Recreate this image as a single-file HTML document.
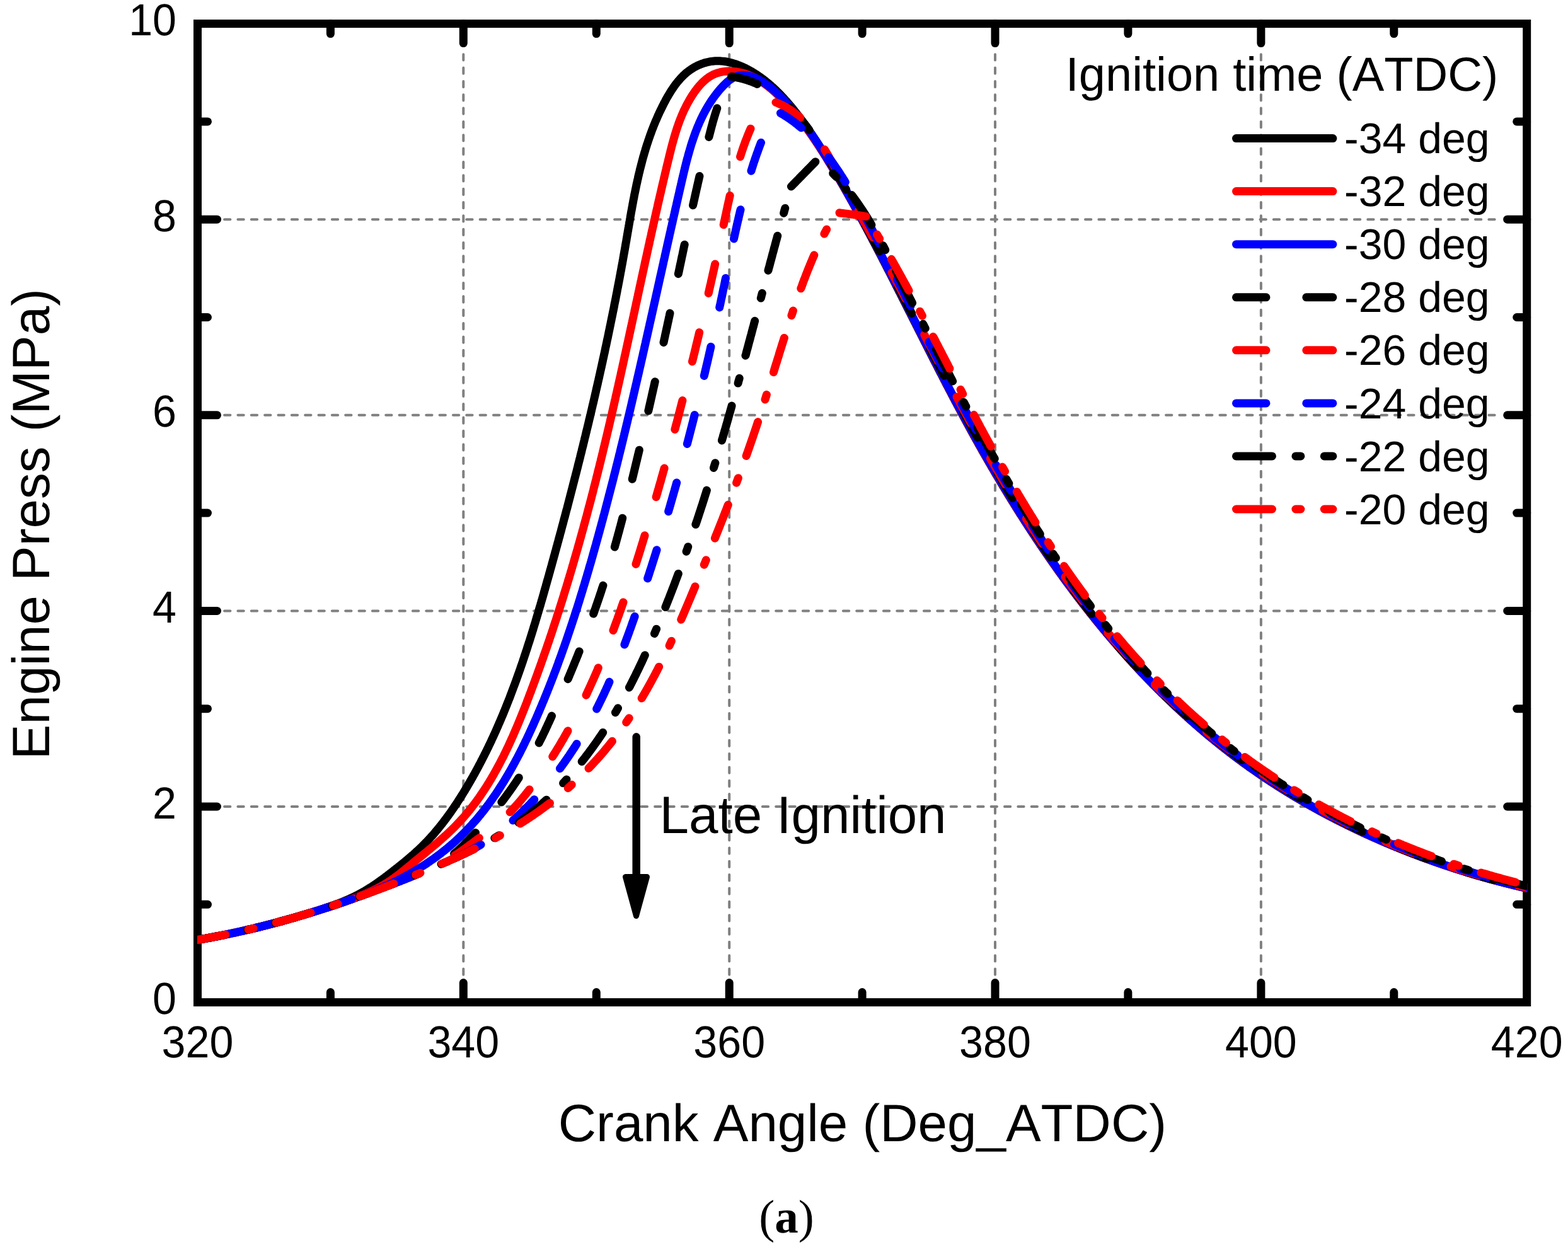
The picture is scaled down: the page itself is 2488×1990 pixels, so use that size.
<!DOCTYPE html>
<html lang="en"><head><meta charset="utf-8"><title>Engine pressure vs crank angle</title>
<style>html,body{margin:0;padding:0;background:#fff}svg{display:block}text{font-family:"Liberation Sans",sans-serif;fill:#000;font-kerning:none;text-rendering:geometricPrecision}.tk{font-size:68.2px}.lg{font-size:68px}.ti{font-size:83.5px}.lt{font-size:75.8px}.cap{font-family:"Liberation Serif",serif;font-size:75px}</style></head><body>
<svg width="2488" height="1990" viewBox="0 0 2488 1990">
<rect x="0" y="0" width="2488" height="1990" fill="#fff"/>
<defs><clipPath id="pc"><rect x="313" y="37.6" width="2110.3" height="1553.0"/></clipPath></defs>
<g id="grid">
<line x1="735.3" y1="86.2" x2="735.3" y2="1552.6" stroke="#808080" stroke-width="4" stroke-linecap="round" stroke-dasharray="9.3 12.043" fill="none"/>
<line x1="1157.2" y1="86.2" x2="1157.2" y2="1552.6" stroke="#808080" stroke-width="4" stroke-linecap="round" stroke-dasharray="9.3 12.043" fill="none"/>
<line x1="1579.0" y1="86.2" x2="1579.0" y2="1552.6" stroke="#808080" stroke-width="4" stroke-linecap="round" stroke-dasharray="9.3 12.043" fill="none"/>
<line x1="2000.9" y1="86.2" x2="2000.9" y2="1552.6" stroke="#808080" stroke-width="4" stroke-linecap="round" stroke-dasharray="9.3 12.043" fill="none"/>
<line x1="356.1" y1="1280.0" x2="2382.7" y2="1280.0" stroke="#808080" stroke-width="4" stroke-linecap="round" stroke-dasharray="9.3 12.043" fill="none"/>
<line x1="356.1" y1="969.4" x2="2382.7" y2="969.4" stroke="#808080" stroke-width="4" stroke-linecap="round" stroke-dasharray="9.3 12.043" fill="none"/>
<line x1="356.1" y1="658.8" x2="2382.7" y2="658.8" stroke="#808080" stroke-width="4" stroke-linecap="round" stroke-dasharray="9.3 12.043" fill="none"/>
<line x1="356.1" y1="348.2" x2="2382.7" y2="348.2" stroke="#808080" stroke-width="4" stroke-linecap="round" stroke-dasharray="9.3 12.043" fill="none"/>
</g>
<g id="axes" stroke="#000" stroke-width="13" stroke-linecap="round" stroke-linejoin="round" fill="none">
<rect x="313.5" y="37.6" width="2109.2" height="1553.0" stroke-linejoin="miter"/>
<line x1="524.4" y1="1590.6" x2="524.4" y2="1574.6"/>
<line x1="524.4" y1="37.6" x2="524.4" y2="53.6"/>
<line x1="735.3" y1="1590.6" x2="735.3" y2="1559.6"/>
<line x1="735.3" y1="37.6" x2="735.3" y2="68.6"/>
<line x1="946.3" y1="1590.6" x2="946.3" y2="1574.6"/>
<line x1="946.3" y1="37.6" x2="946.3" y2="53.6"/>
<line x1="1157.2" y1="1590.6" x2="1157.2" y2="1559.6"/>
<line x1="1157.2" y1="37.6" x2="1157.2" y2="68.6"/>
<line x1="1368.1" y1="1590.6" x2="1368.1" y2="1574.6"/>
<line x1="1368.1" y1="37.6" x2="1368.1" y2="53.6"/>
<line x1="1579.0" y1="1590.6" x2="1579.0" y2="1559.6"/>
<line x1="1579.0" y1="37.6" x2="1579.0" y2="68.6"/>
<line x1="1789.9" y1="1590.6" x2="1789.9" y2="1574.6"/>
<line x1="1789.9" y1="37.6" x2="1789.9" y2="53.6"/>
<line x1="2000.9" y1="1590.6" x2="2000.9" y2="1559.6"/>
<line x1="2000.9" y1="37.6" x2="2000.9" y2="68.6"/>
<line x1="2211.8" y1="1590.6" x2="2211.8" y2="1574.6"/>
<line x1="2211.8" y1="37.6" x2="2211.8" y2="53.6"/>
<line x1="313.5" y1="1435.3" x2="329.5" y2="1435.3"/>
<line x1="2422.7" y1="1435.3" x2="2406.7" y2="1435.3"/>
<line x1="313.5" y1="1280.0" x2="344.5" y2="1280.0"/>
<line x1="2422.7" y1="1280.0" x2="2391.7" y2="1280.0"/>
<line x1="313.5" y1="1124.7" x2="329.5" y2="1124.7"/>
<line x1="2422.7" y1="1124.7" x2="2406.7" y2="1124.7"/>
<line x1="313.5" y1="969.4" x2="344.5" y2="969.4"/>
<line x1="2422.7" y1="969.4" x2="2391.7" y2="969.4"/>
<line x1="313.5" y1="814.1" x2="329.5" y2="814.1"/>
<line x1="2422.7" y1="814.1" x2="2406.7" y2="814.1"/>
<line x1="313.5" y1="658.8" x2="344.5" y2="658.8"/>
<line x1="2422.7" y1="658.8" x2="2391.7" y2="658.8"/>
<line x1="313.5" y1="503.5" x2="329.5" y2="503.5"/>
<line x1="2422.7" y1="503.5" x2="2406.7" y2="503.5"/>
<line x1="313.5" y1="348.2" x2="344.5" y2="348.2"/>
<line x1="2422.7" y1="348.2" x2="2391.7" y2="348.2"/>
<line x1="313.5" y1="192.9" x2="329.5" y2="192.9"/>
<line x1="2422.7" y1="192.9" x2="2406.7" y2="192.9"/>
</g>
<g id="ticklabels" class="tk">
<text transform="translate(313.5,1677.6) scale(1,1.045)" text-anchor="middle">320</text>
<text transform="translate(735.3,1677.6) scale(1,1.045)" text-anchor="middle">340</text>
<text transform="translate(1157.2,1677.6) scale(1,1.045)" text-anchor="middle">360</text>
<text transform="translate(1579.0,1677.6) scale(1,1.045)" text-anchor="middle">380</text>
<text transform="translate(2000.9,1677.6) scale(1,1.045)" text-anchor="middle">400</text>
<text transform="translate(2422.7,1677.6) scale(1,1.045)" text-anchor="middle">420</text>
<text transform="translate(280,1609.1) scale(1,1.045)" text-anchor="end">0</text>
<text transform="translate(280,1298.5) scale(1,1.045)" text-anchor="end">2</text>
<text transform="translate(280,987.9) scale(1,1.045)" text-anchor="end">4</text>
<text transform="translate(280,677.3) scale(1,1.045)" text-anchor="end">6</text>
<text transform="translate(280,366.7) scale(1,1.045)" text-anchor="end">8</text>
<text transform="translate(280,56.1) scale(1,1.045)" text-anchor="end">10</text>
</g>
<g id="curves" clip-path="url(#pc)" fill="none" stroke-width="13" stroke-linejoin="round" stroke-linecap="round">
<polyline points="313.0,1491.5 315.0,1491.2 316.9,1490.8 318.9,1490.5 320.9,1490.2 322.9,1489.8 324.8,1489.5 326.8,1489.1 328.8,1488.8 330.7,1488.4 332.7,1488.0 334.7,1487.7 336.6,1487.3 338.6,1486.9 340.6,1486.6 342.5,1486.2 344.5,1485.8 346.5,1485.4 348.4,1485.0 350.4,1484.6 352.3,1484.3 354.3,1483.9 356.3,1483.5 358.2,1483.1 360.2,1482.7 362.1,1482.3 364.1,1481.8 366.0,1481.4 368.0,1481.0 370.0,1480.6 371.9,1480.2 373.9,1479.8 375.8,1479.3 377.8,1478.9 379.7,1478.5 381.7,1478.0 383.6,1477.6 385.6,1477.2 387.5,1476.7 389.5,1476.3 391.4,1475.8 393.4,1475.4 395.3,1474.9 397.3,1474.5 399.2,1474.0 401.2,1473.5 403.1,1473.1 405.1,1472.6 407.0,1472.1 408.9,1471.6 410.9,1471.2 412.8,1470.7 414.8,1470.2 416.7,1469.7 418.7,1469.2 420.6,1468.7 422.5,1468.2 424.5,1467.8 426.4,1467.3 428.3,1466.7 430.3,1466.2 432.2,1465.7 434.1,1465.2 436.1,1464.7 438.0,1464.2 439.9,1463.7 441.9,1463.2 443.8,1462.6 445.7,1462.1 447.7,1461.6 449.6,1461.0 451.5,1460.5 453.4,1460.0 455.4,1459.4 457.3,1458.9 459.2,1458.4 461.1,1457.8 463.1,1457.3 465.0,1456.7 466.9,1456.2 468.8,1455.6 470.7,1455.0 472.7,1454.5 474.6,1453.9 476.5,1453.3 478.4,1452.8 480.3,1452.2 482.3,1451.6 484.2,1451.1 486.1,1450.5 488.0,1449.9 489.9,1449.3 491.8,1448.8 493.7,1448.2 495.7,1447.6 497.6,1447.0 499.5,1446.4 501.4,1445.8 503.3,1445.2 505.2,1444.6 507.1,1444.0 509.0,1443.4 510.9,1442.8 512.8,1442.2 514.7,1441.5 516.6,1440.9 518.5,1440.3 520.4,1439.6 522.3,1439.0 524.2,1438.3 526.1,1437.6 527.9,1437.0 529.8,1436.3 531.7,1435.6 533.5,1434.9 535.4,1434.2 537.3,1433.5 539.1,1432.8 541.0,1432.0 542.8,1431.3 544.7,1430.6 546.5,1429.8 548.4,1429.0 550.2,1428.2 552.0,1427.4 553.8,1426.6 555.6,1425.8 557.5,1425.0 559.3,1424.1 561.1,1423.3 562.8,1422.4 564.6,1421.5 566.4,1420.6 568.2,1419.7 569.9,1418.8 571.7,1417.8 573.5,1416.9 575.2,1415.9 576.9,1414.9 578.7,1413.9 580.4,1412.9 582.1,1411.9 583.8,1410.8 585.5,1409.7 587.2,1408.7 588.9,1407.6 590.6,1406.5 592.3,1405.4 594.0,1404.3 595.6,1403.1 597.3,1402.0 599.0,1400.8 600.6,1399.7 602.3,1398.5 603.9,1397.3 605.6,1396.1 607.2,1394.9 608.8,1393.7 610.5,1392.5 612.1,1391.3 613.7,1390.1 615.3,1388.9 616.9,1387.6 618.5,1386.4 620.1,1385.1 621.7,1383.9 623.3,1382.7 624.9,1381.4 626.5,1380.1 628.1,1378.9 629.7,1377.6 631.3,1376.4 632.9,1375.1 634.5,1373.8 636.0,1372.6 637.6,1371.3 639.2,1370.0 640.7,1368.8 642.3,1367.5 643.8,1366.2 645.4,1364.9 646.9,1363.6 648.5,1362.3 650.0,1361.0 651.5,1359.7 653.0,1358.4 654.6,1357.1 656.1,1355.8 657.6,1354.4 659.1,1353.1 660.5,1351.7 662.0,1350.4 663.5,1349.0 664.9,1347.7 666.4,1346.3 667.8,1344.9 669.3,1343.5 670.7,1342.1 672.1,1340.7 673.5,1339.3 674.9,1337.8 676.3,1336.4 677.7,1335.0 679.0,1333.5 680.4,1332.1 681.7,1330.6 683.1,1329.1 684.4,1327.6 685.8,1326.2 687.1,1324.7 688.4,1323.2 689.7,1321.7 691.0,1320.1 692.3,1318.6 693.6,1317.1 694.8,1315.5 696.1,1314.0 697.3,1312.5 698.6,1310.9 699.8,1309.3 701.1,1307.8 702.3,1306.2 703.5,1304.6 704.7,1303.0 705.9,1301.4 707.1,1299.9 708.3,1298.3 709.5,1296.6 710.7,1295.0 711.9,1293.4 713.0,1291.8 714.2,1290.2 715.4,1288.5 716.5,1286.9 717.6,1285.3 718.8,1283.6 719.9,1282.0 721.0,1280.3 722.1,1278.7 723.2,1277.0 724.4,1275.3 725.5,1273.7 726.5,1272.0 727.6,1270.3 728.7,1268.6 729.8,1266.9 730.9,1265.3 731.9,1263.6 733.0,1261.9 734.0,1260.2 735.1,1258.5 736.1,1256.8 737.2,1255.1 738.2,1253.4 739.2,1251.6 740.3,1249.9 741.3,1248.2 742.3,1246.5 743.3,1244.8 744.3,1243.1 745.3,1241.3 746.3,1239.6 747.3,1237.9 748.3,1236.1 749.3,1234.4 750.3,1232.7 751.2,1230.9 752.2,1229.2 753.2,1227.5 754.1,1225.7 755.1,1224.0 756.0,1222.2 757.0,1220.5 757.9,1218.7 758.9,1217.0 759.8,1215.2 760.7,1213.4 761.7,1211.7 762.6,1209.9 763.5,1208.1 764.4,1206.4 765.3,1204.6 766.2,1202.8 767.1,1201.1 768.0,1199.3 768.9,1197.5 769.8,1195.7 770.7,1194.0 771.6,1192.2 772.5,1190.4 773.3,1188.6 774.2,1186.8 775.1,1185.0 775.9,1183.2 776.8,1181.4 777.7,1179.6 778.5,1177.8 779.4,1176.0 780.2,1174.2 781.0,1172.4 781.9,1170.6 782.7,1168.8 783.5,1167.0 784.4,1165.2 785.2,1163.4 786.0,1161.6 786.8,1159.8 787.6,1157.9 788.4,1156.1 789.2,1154.3 790.0,1152.5 790.8,1150.7 791.6,1148.8 792.4,1147.0 793.2,1145.2 794.0,1143.3 794.8,1141.5 795.5,1139.7 796.3,1137.8 797.1,1136.0 797.9,1134.2 798.6,1132.3 799.4,1130.5 800.1,1128.6 800.9,1126.8 801.6,1124.9 802.4,1123.1 803.1,1121.2 803.9,1119.4 804.6,1117.5 805.3,1115.7 806.1,1113.8 806.8,1112.0 807.5,1110.1 808.3,1108.3 809.0,1106.4 809.7,1104.5 810.4,1102.7 811.1,1100.8 811.8,1099.0 812.5,1097.1 813.2,1095.2 813.9,1093.3 814.6,1091.5 815.3,1089.6 816.0,1087.7 816.7,1085.9 817.4,1084.0 818.1,1082.1 818.8,1080.2 819.5,1078.3 820.1,1076.5 820.8,1074.6 821.5,1072.7 822.1,1070.8 822.8,1068.9 823.5,1067.1 824.1,1065.2 824.8,1063.3 825.5,1061.4 826.1,1059.5 826.8,1057.6 827.4,1055.7 828.1,1053.8 828.7,1051.9 829.4,1050.0 830.0,1048.1 830.6,1046.2 831.3,1044.3 831.9,1042.4 832.5,1040.5 833.2,1038.6 833.8,1036.7 834.4,1034.8 835.0,1032.9 835.7,1031.0 836.3,1029.1 836.9,1027.2 837.5,1025.3 838.1,1023.4 838.7,1021.5 839.4,1019.6 840.0,1017.7 840.6,1015.8 841.2,1013.8 841.8,1011.9 842.4,1010.0 843.0,1008.1 843.6,1006.2 844.2,1004.3 844.8,1002.4 845.4,1000.4 846.0,998.5 846.5,996.6 847.1,994.7 847.7,992.8 848.3,990.9 848.9,988.9 849.5,987.0 850.0,985.1 850.6,983.2 851.2,981.2 851.8,979.3 852.3,977.4 852.9,975.5 853.5,973.5 854.1,971.6 854.6,969.7 855.2,967.8 855.8,965.8 856.3,963.9 856.9,962.0 857.5,960.1 858.0,958.1 858.6,956.2 859.1,954.3 859.7,952.3 860.3,950.4 860.8,948.5 861.4,946.6 861.9,944.6 862.5,942.7 863.0,940.8 863.6,938.8 864.1,936.9 864.7,935.0 865.2,933.0 865.8,931.1 866.3,929.2 866.9,927.2 867.4,925.3 867.9,923.4 868.5,921.4 869.0,919.5 869.6,917.6 870.1,915.6 870.7,913.7 871.2,911.8 871.7,909.8 872.3,907.9 872.8,906.0 873.3,904.0 873.9,902.1 874.4,900.1 875.0,898.2 875.5,896.3 876.0,894.3 876.6,892.4 877.1,890.5 877.6,888.5 878.2,886.6 878.7,884.7 879.2,882.7 879.8,880.8 880.3,878.9 880.8,876.9 881.3,875.0 881.9,873.0 882.4,871.1 882.9,869.2 883.5,867.2 884.0,865.3 884.5,863.4 885.0,861.4 885.6,859.5 886.1,857.6 886.6,855.6 887.1,853.7 887.7,851.8 888.2,849.8 888.7,847.9 889.2,845.9 889.8,844.0 890.3,842.1 890.8,840.1 891.3,838.2 891.8,836.3 892.3,834.3 892.9,832.4 893.4,830.5 893.9,828.5 894.4,826.6 894.9,824.6 895.4,822.7 896.0,820.8 896.5,818.8 897.0,816.9 897.5,815.0 898.0,813.0 898.5,811.1 899.0,809.1 899.6,807.2 900.1,805.3 900.6,803.3 901.1,801.4 901.6,799.5 902.1,797.5 902.6,795.6 903.1,793.6 903.6,791.7 904.1,789.8 904.6,787.8 905.1,785.9 905.6,784.0 906.1,782.0 906.6,780.1 907.1,778.1 907.6,776.2 908.1,774.3 908.6,772.3 909.1,770.4 909.6,768.4 910.1,766.5 910.6,764.6 911.1,762.6 911.6,760.7 912.1,758.7 912.6,756.8 913.1,754.9 913.6,752.9 914.1,751.0 914.6,749.1 915.1,747.1 915.6,745.2 916.1,743.2 916.6,741.3 917.0,739.4 917.5,737.4 918.0,735.5 918.5,733.5 919.0,731.6 919.5,729.6 920.0,727.7 920.5,725.8 920.9,723.8 921.4,721.9 921.9,719.9 922.4,718.0 922.9,716.1 923.3,714.1 923.8,712.2 924.3,710.2 924.8,708.3 925.3,706.4 925.7,704.4 926.2,702.5 926.7,700.5 927.2,698.6 927.6,696.6 928.1,694.7 928.6,692.8 929.1,690.8 929.5,688.9 930.0,686.9 930.5,685.0 930.9,683.0 931.4,681.1 931.9,679.2 932.4,677.2 932.8,675.3 933.3,673.3 933.8,671.4 934.2,669.4 934.7,667.5 935.1,665.5 935.6,663.6 936.1,661.7 936.5,659.7 937.0,657.8 937.5,655.8 937.9,653.9 938.4,651.9 938.8,650.0 939.3,648.0 939.7,646.1 940.2,644.1 940.6,642.2 941.1,640.3 941.6,638.3 942.0,636.4 942.5,634.4 942.9,632.5 943.4,630.5 943.8,628.6 944.3,626.6 944.7,624.7 945.2,622.7 945.6,620.8 946.0,618.8 946.5,616.9 946.9,614.9 947.4,613.0 947.8,611.1 948.3,609.1 948.7,607.2 949.1,605.2 949.6,603.3 950.0,601.3 950.5,599.4 950.9,597.4 951.3,595.5 951.8,593.5 952.2,591.6 952.6,589.6 953.1,587.7 953.5,585.7 953.9,583.8 954.4,581.8 954.8,579.9 955.2,577.9 955.7,576.0 956.1,574.0 956.5,572.1 956.9,570.1 957.4,568.2 957.8,566.2 958.2,564.3 958.6,562.3 959.1,560.4 959.5,558.4 959.9,556.4 960.3,554.5 960.7,552.5 961.1,550.6 961.6,548.6 962.0,546.7 962.4,544.7 962.8,542.8 963.2,540.8 963.6,538.9 964.1,536.9 964.5,535.0 964.9,533.0 965.3,531.0 965.7,529.1 966.1,527.1 966.5,525.2 966.9,523.2 967.3,521.3 967.7,519.3 968.1,517.4 968.5,515.4 968.9,513.5 969.3,511.5 969.7,509.5 970.1,507.6 970.5,505.6 970.9,503.7 971.3,501.7 971.7,499.8 972.1,497.8 972.5,495.8 972.9,493.9 973.3,491.9 973.7,490.0 974.1,488.0 974.5,486.0 974.8,484.1 975.2,482.1 975.6,480.2 976.0,478.2 976.4,476.2 976.8,474.3 977.2,472.3 977.5,470.4 977.9,468.4 978.3,466.4 978.7,464.5 979.1,462.5 979.4,460.6 979.8,458.6 980.2,456.6 980.6,454.7 980.9,452.7 981.3,450.8 981.7,448.8 982.1,446.8 982.4,444.9 982.8,442.9 983.2,440.9 983.5,439.0 983.9,437.0 984.3,435.0 984.6,433.1 985.0,431.1 985.4,429.2 985.7,427.2 986.1,425.2 986.4,423.3 986.8,421.3 987.2,419.3 987.5,417.4 987.9,415.4 988.2,413.4 988.6,411.5 988.9,409.5 989.3,407.5 989.6,405.6 990.0,403.6 990.3,401.6 990.7,399.7 991.0,397.7 991.4,395.7 991.7,393.8 992.1,391.8 992.4,389.8 992.7,387.8 993.1,385.9 993.4,383.9 993.8,381.9 994.1,380.0 994.4,378.0 994.8,376.0 995.1,374.1 995.5,372.1 995.8,370.1 996.1,368.1 996.5,366.2 996.8,364.2 997.1,362.2 997.5,360.3 997.8,358.3 998.2,356.3 998.5,354.3 998.8,352.4 999.2,350.4 999.5,348.4 999.9,346.5 1000.2,344.5 1000.5,342.5 1000.9,340.6 1001.2,338.6 1001.6,336.6 1001.9,334.7 1002.3,332.7 1002.7,330.7 1003.0,328.8 1003.4,326.8 1003.7,324.8 1004.1,322.9 1004.5,320.9 1004.8,318.9 1005.2,317.0 1005.6,315.0 1006.0,313.1 1006.3,311.1 1006.7,309.1 1007.1,307.2 1007.5,305.2 1007.9,303.3 1008.3,301.3 1008.7,299.4 1009.1,297.4 1009.5,295.5 1009.9,293.5 1010.3,291.6 1010.8,289.6 1011.2,287.7 1011.6,285.7 1012.1,283.8 1012.5,281.8 1012.9,279.9 1013.4,277.9 1013.8,276.0 1014.3,274.0 1014.8,272.1 1015.2,270.2 1015.7,268.2 1016.2,266.3 1016.7,264.4 1017.2,262.4 1017.7,260.5 1018.2,258.6 1018.7,256.6 1019.2,254.7 1019.7,252.8 1020.2,250.9 1020.8,248.9 1021.3,247.0 1021.9,245.1 1022.4,243.2 1023.0,241.3 1023.6,239.4 1024.1,237.4 1024.7,235.5 1025.3,233.6 1025.9,231.7 1026.5,229.8 1027.1,227.9 1027.8,226.0 1028.4,224.1 1029.0,222.2 1029.7,220.3 1030.3,218.4 1031.0,216.5 1031.6,214.6 1032.3,212.8 1033.0,210.9 1033.7,209.0 1034.4,207.1 1035.1,205.2 1035.9,203.3 1036.6,201.5 1037.3,199.6 1038.1,197.7 1038.8,195.9 1039.6,194.0 1040.4,192.1 1041.2,190.3 1042.0,188.4 1042.8,186.6 1043.6,184.7 1044.4,182.9 1045.3,181.0 1046.1,179.2 1047.0,177.3 1047.9,175.5 1048.8,173.6 1049.7,171.8 1050.6,170.0 1051.5,168.1 1052.4,166.3 1053.3,164.5 1054.3,162.7 1055.3,160.9 1056.2,159.0 1057.2,157.2 1058.2,155.4 1059.2,153.6 1060.3,151.9 1061.3,150.1 1062.4,148.3 1063.4,146.6 1064.5,144.8 1065.6,143.1 1066.8,141.4 1067.9,139.7 1069.1,138.0 1070.2,136.4 1071.4,134.7 1072.6,133.1 1073.9,131.5 1075.1,130.0 1076.4,128.4 1077.7,126.9 1079.0,125.4 1080.4,123.9 1081.7,122.5 1083.1,121.1 1084.5,119.7 1085.9,118.3 1087.4,117.0 1088.9,115.7 1090.4,114.5 1091.9,113.3 1093.5,112.1 1095.1,111.0 1096.7,109.9 1098.3,108.8 1100.0,107.8 1101.6,106.8 1103.3,105.9 1105.1,105.0 1106.8,104.1 1108.6,103.3 1110.4,102.6 1112.1,101.8 1114.0,101.2 1115.8,100.5 1117.6,99.9 1119.5,99.4 1121.3,98.9 1123.2,98.5 1125.1,98.1 1127.0,97.7 1128.9,97.4 1130.8,97.2 1132.7,97.0 1134.7,96.8 1136.6,96.8 1138.5,96.7 1140.4,96.7 1142.4,96.8 1144.3,96.9 1146.2,97.1 1148.2,97.3 1150.1,97.5 1152.1,97.8 1154.0,98.2 1155.9,98.6 1157.9,99.0 1159.8,99.5 1161.7,100.0 1163.6,100.6 1165.5,101.2 1167.4,101.8 1169.4,102.5 1171.2,103.2 1173.1,103.9 1175.0,104.7 1176.9,105.5 1178.8,106.3 1180.6,107.2 1182.5,108.0 1184.3,109.0 1186.1,109.9 1188.0,110.9 1189.8,111.9 1191.6,112.9 1193.3,113.9 1195.1,115.0 1196.9,116.1 1198.6,117.2 1200.3,118.3 1202.0,119.4 1203.7,120.6 1205.4,121.7 1207.0,122.9 1208.7,124.1 1210.3,125.3 1211.9,126.5 1213.5,127.8 1215.1,129.0 1216.7,130.3 1218.2,131.5 1219.8,132.8 1221.3,134.1 1222.8,135.4 1224.3,136.8 1225.8,138.1 1227.3,139.5 1228.8,140.8 1230.2,142.2 1231.7,143.6 1233.1,145.0 1234.5,146.4 1235.9,147.8 1237.3,149.2 1238.7,150.7 1240.1,152.1 1241.5,153.6 1242.8,155.0 1244.2,156.5 1245.5,158.0 1246.8,159.5 1248.2,160.9 1249.5,162.5 1250.8,164.0 1252.1,165.5 1253.4,167.0 1254.7,168.5 1255.9,170.1 1257.2,171.6 1258.5,173.1 1259.7,174.7 1261.0,176.3 1262.2,177.8 1263.5,179.4 1264.7,181.0 1265.9,182.5 1267.1,184.1 1268.3,185.7 1269.5,187.3 1270.8,188.9 1271.9,190.5 1273.1,192.1 1274.3,193.7 1275.5,195.3 1276.7,196.9 1277.9,198.6 1279.0,200.2 1280.2,201.8 1281.3,203.5 1282.5,205.1 1283.6,206.7 1284.8,208.4 1285.9,210.0 1287.0,211.7 1288.2,213.3 1289.3,215.0 1290.4,216.7 1291.5,218.3 1292.6,220.0 1293.7,221.7 1294.8,223.3 1295.9,225.0 1297.0,226.7 1298.1,228.4 1299.2,230.1 1300.3,231.8 1301.3,233.5 1302.4,235.2 1303.5,236.9 1304.6,238.6 1305.6,240.3 1306.7,242.0 1307.7,243.7 1308.8,245.4 1309.8,247.1 1310.9,248.8 1311.9,250.5 1313.0,252.2 1314.0,254.0 1315.1,255.7 1316.1,257.4 1317.1,259.1 1318.1,260.9 1319.2,262.6 1320.2,264.3 1321.2,266.0 1322.2,267.8 1323.2,269.5 1324.3,271.2 1325.3,273.0 1326.3,274.7 1327.3,276.5 1328.3,278.2 1329.3,279.9 1330.3,281.7 1331.3,283.4 1332.3,285.1 1333.3,286.9 1334.3,288.6 1335.3,290.4 1336.3,292.1 1337.3,293.9 1338.3,295.6 1339.3,297.3 1340.2,299.1 1341.2,300.8 1342.2,302.6 1343.2,304.3 1344.2,306.1 1345.2,307.8 1346.1,309.6 1347.1,311.3 1348.1,313.1 1349.1,314.8 1350.0,316.6 1351.0,318.3 1352.0,320.1 1352.9,321.8 1353.9,323.6 1354.9,325.3 1355.8,327.1 1356.8,328.8 1357.8,330.6 1358.7,332.3 1359.7,334.1 1360.6,335.8 1361.6,337.6 1362.6,339.3 1363.5,341.1 1364.5,342.9 1365.4,344.6 1366.4,346.4 1367.3,348.1 1368.3,349.9 1369.2,351.7 1370.2,353.4 1371.1,355.2 1372.0,356.9 1373.0,358.7 1373.9,360.5 1374.9,362.2 1375.8,364.0 1376.7,365.7 1377.7,367.5 1378.6,369.3 1379.6,371.0 1380.5,372.8 1381.4,374.6 1382.4,376.3 1383.3,378.1 1384.2,379.9 1385.1,381.6 1386.1,383.4 1387.0,385.2 1387.9,386.9 1388.9,388.7 1389.8,390.5 1390.7,392.2 1391.6,394.0 1392.6,395.8 1393.5,397.5 1394.4,399.3 1395.3,401.1 1396.2,402.8 1397.2,404.6 1398.1,406.4 1399.0,408.1 1399.9,409.9 1400.8,411.7 1401.7,413.5 1402.7,415.2 1403.6,417.0 1404.5,418.8 1405.4,420.5 1406.3,422.3 1407.2,424.1 1408.1,425.9 1409.0,427.6 1409.9,429.4 1410.9,431.2 1411.8,433.0 1412.7,434.7 1413.6,436.5 1414.5,438.3 1415.4,440.1 1416.3,441.8 1417.2,443.6 1418.1,445.4 1419.0,447.2 1419.9,448.9 1420.8,450.7 1421.7,452.5 1422.6,454.3 1423.5,456.0 1424.4,457.8 1425.3,459.6 1426.2,461.4 1427.1,463.1 1428.0,464.9 1428.9,466.7 1429.8,468.5 1430.7,470.2 1431.6,472.0 1432.5,473.8 1433.4,475.6 1434.3,477.4 1435.2,479.1 1436.1,480.9 1437.0,482.7 1437.9,484.5 1438.8,486.2 1439.7,488.0 1440.6,489.8 1441.5,491.6 1442.4,493.4 1443.3,495.1 1444.2,496.9 1445.1,498.7 1446.0,500.5 1446.9,502.2 1447.8,504.0 1448.7,505.8 1449.6,507.6 1450.5,509.4 1451.4,511.1 1452.3,512.9 1453.2,514.7 1454.1,516.5 1455.0,518.2 1455.9,520.0 1456.8,521.8 1457.7,523.6 1458.6,525.4 1459.5,527.1 1460.4,528.9 1461.3,530.7 1462.2,532.5 1463.1,534.2 1464.0,536.0 1464.9,537.8 1465.8,539.6 1466.7,541.4 1467.6,543.1 1468.5,544.9 1469.4,546.7 1470.3,548.5 1471.2,550.2 1472.1,552.0 1473.0,553.8 1473.9,555.6 1474.8,557.4 1475.7,559.1 1476.6,560.9 1477.5,562.7 1478.4,564.5 1479.3,566.2 1480.2,568.0 1481.1,569.8 1482.0,571.6 1482.9,573.3 1483.8,575.1 1484.8,576.9 1485.7,578.7 1486.6,580.4 1487.5,582.2 1488.4,584.0 1489.3,585.8 1490.2,587.5 1491.1,589.3 1492.0,591.1 1493.0,592.8 1493.9,594.6 1494.8,596.4 1495.7,598.2 1496.6,599.9 1497.5,601.7 1498.4,603.5 1499.4,605.2 1500.3,607.0 1501.2,608.8 1502.1,610.6 1503.0,612.3 1504.0,614.1 1504.9,615.9 1505.8,617.6 1506.7,619.4 1507.7,621.2 1508.6,622.9 1509.5,624.7 1510.4,626.5 1511.4,628.2 1512.3,630.0 1513.2,631.8 1514.2,633.5 1515.1,635.3 1516.0,637.1 1517.0,638.8 1517.9,640.6 1518.8,642.4 1519.8,644.1 1520.7,645.9 1521.6,647.7 1522.6,649.4 1523.5,651.2 1524.5,653.0 1525.4,654.7 1526.4,656.5 1527.3,658.2 1528.3,660.0 1529.2,661.8 1530.2,663.5 1531.1,665.3 1532.1,667.0 1533.0,668.8 1534.0,670.6 1534.9,672.3 1535.9,674.1 1536.8,675.8 1537.8,677.6 1538.8,679.3 1539.7,681.1 1540.7,682.9 1541.6,684.6 1542.6,686.4 1543.6,688.1 1544.5,689.9 1545.5,691.6 1546.5,693.4 1547.5,695.1 1548.4,696.9 1549.4,698.6 1550.4,700.4 1551.4,702.1 1552.3,703.9 1553.3,705.6 1554.3,707.4 1555.3,709.1 1556.3,710.9 1557.3,712.6 1558.2,714.4 1559.2,716.1 1560.2,717.8 1561.2,719.6 1562.2,721.3 1563.2,723.1 1564.2,724.8 1565.2,726.6 1566.2,728.3 1567.2,730.0 1568.2,731.8 1569.2,733.5 1570.2,735.3 1571.2,737.0 1572.2,738.7 1573.2,740.5 1574.2,742.2 1575.3,743.9 1576.3,745.7 1577.3,747.4 1578.3,749.1 1579.3,750.9 1580.3,752.6 1581.4,754.3 1582.4,756.1 1583.4,757.8 1584.4,759.5 1585.5,761.2 1586.5,763.0 1587.5,764.7 1588.5,766.4 1589.6,768.1 1590.6,769.9 1591.6,771.6 1592.7,773.3 1593.7,775.0 1594.8,776.8 1595.8,778.5 1596.9,780.2 1597.9,781.9 1598.9,783.6 1600.0,785.3 1601.0,787.1 1602.1,788.8 1603.1,790.5 1604.2,792.2 1605.3,793.9 1606.3,795.6 1607.4,797.3 1608.4,799.0 1609.5,800.7 1610.6,802.4 1611.6,804.2 1612.7,805.9 1613.8,807.6 1614.8,809.3 1615.9,811.0 1617.0,812.7 1618.0,814.4 1619.1,816.1 1620.2,817.8 1621.3,819.5 1622.4,821.2 1623.4,822.8 1624.5,824.5 1625.6,826.2 1626.7,827.9 1627.8,829.6 1628.9,831.3 1630.0,833.0 1631.1,834.7 1632.2,836.4 1633.3,838.0 1634.4,839.7 1635.5,841.4 1636.6,843.1 1637.7,844.8 1638.8,846.5 1639.9,848.1 1641.0,849.8 1642.1,851.5 1643.2,853.2 1644.3,854.8 1645.4,856.5 1646.5,858.2 1647.7,859.8 1648.8,861.5 1649.9,863.2 1651.0,864.9 1652.2,866.5 1653.3,868.2 1654.4,869.8 1655.5,871.5 1656.7,873.2 1657.8,874.8 1658.9,876.5 1660.1,878.1 1661.2,879.8 1662.4,881.4 1663.5,883.1 1664.6,884.7 1665.8,886.4 1666.9,888.0 1668.1,889.7 1669.2,891.3 1670.4,893.0 1671.5,894.6 1672.7,896.3 1673.9,897.9 1675.0,899.5 1676.2,901.2 1677.3,902.8 1678.5,904.5 1679.7,906.1 1680.8,907.7 1682.0,909.4 1683.2,911.0 1684.4,912.6 1685.5,914.2 1686.7,915.9 1687.9,917.5 1689.1,919.1 1690.2,920.7 1691.4,922.4 1692.6,924.0 1693.8,925.6 1695.0,927.2 1696.2,928.8 1697.4,930.4 1698.6,932.0 1699.8,933.6 1701.0,935.3 1702.2,936.9 1703.4,938.5 1704.6,940.1 1705.8,941.7 1707.0,943.3 1708.2,944.9 1709.4,946.5 1710.6,948.1 1711.8,949.6 1713.1,951.2 1714.3,952.8 1715.5,954.4 1716.7,956.0 1717.9,957.6 1719.2,959.2 1720.4,960.8 1721.6,962.3 1722.9,963.9 1724.1,965.5 1725.3,967.1 1726.6,968.6 1727.8,970.2 1729.0,971.8 1730.3,973.4 1731.5,974.9 1732.8,976.5 1734.0,978.0 1735.3,979.6 1736.5,981.2 1737.8,982.7 1739.0,984.3 1740.3,985.8 1741.6,987.4 1742.8,988.9 1744.1,990.5 1745.3,992.0 1746.6,993.6 1747.9,995.1 1749.2,996.7 1750.4,998.2 1751.7,999.8 1753.0,1001.3 1754.3,1002.8 1755.5,1004.4 1756.8,1005.9 1758.1,1007.4 1759.4,1009.0 1760.7,1010.5 1762.0,1012.0 1763.3,1013.5 1764.6,1015.0 1765.9,1016.6 1767.2,1018.1 1768.5,1019.6 1769.8,1021.1 1771.1,1022.6 1772.4,1024.1 1773.7,1025.6 1775.0,1027.1 1776.3,1028.6 1777.6,1030.1 1778.9,1031.6 1780.3,1033.1 1781.6,1034.6 1782.9,1036.1 1784.2,1037.6 1785.5,1039.1 1786.9,1040.6 1788.2,1042.1 1789.5,1043.6 1790.9,1045.0 1792.2,1046.5 1793.6,1048.0 1794.9,1049.5 1796.2,1050.9 1797.6,1052.4 1798.9,1053.9 1800.3,1055.4 1801.6,1056.8 1803.0,1058.3 1804.3,1059.7 1805.7,1061.2 1807.1,1062.7 1808.4,1064.1 1809.8,1065.6 1811.1,1067.0 1812.5,1068.5 1813.9,1069.9 1815.3,1071.4 1816.6,1072.8 1818.0,1074.2 1819.4,1075.7 1820.8,1077.1 1822.1,1078.5 1823.5,1080.0 1824.9,1081.4 1826.3,1082.8 1827.7,1084.2 1829.1,1085.7 1830.5,1087.1 1831.9,1088.5 1833.3,1089.9 1834.7,1091.3 1836.1,1092.7 1837.5,1094.1 1838.9,1095.6 1840.3,1097.0 1841.7,1098.4 1843.1,1099.8 1844.5,1101.2 1846.0,1102.5 1847.4,1103.9 1848.8,1105.3 1850.2,1106.7 1851.7,1108.1 1853.1,1109.5 1854.5,1110.9 1856.0,1112.2 1857.4,1113.6 1858.8,1115.0 1860.3,1116.4 1861.7,1117.7 1863.2,1119.1 1864.6,1120.5 1866.1,1121.8 1867.5,1123.2 1869.0,1124.5 1870.4,1125.9 1871.9,1127.2 1873.3,1128.6 1874.8,1129.9 1876.3,1131.3 1877.7,1132.6 1879.2,1134.0 1880.7,1135.3 1882.1,1136.6 1883.6,1138.0 1885.1,1139.3 1886.6,1140.6 1888.1,1141.9 1889.5,1143.3 1891.0,1144.6 1892.5,1145.9 1894.0,1147.2 1895.5,1148.5 1897.0,1149.8 1898.5,1151.1 1900.0,1152.4 1901.5,1153.7 1903.0,1155.0 1904.5,1156.3 1906.0,1157.6 1907.5,1158.9 1909.0,1160.2 1910.6,1161.5 1912.1,1162.8 1913.6,1164.1 1915.1,1165.3 1916.6,1166.6 1918.2,1167.9 1919.7,1169.2 1921.2,1170.4 1922.8,1171.7 1924.3,1172.9 1925.8,1174.2 1927.4,1175.5 1928.9,1176.7 1930.5,1178.0 1932.0,1179.2 1933.6,1180.5 1935.1,1181.7 1936.7,1182.9 1938.2,1184.2 1939.8,1185.4 1941.4,1186.6 1942.9,1187.9 1944.5,1189.1 1946.1,1190.3 1947.6,1191.5 1949.2,1192.8 1950.8,1194.0 1952.4,1195.2 1954.0,1196.4 1955.5,1197.6 1957.1,1198.8 1958.7,1200.0 1960.3,1201.2 1961.9,1202.4 1963.5,1203.6 1965.1,1204.8 1966.7,1206.0 1968.3,1207.1 1969.9,1208.3 1971.5,1209.5 1973.1,1210.7 1974.7,1211.9 1976.3,1213.0 1978.0,1214.2 1979.6,1215.4 1981.2,1216.5 1982.8,1217.7 1984.5,1218.8 1986.1,1220.0 1987.7,1221.1 1989.4,1222.3 1991.0,1223.4 1992.6,1224.5 1994.3,1225.7 1995.9,1226.8 1997.6,1227.9 1999.2,1229.1 2000.9,1230.2 2002.5,1231.3 2004.2,1232.4 2005.8,1233.6 2007.5,1234.7 2009.2,1235.8 2010.8,1236.9 2012.5,1238.0 2014.2,1239.1 2015.8,1240.2 2017.5,1241.3 2019.2,1242.4 2020.9,1243.5 2022.5,1244.5 2024.2,1245.6 2025.9,1246.7 2027.6,1247.8 2029.3,1248.9 2031.0,1249.9 2032.7,1251.0 2034.4,1252.1 2036.1,1253.1 2037.8,1254.2 2039.5,1255.2 2041.2,1256.3 2042.9,1257.3 2044.6,1258.4 2046.3,1259.4 2048.0,1260.5 2049.7,1261.5 2051.5,1262.5 2053.2,1263.6 2054.9,1264.6 2056.6,1265.6 2058.3,1266.6 2060.1,1267.7 2061.8,1268.7 2063.5,1269.7 2065.3,1270.7 2067.0,1271.7 2068.7,1272.7 2070.5,1273.7 2072.2,1274.7 2074.0,1275.7 2075.7,1276.7 2077.5,1277.7 2079.2,1278.7 2081.0,1279.7 2082.7,1280.6 2084.5,1281.6 2086.2,1282.6 2088.0,1283.6 2089.7,1284.5 2091.5,1285.5 2093.3,1286.5 2095.0,1287.4 2096.8,1288.4 2098.6,1289.3 2100.3,1290.3 2102.1,1291.2 2103.9,1292.2 2105.7,1293.1 2107.4,1294.1 2109.2,1295.0 2111.0,1295.9 2112.8,1296.9 2114.6,1297.8 2116.4,1298.7 2118.2,1299.6 2119.9,1300.6 2121.7,1301.5 2123.5,1302.4 2125.3,1303.3 2127.1,1304.2 2128.9,1305.1 2130.7,1306.0 2132.5,1306.9 2134.3,1307.8 2136.1,1308.7 2137.9,1309.6 2139.7,1310.5 2141.5,1311.3 2143.4,1312.2 2145.2,1313.1 2147.0,1314.0 2148.8,1314.8 2150.6,1315.7 2152.4,1316.6 2154.3,1317.4 2156.1,1318.3 2157.9,1319.2 2159.7,1320.0 2161.5,1320.9 2163.4,1321.7 2165.2,1322.5 2167.0,1323.4 2168.9,1324.2 2170.7,1325.1 2172.5,1325.9 2174.4,1326.7 2176.2,1327.6 2178.0,1328.4 2179.9,1329.2 2181.7,1330.0 2183.6,1330.8 2185.4,1331.6 2187.2,1332.4 2189.1,1333.2 2190.9,1334.1 2192.8,1334.9 2194.6,1335.6 2196.5,1336.4 2198.3,1337.2 2200.2,1338.0 2202.0,1338.8 2203.9,1339.6 2205.8,1340.4 2207.6,1341.1 2209.5,1341.9 2211.3,1342.7 2213.2,1343.4 2215.0,1344.2 2216.9,1345.0 2218.8,1345.7 2220.6,1346.5 2222.5,1347.2 2224.4,1348.0 2226.2,1348.7 2228.1,1349.5 2230.0,1350.2 2231.9,1350.9 2233.7,1351.7 2235.6,1352.4 2237.5,1353.1 2239.4,1353.9 2241.2,1354.6 2243.1,1355.3 2245.0,1356.0 2246.9,1356.7 2248.7,1357.4 2250.6,1358.2 2252.5,1358.9 2254.4,1359.6 2256.3,1360.3 2258.2,1361.0 2260.0,1361.6 2261.9,1362.3 2263.8,1363.0 2265.7,1363.7 2267.6,1364.4 2269.5,1365.1 2271.4,1365.7 2273.3,1366.4 2275.2,1367.1 2277.1,1367.7 2278.9,1368.4 2280.8,1369.1 2282.7,1369.7 2284.6,1370.4 2286.5,1371.0 2288.4,1371.7 2290.3,1372.3 2292.2,1373.0 2294.1,1373.6 2296.0,1374.2 2297.9,1374.9 2299.8,1375.5 2301.7,1376.1 2303.6,1376.7 2305.5,1377.4 2307.4,1378.0 2309.3,1378.6 2311.2,1379.2 2313.1,1379.8 2315.1,1380.4 2317.0,1381.0 2318.9,1381.6 2320.8,1382.2 2322.7,1382.8 2324.6,1383.4 2326.5,1384.0 2328.4,1384.6 2330.3,1385.2 2332.2,1385.7 2334.1,1386.3 2336.1,1386.9 2338.0,1387.5 2339.9,1388.0 2341.8,1388.6 2343.7,1389.2 2345.6,1389.7 2347.5,1390.3 2349.5,1390.8 2351.4,1391.4 2353.3,1391.9 2355.2,1392.5 2357.1,1393.0 2359.0,1393.5 2361.0,1394.1 2362.9,1394.6 2364.8,1395.1 2366.7,1395.7 2368.6,1396.2 2370.5,1396.7 2372.5,1397.2 2374.4,1397.7 2376.3,1398.2 2378.2,1398.8 2380.1,1399.3 2382.1,1399.8 2384.0,1400.3 2385.9,1400.8 2387.8,1401.2 2389.7,1401.7 2391.7,1402.2 2393.6,1402.7 2395.5,1403.2 2397.4,1403.7 2399.3,1404.1 2401.3,1404.6 2403.2,1405.1 2405.1,1405.5 2407.0,1406.0 2408.9,1406.5 2410.9,1406.9 2412.8,1407.4 2414.7,1407.8 2416.6,1408.3 2418.6,1408.7 2420.5,1409.2 2421.0,1409.3" stroke="#000"/>
<polyline points="313.0,1491.5 315.0,1491.2 316.9,1490.8 318.9,1490.5 320.9,1490.1 322.9,1489.8 324.8,1489.5 326.8,1489.1 328.8,1488.8 330.7,1488.4 332.7,1488.0 334.7,1487.7 336.6,1487.3 338.6,1486.9 340.6,1486.6 342.5,1486.2 344.5,1485.8 346.5,1485.4 348.4,1485.0 350.4,1484.6 352.3,1484.3 354.3,1483.9 356.3,1483.5 358.2,1483.1 360.2,1482.7 362.1,1482.3 364.1,1481.8 366.1,1481.4 368.0,1481.0 370.0,1480.6 371.9,1480.2 373.9,1479.8 375.8,1479.3 377.8,1478.9 379.7,1478.5 381.7,1478.0 383.6,1477.6 385.6,1477.2 387.5,1476.7 389.5,1476.3 391.4,1475.8 393.4,1475.4 395.3,1474.9 397.3,1474.4 399.2,1474.0 401.2,1473.5 403.1,1473.1 405.1,1472.6 407.0,1472.1 408.9,1471.6 410.9,1471.2 412.8,1470.7 414.8,1470.2 416.7,1469.7 418.6,1469.2 420.6,1468.7 422.5,1468.2 424.5,1467.7 426.4,1467.2 428.3,1466.7 430.3,1466.2 432.2,1465.7 434.1,1465.2 436.1,1464.7 438.0,1464.2 439.9,1463.7 441.9,1463.2 443.8,1462.6 445.7,1462.1 447.7,1461.6 449.6,1461.1 451.5,1460.5 453.4,1460.0 455.4,1459.4 457.3,1458.9 459.2,1458.4 461.1,1457.8 463.1,1457.3 465.0,1456.7 466.9,1456.2 468.8,1455.6 470.7,1455.0 472.7,1454.5 474.6,1453.9 476.5,1453.4 478.4,1452.8 480.3,1452.2 482.3,1451.6 484.2,1451.1 486.1,1450.5 488.0,1449.9 489.9,1449.3 491.8,1448.7 493.7,1448.2 495.7,1447.6 497.6,1447.0 499.5,1446.4 501.4,1445.8 503.3,1445.2 505.2,1444.6 507.1,1444.0 509.0,1443.4 510.9,1442.8 512.8,1442.2 514.7,1441.5 516.6,1440.9 518.5,1440.3 520.4,1439.7 522.3,1439.1 524.2,1438.4 526.1,1437.8 528.0,1437.2 529.9,1436.6 531.8,1435.9 533.7,1435.3 535.6,1434.7 537.5,1434.0 539.4,1433.4 541.3,1432.7 543.2,1432.1 545.1,1431.4 547.0,1430.8 548.9,1430.1 550.8,1429.5 552.6,1428.8 554.5,1428.1 556.4,1427.5 558.3,1426.8 560.2,1426.1 562.0,1425.4 563.9,1424.7 565.8,1424.0 567.6,1423.3 569.5,1422.6 571.4,1421.9 573.2,1421.1 575.1,1420.4 576.9,1419.6 578.7,1418.9 580.6,1418.1 582.4,1417.3 584.2,1416.5 586.0,1415.7 587.8,1414.9 589.7,1414.1 591.4,1413.2 593.2,1412.3 595.0,1411.5 596.8,1410.6 598.6,1409.7 600.3,1408.8 602.1,1407.8 603.8,1406.9 605.6,1405.9 607.3,1405.0 609.0,1404.0 610.8,1402.9 612.5,1401.9 614.2,1400.9 615.9,1399.8 617.5,1398.7 619.2,1397.6 620.9,1396.5 622.5,1395.3 624.2,1394.2 625.8,1393.0 627.4,1391.8 629.0,1390.6 630.7,1389.4 632.3,1388.1 633.9,1386.9 635.5,1385.6 637.0,1384.4 638.6,1383.1 640.2,1381.8 641.8,1380.6 643.4,1379.3 644.9,1378.0 646.5,1376.7 648.1,1375.4 649.7,1374.1 651.2,1372.8 652.8,1371.5 654.4,1370.2 655.9,1368.9 657.5,1367.6 659.1,1366.3 660.6,1365.0 662.2,1363.8 663.8,1362.5 665.3,1361.2 666.9,1359.9 668.5,1358.6 670.0,1357.4 671.6,1356.1 673.2,1354.8 674.7,1353.5 676.3,1352.2 677.8,1351.0 679.4,1349.7 680.9,1348.4 682.5,1347.1 684.0,1345.8 685.6,1344.5 687.1,1343.2 688.6,1342.0 690.2,1340.7 691.7,1339.4 693.2,1338.1 694.7,1336.8 696.2,1335.5 697.7,1334.1 699.2,1332.8 700.7,1331.5 702.2,1330.2 703.7,1328.9 705.2,1327.5 706.7,1326.2 708.1,1324.9 709.6,1323.5 711.0,1322.2 712.5,1320.8 713.9,1319.5 715.3,1318.1 716.8,1316.7 718.2,1315.3 719.6,1314.0 721.0,1312.6 722.4,1311.2 723.7,1309.8 725.1,1308.3 726.5,1306.9 727.8,1305.5 729.2,1304.0 730.5,1302.6 731.8,1301.1 733.2,1299.7 734.5,1298.2 735.8,1296.7 737.1,1295.3 738.3,1293.8 739.6,1292.3 740.9,1290.8 742.1,1289.3 743.4,1287.7 744.6,1286.2 745.9,1284.7 747.1,1283.1 748.3,1281.6 749.5,1280.0 750.7,1278.5 751.9,1276.9 753.1,1275.3 754.3,1273.8 755.5,1272.2 756.6,1270.6 757.8,1269.0 758.9,1267.4 760.1,1265.8 761.2,1264.2 762.3,1262.6 763.4,1260.9 764.5,1259.3 765.6,1257.7 766.7,1256.0 767.8,1254.4 768.9,1252.7 770.0,1251.0 771.1,1249.4 772.1,1247.7 773.2,1246.0 774.2,1244.3 775.3,1242.7 776.3,1241.0 777.3,1239.3 778.4,1237.6 779.4,1235.9 780.4,1234.1 781.4,1232.4 782.4,1230.7 783.4,1229.0 784.4,1227.2 785.3,1225.5 786.3,1223.8 787.3,1222.0 788.2,1220.3 789.2,1218.5 790.1,1216.8 791.1,1215.0 792.0,1213.2 793.0,1211.5 793.9,1209.7 794.8,1207.9 795.7,1206.1 796.6,1204.3 797.6,1202.6 798.5,1200.8 799.4,1199.0 800.2,1197.2 801.1,1195.4 802.0,1193.6 802.9,1191.7 803.8,1189.9 804.6,1188.1 805.5,1186.3 806.4,1184.5 807.2,1182.7 808.1,1180.8 808.9,1179.0 809.7,1177.2 810.6,1175.3 811.4,1173.5 812.2,1171.6 813.1,1169.8 813.9,1167.9 814.7,1166.1 815.5,1164.2 816.3,1162.4 817.1,1160.5 817.9,1158.7 818.7,1156.8 819.5,1154.9 820.3,1153.1 821.1,1151.2 821.9,1149.3 822.7,1147.5 823.4,1145.6 824.2,1143.7 825.0,1141.9 825.7,1140.0 826.5,1138.1 827.3,1136.2 828.0,1134.3 828.8,1132.5 829.5,1130.6 830.3,1128.7 831.0,1126.8 831.8,1124.9 832.5,1123.0 833.3,1121.1 834.0,1119.2 834.7,1117.4 835.5,1115.5 836.2,1113.6 836.9,1111.7 837.6,1109.8 838.4,1107.9 839.1,1106.0 839.8,1104.1 840.5,1102.2 841.2,1100.3 842.0,1098.4 842.7,1096.5 843.4,1094.6 844.1,1092.7 844.8,1090.8 845.5,1089.0 846.2,1087.1 846.9,1085.2 847.6,1083.3 848.3,1081.4 849.0,1079.5 849.7,1077.6 850.4,1075.7 851.1,1073.8 851.8,1071.9 852.5,1070.0 853.2,1068.1 853.8,1066.2 854.5,1064.3 855.2,1062.4 855.9,1060.5 856.6,1058.6 857.3,1056.7 857.9,1054.8 858.6,1052.9 859.3,1051.0 859.9,1049.1 860.6,1047.2 861.3,1045.3 862.0,1043.4 862.6,1041.5 863.3,1039.6 863.9,1037.7 864.6,1035.8 865.3,1033.9 865.9,1032.1 866.6,1030.2 867.2,1028.3 867.9,1026.4 868.5,1024.5 869.2,1022.6 869.8,1020.7 870.5,1018.8 871.1,1016.9 871.8,1015.0 872.4,1013.1 873.0,1011.2 873.7,1009.3 874.3,1007.4 875.0,1005.5 875.6,1003.6 876.2,1001.7 876.9,999.8 877.5,997.9 878.1,996.0 878.7,994.0 879.4,992.1 880.0,990.2 880.6,988.3 881.2,986.4 881.9,984.5 882.5,982.6 883.1,980.7 883.7,978.8 884.3,976.9 884.9,975.0 885.5,973.1 886.2,971.2 886.8,969.3 887.4,967.4 888.0,965.5 888.6,963.6 889.2,961.7 889.8,959.8 890.4,957.9 891.0,956.0 891.6,954.1 892.2,952.2 892.8,950.3 893.4,948.4 894.0,946.5 894.6,944.5 895.1,942.6 895.7,940.7 896.3,938.8 896.9,936.9 897.5,935.0 898.1,933.1 898.7,931.2 899.2,929.3 899.8,927.4 900.4,925.5 901.0,923.6 901.5,921.7 902.1,919.8 902.7,917.8 903.3,915.9 903.8,914.0 904.4,912.1 905.0,910.2 905.5,908.3 906.1,906.4 906.7,904.5 907.2,902.6 907.8,900.7 908.3,898.7 908.9,896.8 909.5,894.9 910.0,893.0 910.6,891.1 911.1,889.2 911.7,887.3 912.2,885.4 912.8,883.5 913.3,881.5 913.9,879.6 914.4,877.7 915.0,875.8 915.5,873.9 916.1,872.0 916.6,870.1 917.2,868.1 917.7,866.2 918.2,864.3 918.8,862.4 919.3,860.5 919.9,858.6 920.4,856.7 920.9,854.7 921.5,852.8 922.0,850.9 922.5,849.0 923.0,847.1 923.6,845.2 924.1,843.2 924.6,841.3 925.2,839.4 925.7,837.5 926.2,835.6 926.7,833.6 927.2,831.7 927.8,829.8 928.3,827.9 928.8,826.0 929.3,824.1 929.8,822.1 930.4,820.2 930.9,818.3 931.4,816.4 931.9,814.5 932.4,812.5 932.9,810.6 933.4,808.7 933.9,806.8 934.4,804.8 934.9,802.9 935.5,801.0 936.0,799.1 936.5,797.1 937.0,795.2 937.5,793.3 938.0,791.4 938.5,789.5 939.0,787.5 939.5,785.6 940.0,783.7 940.5,781.8 941.0,779.8 941.5,777.9 941.9,776.0 942.4,774.0 942.9,772.1 943.4,770.2 943.9,768.3 944.4,766.3 944.9,764.4 945.4,762.5 945.9,760.6 946.3,758.6 946.8,756.7 947.3,754.8 947.8,752.8 948.3,750.9 948.8,749.0 949.2,747.0 949.7,745.1 950.2,743.2 950.7,741.3 951.2,739.3 951.6,737.4 952.1,735.5 952.6,733.5 953.1,731.6 953.5,729.7 954.0,727.7 954.5,725.8 955.0,723.9 955.4,721.9 955.9,720.0 956.4,718.1 956.8,716.1 957.3,714.2 957.8,712.2 958.2,710.3 958.7,708.4 959.2,706.4 959.6,704.5 960.1,702.6 960.6,700.6 961.0,698.7 961.5,696.7 961.9,694.8 962.4,692.9 962.9,690.9 963.3,689.0 963.8,687.0 964.2,685.1 964.7,683.2 965.2,681.2 965.6,679.3 966.1,677.3 966.5,675.4 967.0,673.5 967.4,671.5 967.9,669.6 968.3,667.6 968.8,665.7 969.2,663.7 969.7,661.8 970.1,659.8 970.6,657.9 971.0,656.0 971.5,654.0 971.9,652.1 972.4,650.1 972.8,648.2 973.3,646.2 973.7,644.3 974.2,642.3 974.6,640.4 975.0,638.4 975.5,636.5 975.9,634.5 976.4,632.6 976.8,630.6 977.2,628.7 977.7,626.7 978.1,624.8 978.6,622.8 979.0,620.9 979.4,618.9 979.9,617.0 980.3,615.0 980.8,613.1 981.2,611.1 981.6,609.2 982.1,607.2 982.5,605.3 982.9,603.3 983.4,601.4 983.8,599.4 984.2,597.5 984.7,595.5 985.1,593.5 985.5,591.6 986.0,589.6 986.4,587.7 986.8,585.7 987.3,583.8 987.7,581.8 988.1,579.9 988.6,577.9 989.0,575.9 989.4,574.0 989.9,572.0 990.3,570.1 990.7,568.1 991.1,566.2 991.6,564.2 992.0,562.2 992.4,560.3 992.9,558.3 993.3,556.4 993.7,554.4 994.1,552.4 994.6,550.5 995.0,548.5 995.4,546.6 995.8,544.6 996.3,542.7 996.7,540.7 997.1,538.7 997.5,536.8 998.0,534.8 998.4,532.9 998.8,530.9 999.2,528.9 999.7,527.0 1000.1,525.0 1000.5,523.1 1000.9,521.1 1001.4,519.1 1001.8,517.2 1002.2,515.2 1002.6,513.3 1003.1,511.3 1003.5,509.3 1003.9,507.4 1004.3,505.4 1004.8,503.4 1005.2,501.5 1005.6,499.5 1006.0,497.6 1006.5,495.6 1006.9,493.6 1007.3,491.7 1007.7,489.7 1008.1,487.8 1008.6,485.8 1009.0,483.8 1009.4,481.9 1009.8,479.9 1010.3,477.9 1010.7,476.0 1011.1,474.0 1011.5,472.1 1012.0,470.1 1012.4,468.1 1012.8,466.2 1013.2,464.2 1013.6,462.2 1014.1,460.3 1014.5,458.3 1014.9,456.4 1015.3,454.4 1015.8,452.4 1016.2,450.5 1016.6,448.5 1017.0,446.5 1017.5,444.6 1017.9,442.6 1018.3,440.7 1018.7,438.7 1019.2,436.7 1019.6,434.8 1020.0,432.8 1020.4,430.9 1020.9,428.9 1021.3,426.9 1021.7,425.0 1022.1,423.0 1022.6,421.0 1023.0,419.1 1023.4,417.1 1023.8,415.2 1024.3,413.2 1024.7,411.2 1025.1,409.3 1025.6,407.3 1026.0,405.4 1026.4,403.4 1026.8,401.4 1027.3,399.5 1027.7,397.5 1028.1,395.6 1028.6,393.6 1029.0,391.6 1029.4,389.7 1029.9,387.7 1030.3,385.8 1030.7,383.8 1031.1,381.8 1031.6,379.9 1032.0,377.9 1032.4,376.0 1032.9,374.0 1033.3,372.0 1033.7,370.1 1034.2,368.1 1034.6,366.2 1035.0,364.2 1035.5,362.3 1035.9,360.3 1036.4,358.3 1036.8,356.4 1037.2,354.4 1037.7,352.5 1038.1,350.5 1038.5,348.6 1039.0,346.6 1039.4,344.6 1039.9,342.7 1040.3,340.7 1040.7,338.8 1041.2,336.8 1041.6,334.9 1042.1,332.9 1042.5,331.0 1043.0,329.0 1043.4,327.1 1043.8,325.1 1044.3,323.1 1044.7,321.2 1045.2,319.2 1045.6,317.3 1046.1,315.3 1046.5,313.4 1047.0,311.4 1047.4,309.5 1047.9,307.5 1048.3,305.6 1048.8,303.6 1049.2,301.7 1049.7,299.7 1050.1,297.8 1050.6,295.8 1051.0,293.9 1051.5,291.9 1051.9,290.0 1052.4,288.0 1052.9,286.1 1053.3,284.1 1053.8,282.2 1054.2,280.2 1054.7,278.3 1055.1,276.3 1055.6,274.4 1056.1,272.5 1056.5,270.5 1057.0,268.6 1057.4,266.6 1057.9,264.7 1058.4,262.7 1058.8,260.8 1059.3,258.8 1059.8,256.9 1060.2,255.0 1060.7,253.0 1061.2,251.1 1061.7,249.1 1062.1,247.2 1062.6,245.2 1063.1,243.3 1063.6,241.4 1064.0,239.4 1064.5,237.5 1065.0,235.6 1065.5,233.6 1066.0,231.7 1066.5,229.8 1067.0,227.8 1067.6,225.9 1068.1,224.0 1068.6,222.1 1069.2,220.2 1069.7,218.2 1070.3,216.3 1070.8,214.4 1071.4,212.5 1072.0,210.6 1072.6,208.7 1073.2,206.8 1073.8,204.9 1074.4,203.0 1075.0,201.2 1075.7,199.3 1076.3,197.4 1077.0,195.5 1077.7,193.7 1078.4,191.8 1079.1,189.9 1079.8,188.1 1080.6,186.2 1081.3,184.4 1082.1,182.5 1082.9,180.7 1083.7,178.9 1084.5,177.0 1085.3,175.2 1086.2,173.4 1087.1,171.6 1088.0,169.8 1088.9,168.0 1089.8,166.2 1090.7,164.4 1091.7,162.7 1092.7,160.9 1093.7,159.1 1094.7,157.4 1095.8,155.6 1096.8,153.9 1097.9,152.1 1099.0,150.4 1100.2,148.7 1101.3,147.0 1102.5,145.3 1103.7,143.6 1105.0,142.0 1106.2,140.3 1107.5,138.7 1108.8,137.2 1110.1,135.6 1111.5,134.1 1112.9,132.6 1114.3,131.2 1115.7,129.8 1117.2,128.4 1118.7,127.1 1120.2,125.8 1121.7,124.6 1123.3,123.5 1124.9,122.3 1126.5,121.3 1128.2,120.3 1129.8,119.4 1131.5,118.5 1133.3,117.7 1135.1,117.0 1136.9,116.3 1138.7,115.7 1140.5,115.2 1142.4,114.7 1144.3,114.3 1146.2,113.9 1148.1,113.6 1150.0,113.4 1152.0,113.2 1154.0,113.1 1155.9,113.1 1157.9,113.1 1159.9,113.1 1161.9,113.2 1163.9,113.4 1165.9,113.6 1167.9,113.8 1169.9,114.1 1171.9,114.5 1173.9,114.9 1175.9,115.3 1177.9,115.8 1179.8,116.4 1181.8,116.9 1183.7,117.6 1185.7,118.2 1187.6,118.9 1189.5,119.7 1191.3,120.4 1193.2,121.2 1195.0,122.1 1196.9,123.0 1198.6,123.9 1200.4,124.9 1202.2,125.8 1203.9,126.8 1205.6,127.9 1207.3,129.0 1209.0,130.1 1210.7,131.2 1212.3,132.3 1213.9,133.5 1215.5,134.7 1217.1,135.9 1218.7,137.1 1220.3,138.4 1221.8,139.7 1223.4,140.9 1224.9,142.2 1226.4,143.6 1227.9,144.9 1229.4,146.2 1230.9,147.6 1232.4,148.9 1233.8,150.3 1235.3,151.7 1236.7,153.1 1238.2,154.5 1239.6,155.9 1241.0,157.3 1242.4,158.7 1243.8,160.2 1245.2,161.6 1246.6,163.1 1247.9,164.5 1249.3,166.0 1250.6,167.5 1252.0,168.9 1253.3,170.4 1254.7,171.9 1256.0,173.4 1257.3,174.9 1258.6,176.5 1259.9,178.0 1261.2,179.5 1262.4,181.1 1263.7,182.6 1265.0,184.1 1266.2,185.7 1267.5,187.3 1268.7,188.8 1270.0,190.4 1271.2,192.0 1272.4,193.6 1273.6,195.2 1274.8,196.8 1276.0,198.4 1277.2,200.0 1278.4,201.6 1279.6,203.2 1280.8,204.8 1282.0,206.5 1283.1,208.1 1284.3,209.7 1285.5,211.4 1286.6,213.0 1287.8,214.7 1288.9,216.3 1290.0,218.0 1291.2,219.6 1292.3,221.3 1293.4,223.0 1294.5,224.6 1295.6,226.3 1296.8,228.0 1297.9,229.7 1299.0,231.4 1300.1,233.0 1301.1,234.7 1302.2,236.4 1303.3,238.1 1304.4,239.8 1305.5,241.5 1306.6,243.2 1307.6,244.9 1308.7,246.6 1309.8,248.3 1310.8,250.0 1311.9,251.7 1312.9,253.5 1314.0,255.2 1315.0,256.9 1316.1,258.6 1317.1,260.3 1318.2,262.0 1319.2,263.7 1320.3,265.5 1321.3,267.2 1322.3,268.9 1323.4,270.6 1324.4,272.3 1325.4,274.1 1326.5,275.8 1327.5,277.5 1328.5,279.2 1329.5,281.0 1330.6,282.7 1331.6,284.4 1332.6,286.1 1333.6,287.9 1334.6,289.6 1335.6,291.3 1336.7,293.1 1337.7,294.8 1338.7,296.5 1339.7,298.3 1340.7,300.0 1341.7,301.7 1342.7,303.5 1343.7,305.2 1344.7,306.9 1345.7,308.7 1346.7,310.4 1347.6,312.1 1348.6,313.9 1349.6,315.6 1350.6,317.4 1351.6,319.1 1352.6,320.8 1353.5,322.6 1354.5,324.3 1355.5,326.1 1356.5,327.8 1357.5,329.6 1358.4,331.3 1359.4,333.1 1360.4,334.8 1361.3,336.5 1362.3,338.3 1363.3,340.0 1364.2,341.8 1365.2,343.5 1366.2,345.3 1367.1,347.0 1368.1,348.8 1369.0,350.5 1370.0,352.3 1370.9,354.0 1371.9,355.8 1372.8,357.6 1373.8,359.3 1374.7,361.1 1375.7,362.8 1376.6,364.6 1377.6,366.3 1378.5,368.1 1379.5,369.8 1380.4,371.6 1381.3,373.4 1382.3,375.1 1383.2,376.9 1384.2,378.6 1385.1,380.4 1386.0,382.2 1387.0,383.9 1387.9,385.7 1388.8,387.4 1389.8,389.2 1390.7,391.0 1391.6,392.7 1392.5,394.5 1393.5,396.3 1394.4,398.0 1395.3,399.8 1396.2,401.6 1397.2,403.3 1398.1,405.1 1399.0,406.8 1399.9,408.6 1400.8,410.4 1401.8,412.2 1402.7,413.9 1403.6,415.7 1404.5,417.5 1405.4,419.2 1406.3,421.0 1407.3,422.8 1408.2,424.5 1409.1,426.3 1410.0,428.1 1410.9,429.8 1411.8,431.6 1412.7,433.4 1413.6,435.2 1414.5,436.9 1415.4,438.7 1416.4,440.5 1417.3,442.2 1418.2,444.0 1419.1,445.8 1420.0,447.6 1420.9,449.3 1421.8,451.1 1422.7,452.9 1423.6,454.7 1424.5,456.4 1425.4,458.2 1426.3,460.0 1427.2,461.8 1428.1,463.5 1429.0,465.3 1429.9,467.1 1430.8,468.9 1431.7,470.6 1432.6,472.4 1433.5,474.2 1434.4,476.0 1435.3,477.8 1436.2,479.5 1437.1,481.3 1438.0,483.1 1438.9,484.9 1439.8,486.6 1440.7,488.4 1441.6,490.2 1442.5,492.0 1443.3,493.7 1444.2,495.5 1445.1,497.3 1446.0,499.1 1446.9,500.9 1447.8,502.6 1448.7,504.4 1449.6,506.2 1450.5,508.0 1451.4,509.8 1452.3,511.5 1453.2,513.3 1454.1,515.1 1455.0,516.9 1455.9,518.7 1456.8,520.4 1457.7,522.2 1458.6,524.0 1459.5,525.8 1460.4,527.5 1461.2,529.3 1462.1,531.1 1463.0,532.9 1463.9,534.7 1464.8,536.4 1465.7,538.2 1466.6,540.0 1467.5,541.8 1468.4,543.6 1469.3,545.3 1470.2,547.1 1471.1,548.9 1472.0,550.7 1472.9,552.5 1473.8,554.2 1474.7,556.0 1475.6,557.8 1476.5,559.6 1477.4,561.3 1478.3,563.1 1479.2,564.9 1480.1,566.7 1481.0,568.5 1481.9,570.2 1482.8,572.0 1483.7,573.8 1484.6,575.6 1485.5,577.3 1486.4,579.1 1487.3,580.9 1488.2,582.7 1489.2,584.5 1490.1,586.2 1491.0,588.0 1491.9,589.8 1492.8,591.6 1493.7,593.3 1494.6,595.1 1495.5,596.9 1496.4,598.7 1497.3,600.4 1498.3,602.2 1499.2,604.0 1500.1,605.8 1501.0,607.5 1501.9,609.3 1502.8,611.1 1503.8,612.8 1504.7,614.6 1505.6,616.4 1506.5,618.2 1507.4,619.9 1508.4,621.7 1509.3,623.5 1510.2,625.2 1511.1,627.0 1512.1,628.8 1513.0,630.6 1513.9,632.3 1514.9,634.1 1515.8,635.9 1516.7,637.6 1517.7,639.4 1518.6,641.2 1519.5,642.9 1520.5,644.7 1521.4,646.5 1522.3,648.2 1523.3,650.0 1524.2,651.8 1525.2,653.5 1526.1,655.3 1527.0,657.1 1528.0,658.8 1528.9,660.6 1529.9,662.4 1530.8,664.1 1531.8,665.9 1532.7,667.6 1533.7,669.4 1534.6,671.2 1535.6,672.9 1536.6,674.7 1537.5,676.5 1538.5,678.2 1539.4,680.0 1540.4,681.7 1541.4,683.5 1542.3,685.2 1543.3,687.0 1544.3,688.8 1545.2,690.5 1546.2,692.3 1547.2,694.0 1548.2,695.8 1549.1,697.5 1550.1,699.3 1551.1,701.0 1552.1,702.8 1553.0,704.5 1554.0,706.3 1555.0,708.0 1556.0,709.8 1557.0,711.5 1558.0,713.3 1558.9,715.0 1559.9,716.8 1560.9,718.5 1561.9,720.3 1562.9,722.0 1563.9,723.8 1564.9,725.5 1565.9,727.3 1566.9,729.0 1567.9,730.7 1568.9,732.5 1569.9,734.2 1570.9,736.0 1571.9,737.7 1572.9,739.4 1573.9,741.2 1575.0,742.9 1576.0,744.7 1577.0,746.4 1578.0,748.1 1579.0,749.9 1580.0,751.6 1581.1,753.3 1582.1,755.1 1583.1,756.8 1584.1,758.5 1585.1,760.3 1586.2,762.0 1587.2,763.7 1588.2,765.4 1589.3,767.2 1590.3,768.9 1591.3,770.6 1592.4,772.3 1593.4,774.1 1594.4,775.8 1595.5,777.5 1596.5,779.2 1597.6,780.9 1598.6,782.7 1599.7,784.4 1600.7,786.1 1601.8,787.8 1602.8,789.5 1603.9,791.2 1604.9,793.0 1606.0,794.7 1607.0,796.4 1608.1,798.1 1609.1,799.8 1610.2,801.5 1611.3,803.2 1612.3,804.9 1613.4,806.6 1614.5,808.3 1615.5,810.0 1616.6,811.7 1617.7,813.4 1618.8,815.1 1619.8,816.8 1620.9,818.5 1622.0,820.2 1623.1,821.9 1624.2,823.6 1625.2,825.3 1626.3,827.0 1627.4,828.7 1628.5,830.4 1629.6,832.1 1630.7,833.8 1631.8,835.5 1632.9,837.1 1634.0,838.8 1635.1,840.5 1636.2,842.2 1637.3,843.9 1638.4,845.6 1639.5,847.2 1640.6,848.9 1641.7,850.6 1642.8,852.3 1643.9,853.9 1645.0,855.6 1646.2,857.3 1647.3,859.0 1648.4,860.6 1649.5,862.3 1650.6,864.0 1651.8,865.6 1652.9,867.3 1654.0,869.0 1655.1,870.6 1656.3,872.3 1657.4,873.9 1658.5,875.6 1659.7,877.3 1660.8,878.9 1661.9,880.6 1663.1,882.2 1664.2,883.9 1665.4,885.5 1666.5,887.2 1667.7,888.8 1668.8,890.5 1670.0,892.1 1671.1,893.8 1672.3,895.4 1673.4,897.0 1674.6,898.7 1675.7,900.3 1676.9,902.0 1678.1,903.6 1679.2,905.2 1680.4,906.9 1681.6,908.5 1682.7,910.1 1683.9,911.8 1685.1,913.4 1686.2,915.0 1687.4,916.6 1688.6,918.3 1689.8,919.9 1691.0,921.5 1692.1,923.1 1693.3,924.7 1694.5,926.3 1695.7,928.0 1696.9,929.6 1698.1,931.2 1699.3,932.8 1700.5,934.4 1701.7,936.0 1702.9,937.6 1704.1,939.2 1705.3,940.8 1706.5,942.4 1707.7,944.0 1708.9,945.6 1710.1,947.2 1711.3,948.8 1712.6,950.4 1713.8,952.0 1715.0,953.6 1716.2,955.2 1717.4,956.7 1718.7,958.3 1719.9,959.9 1721.1,961.5 1722.3,963.1 1723.6,964.6 1724.8,966.2 1726.0,967.8 1727.3,969.4 1728.5,970.9 1729.8,972.5 1731.0,974.1 1732.2,975.6 1733.5,977.2 1734.7,978.8 1736.0,980.3 1737.2,981.9 1738.5,983.4 1739.8,985.0 1741.0,986.6 1742.3,988.1 1743.5,989.7 1744.8,991.2 1746.1,992.8 1747.3,994.3 1748.6,995.8 1749.9,997.4 1751.1,998.9 1752.4,1000.5 1753.7,1002.0 1755.0,1003.5 1756.3,1005.1 1757.5,1006.6 1758.8,1008.1 1760.1,1009.6 1761.4,1011.2 1762.7,1012.7 1764.0,1014.2 1765.3,1015.7 1766.6,1017.2 1767.9,1018.8 1769.2,1020.3 1770.5,1021.8 1771.8,1023.3 1773.1,1024.8 1774.4,1026.3 1775.7,1027.8 1777.0,1029.3 1778.3,1030.8 1779.7,1032.3 1781.0,1033.8 1782.3,1035.3 1783.6,1036.8 1785.0,1038.3 1786.3,1039.8 1787.6,1041.2 1788.9,1042.7 1790.3,1044.2 1791.6,1045.7 1792.9,1047.2 1794.3,1048.6 1795.6,1050.1 1797.0,1051.6 1798.3,1053.1 1799.7,1054.5 1801.0,1056.0 1802.4,1057.5 1803.7,1058.9 1805.1,1060.4 1806.4,1061.8 1807.8,1063.3 1809.2,1064.7 1810.5,1066.2 1811.9,1067.6 1813.3,1069.1 1814.6,1070.5 1816.0,1072.0 1817.4,1073.4 1818.7,1074.8 1820.1,1076.3 1821.5,1077.7 1822.9,1079.1 1824.3,1080.6 1825.7,1082.0 1827.1,1083.4 1828.4,1084.8 1829.8,1086.3 1831.2,1087.7 1832.6,1089.1 1834.0,1090.5 1835.4,1091.9 1836.8,1093.3 1838.2,1094.7 1839.7,1096.1 1841.1,1097.5 1842.5,1098.9 1843.9,1100.3 1845.3,1101.7 1846.7,1103.1 1848.2,1104.5 1849.6,1105.9 1851.0,1107.3 1852.4,1108.7 1853.9,1110.0 1855.3,1111.4 1856.7,1112.8 1858.2,1114.2 1859.6,1115.5 1861.1,1116.9 1862.5,1118.3 1863.9,1119.6 1865.4,1121.0 1866.8,1122.3 1868.3,1123.7 1869.7,1125.1 1871.2,1126.4 1872.7,1127.8 1874.1,1129.1 1875.6,1130.5 1877.1,1131.8 1878.5,1133.1 1880.0,1134.5 1881.5,1135.8 1882.9,1137.1 1884.4,1138.5 1885.9,1139.8 1887.4,1141.1 1888.9,1142.4 1890.4,1143.8 1891.8,1145.1 1893.3,1146.4 1894.8,1147.7 1896.3,1149.0 1897.8,1150.3 1899.3,1151.6 1900.8,1152.9 1902.3,1154.2 1903.8,1155.5 1905.3,1156.8 1906.9,1158.1 1908.4,1159.4 1909.9,1160.7 1911.4,1162.0 1912.9,1163.2 1914.4,1164.5 1916.0,1165.8 1917.5,1167.1 1919.0,1168.3 1920.6,1169.6 1922.1,1170.9 1923.6,1172.1 1925.2,1173.4 1926.7,1174.6 1928.3,1175.9 1929.8,1177.1 1931.4,1178.4 1932.9,1179.6 1934.5,1180.9 1936.0,1182.1 1937.6,1183.4 1939.1,1184.6 1940.7,1185.8 1942.3,1187.1 1943.8,1188.3 1945.4,1189.5 1947.0,1190.7 1948.5,1191.9 1950.1,1193.2 1951.7,1194.4 1953.3,1195.6 1954.9,1196.8 1956.5,1198.0 1958.0,1199.2 1959.6,1200.4 1961.2,1201.6 1962.8,1202.8 1964.4,1204.0 1966.0,1205.1 1967.6,1206.3 1969.2,1207.5 1970.8,1208.7 1972.5,1209.9 1974.1,1211.0 1975.7,1212.2 1977.3,1213.4 1978.9,1214.5 1980.5,1215.7 1982.2,1216.9 1983.8,1218.0 1985.4,1219.2 1987.1,1220.3 1988.7,1221.5 1990.3,1222.6 1992.0,1223.7 1993.6,1224.9 1995.3,1226.0 1996.9,1227.1 1998.6,1228.3 2000.2,1229.4 2001.9,1230.5 2003.5,1231.6 2005.2,1232.8 2006.8,1233.9 2008.5,1235.0 2010.2,1236.1 2011.8,1237.2 2013.5,1238.3 2015.2,1239.4 2016.9,1240.5 2018.5,1241.6 2020.2,1242.7 2021.9,1243.8 2023.6,1244.8 2025.3,1245.9 2027.0,1247.0 2028.6,1248.1 2030.3,1249.1 2032.0,1250.2 2033.7,1251.3 2035.4,1252.3 2037.1,1253.4 2038.8,1254.5 2040.5,1255.5 2042.2,1256.6 2043.9,1257.6 2045.7,1258.7 2047.4,1259.7 2049.1,1260.8 2050.8,1261.8 2052.5,1262.8 2054.2,1263.9 2056.0,1264.9 2057.7,1265.9 2059.4,1266.9 2061.1,1267.9 2062.9,1269.0 2064.6,1270.0 2066.3,1271.0 2068.1,1272.0 2069.8,1273.0 2071.6,1274.0 2073.3,1275.0 2075.0,1276.0 2076.8,1277.0 2078.5,1278.0 2080.3,1279.0 2082.0,1280.0 2083.8,1280.9 2085.5,1281.9 2087.3,1282.9 2089.1,1283.9 2090.8,1284.8 2092.6,1285.8 2094.3,1286.8 2096.1,1287.7 2097.9,1288.7 2099.6,1289.6 2101.4,1290.6 2103.2,1291.5 2105.0,1292.5 2106.7,1293.4 2108.5,1294.4 2110.3,1295.3 2112.1,1296.2 2113.9,1297.2 2115.6,1298.1 2117.4,1299.0 2119.2,1299.9 2121.0,1300.9 2122.8,1301.8 2124.6,1302.7 2126.4,1303.6 2128.2,1304.5 2130.0,1305.4 2131.8,1306.3 2133.6,1307.2 2135.4,1308.1 2137.2,1309.0 2139.0,1309.9 2140.8,1310.8 2142.6,1311.6 2144.4,1312.5 2146.2,1313.4 2148.0,1314.3 2149.9,1315.1 2151.7,1316.0 2153.5,1316.9 2155.3,1317.7 2157.1,1318.6 2158.9,1319.5 2160.8,1320.3 2162.6,1321.2 2164.4,1322.0 2166.2,1322.9 2168.1,1323.7 2169.9,1324.5 2171.7,1325.4 2173.6,1326.2 2175.4,1327.0 2177.2,1327.9 2179.1,1328.7 2180.9,1329.5 2182.8,1330.3 2184.6,1331.1 2186.4,1331.9 2188.3,1332.8 2190.1,1333.6 2192.0,1334.4 2193.8,1335.2 2195.7,1336.0 2197.5,1336.8 2199.4,1337.5 2201.2,1338.3 2203.1,1339.1 2204.9,1339.9 2206.8,1340.7 2208.6,1341.5 2210.5,1342.2 2212.3,1343.0 2214.2,1343.8 2216.1,1344.5 2217.9,1345.3 2219.8,1346.0 2221.7,1346.8 2223.5,1347.6 2225.4,1348.3 2227.3,1349.1 2229.1,1349.8 2231.0,1350.5 2232.9,1351.3 2234.7,1352.0 2236.6,1352.7 2238.5,1353.5 2240.4,1354.2 2242.2,1354.9 2244.1,1355.6 2246.0,1356.3 2247.9,1357.1 2249.7,1357.8 2251.6,1358.5 2253.5,1359.2 2255.4,1359.9 2257.3,1360.6 2259.2,1361.3 2261.0,1362.0 2262.9,1362.7 2264.8,1363.3 2266.7,1364.0 2268.6,1364.7 2270.5,1365.4 2272.4,1366.1 2274.3,1366.7 2276.1,1367.4 2278.0,1368.1 2279.9,1368.7 2281.8,1369.4 2283.7,1370.0 2285.6,1370.7 2287.5,1371.3 2289.4,1372.0 2291.3,1372.6 2293.2,1373.3 2295.1,1373.9 2297.0,1374.5 2298.9,1375.2 2300.8,1375.8 2302.7,1376.4 2304.6,1377.0 2306.5,1377.7 2308.4,1378.3 2310.3,1378.9 2312.2,1379.5 2314.1,1380.1 2316.0,1380.7 2317.9,1381.3 2319.9,1381.9 2321.8,1382.5 2323.7,1383.1 2325.6,1383.7 2327.5,1384.3 2329.4,1384.9 2331.3,1385.4 2333.2,1386.0 2335.1,1386.6 2337.0,1387.2 2339.0,1387.7 2340.9,1388.3 2342.8,1388.9 2344.7,1389.4 2346.6,1390.0 2348.5,1390.5 2350.4,1391.1 2352.4,1391.6 2354.3,1392.2 2356.2,1392.7 2358.1,1393.3 2360.0,1393.8 2361.9,1394.3 2363.9,1394.9 2365.8,1395.4 2367.7,1395.9 2369.6,1396.4 2371.5,1396.9 2373.5,1397.5 2375.4,1398.0 2377.3,1398.5 2379.2,1399.0 2381.1,1399.5 2383.1,1400.0 2385.0,1400.5 2386.9,1401.0 2388.8,1401.5 2390.8,1401.9 2392.7,1402.4 2394.6,1402.9 2396.5,1403.4 2398.4,1403.9 2400.4,1404.3 2402.3,1404.8 2404.2,1405.3 2406.1,1405.7 2408.1,1406.2 2410.0,1406.6 2411.9,1407.1 2413.8,1407.5 2415.8,1408.0 2417.7,1408.4 2419.6,1408.9 2421.0,1409.2" stroke="#ff0000"/>
<polyline points="313.0,1491.5 315.0,1491.2 316.9,1490.8 318.9,1490.5 320.9,1490.1 322.9,1489.8 324.8,1489.5 326.8,1489.1 328.8,1488.7 330.7,1488.4 332.7,1488.0 334.7,1487.7 336.6,1487.3 338.6,1486.9 340.6,1486.6 342.5,1486.2 344.5,1485.8 346.5,1485.4 348.4,1485.0 350.4,1484.7 352.3,1484.3 354.3,1483.9 356.3,1483.5 358.2,1483.1 360.2,1482.7 362.1,1482.3 364.1,1481.9 366.1,1481.4 368.0,1481.0 370.0,1480.6 371.9,1480.2 373.9,1479.8 375.8,1479.3 377.8,1478.9 379.7,1478.5 381.7,1478.0 383.6,1477.6 385.6,1477.2 387.5,1476.7 389.5,1476.3 391.4,1475.8 393.4,1475.4 395.3,1474.9 397.3,1474.5 399.2,1474.0 401.2,1473.5 403.1,1473.1 405.1,1472.6 407.0,1472.1 408.9,1471.6 410.9,1471.2 412.8,1470.7 414.8,1470.2 416.7,1469.7 418.6,1469.2 420.6,1468.7 422.5,1468.2 424.5,1467.7 426.4,1467.2 428.3,1466.7 430.3,1466.2 432.2,1465.7 434.1,1465.2 436.1,1464.7 438.0,1464.2 439.9,1463.7 441.9,1463.1 443.8,1462.6 445.7,1462.1 447.6,1461.6 449.6,1461.0 451.5,1460.5 453.4,1460.0 455.4,1459.4 457.3,1458.9 459.2,1458.3 461.1,1457.8 463.1,1457.2 465.0,1456.7 466.9,1456.1 468.8,1455.6 470.7,1455.0 472.7,1454.5 474.6,1453.9 476.5,1453.3 478.4,1452.8 480.3,1452.2 482.3,1451.6 484.2,1451.1 486.1,1450.5 488.0,1449.9 489.9,1449.3 491.8,1448.7 493.7,1448.1 495.6,1447.6 497.6,1447.0 499.5,1446.4 501.4,1445.8 503.3,1445.2 505.2,1444.6 507.1,1444.0 509.0,1443.4 510.9,1442.8 512.8,1442.2 514.7,1441.5 516.6,1440.9 518.5,1440.3 520.4,1439.7 522.3,1439.1 524.2,1438.5 526.1,1437.8 528.0,1437.2 529.9,1436.6 531.8,1435.9 533.7,1435.3 535.6,1434.7 537.5,1434.0 539.4,1433.4 541.3,1432.8 543.2,1432.1 545.1,1431.5 547.0,1430.8 548.9,1430.2 550.8,1429.5 552.7,1428.9 554.6,1428.2 556.4,1427.5 558.3,1426.9 560.2,1426.2 562.1,1425.5 564.0,1424.9 565.9,1424.2 567.7,1423.5 569.6,1422.8 571.5,1422.1 573.4,1421.4 575.2,1420.8 577.1,1420.1 579.0,1419.3 580.8,1418.6 582.7,1417.9 584.6,1417.2 586.4,1416.5 588.3,1415.7 590.2,1415.0 592.0,1414.3 593.9,1413.5 595.7,1412.8 597.6,1412.0 599.4,1411.2 601.3,1410.5 603.1,1409.7 604.9,1408.9 606.8,1408.1 608.6,1407.3 610.4,1406.5 612.3,1405.7 614.1,1404.9 615.9,1404.1 617.7,1403.2 619.5,1402.4 621.4,1401.5 623.2,1400.7 625.0,1399.8 626.8,1399.0 628.6,1398.1 630.4,1397.2 632.2,1396.3 634.0,1395.4 635.7,1394.5 637.5,1393.6 639.3,1392.6 641.1,1391.7 642.9,1390.7 644.6,1389.8 646.4,1388.8 648.1,1387.9 649.9,1386.9 651.6,1385.9 653.4,1384.9 655.1,1383.9 656.9,1382.9 658.6,1381.9 660.3,1380.8 662.1,1379.8 663.8,1378.7 665.5,1377.7 667.2,1376.6 668.9,1375.5 670.6,1374.5 672.3,1373.4 674.0,1372.3 675.7,1371.2 677.3,1370.1 679.0,1368.9 680.7,1367.8 682.3,1366.7 684.0,1365.5 685.6,1364.4 687.3,1363.2 688.9,1362.1 690.5,1360.9 692.2,1359.7 693.8,1358.5 695.4,1357.3 697.0,1356.1 698.6,1354.9 700.2,1353.7 701.7,1352.4 703.3,1351.2 704.9,1349.9 706.5,1348.7 708.0,1347.4 709.6,1346.2 711.1,1344.9 712.6,1343.6 714.2,1342.3 715.7,1341.0 717.2,1339.7 718.7,1338.4 720.2,1337.1 721.7,1335.7 723.1,1334.4 724.6,1333.0 726.1,1331.7 727.5,1330.3 729.0,1329.0 730.4,1327.6 731.8,1326.2 733.3,1324.8 734.7,1323.4 736.1,1322.0 737.5,1320.6 738.9,1319.2 740.2,1317.8 741.6,1316.3 743.0,1314.9 744.3,1313.5 745.7,1312.0 747.0,1310.5 748.4,1309.1 749.7,1307.6 751.0,1306.1 752.3,1304.6 753.6,1303.2 754.9,1301.7 756.2,1300.2 757.5,1298.7 758.8,1297.1 760.0,1295.6 761.3,1294.1 762.5,1292.6 763.8,1291.0 765.0,1289.5 766.2,1287.9 767.5,1286.4 768.7,1284.8 769.9,1283.2 771.1,1281.7 772.3,1280.1 773.5,1278.5 774.7,1276.9 775.9,1275.3 777.0,1273.7 778.2,1272.1 779.3,1270.5 780.5,1268.9 781.6,1267.3 782.8,1265.6 783.9,1264.0 785.0,1262.4 786.2,1260.7 787.3,1259.1 788.4,1257.4 789.5,1255.8 790.6,1254.1 791.7,1252.4 792.7,1250.8 793.8,1249.1 794.9,1247.4 796.0,1245.7 797.0,1244.0 798.1,1242.4 799.1,1240.7 800.2,1239.0 801.2,1237.3 802.2,1235.5 803.3,1233.8 804.3,1232.1 805.3,1230.4 806.3,1228.7 807.3,1226.9 808.3,1225.2 809.3,1223.5 810.3,1221.7 811.3,1220.0 812.3,1218.3 813.2,1216.5 814.2,1214.7 815.2,1213.0 816.1,1211.2 817.1,1209.5 818.0,1207.7 819.0,1205.9 819.9,1204.2 820.9,1202.4 821.8,1200.6 822.7,1198.8 823.7,1197.0 824.6,1195.3 825.5,1193.5 826.4,1191.7 827.3,1189.9 828.2,1188.1 829.1,1186.3 830.0,1184.5 830.9,1182.7 831.8,1180.9 832.7,1179.1 833.5,1177.2 834.4,1175.4 835.3,1173.6 836.2,1171.8 837.0,1170.0 837.9,1168.1 838.7,1166.3 839.6,1164.5 840.4,1162.7 841.3,1160.8 842.1,1159.0 843.0,1157.2 843.8,1155.3 844.6,1153.5 845.5,1151.7 846.3,1149.8 847.1,1148.0 847.9,1146.1 848.7,1144.3 849.5,1142.4 850.4,1140.6 851.2,1138.7 852.0,1136.9 852.8,1135.0 853.6,1133.2 854.4,1131.3 855.2,1129.5 856.0,1127.6 856.7,1125.8 857.5,1123.9 858.3,1122.1 859.1,1120.2 859.9,1118.4 860.6,1116.5 861.4,1114.6 862.2,1112.8 863.0,1110.9 863.7,1109.1 864.5,1107.2 865.2,1105.3 866.0,1103.5 866.8,1101.6 867.5,1099.7 868.3,1097.9 869.0,1096.0 869.7,1094.1 870.5,1092.3 871.2,1090.4 872.0,1088.5 872.7,1086.7 873.4,1084.8 874.2,1082.9 874.9,1081.1 875.6,1079.2 876.3,1077.3 877.1,1075.4 877.8,1073.6 878.5,1071.7 879.2,1069.8 879.9,1067.9 880.6,1066.1 881.4,1064.2 882.1,1062.3 882.8,1060.4 883.5,1058.5 884.2,1056.7 884.9,1054.8 885.6,1052.9 886.2,1051.0 886.9,1049.1 887.6,1047.2 888.3,1045.4 889.0,1043.5 889.7,1041.6 890.4,1039.7 891.0,1037.8 891.7,1035.9 892.4,1034.0 893.1,1032.1 893.7,1030.2 894.4,1028.4 895.1,1026.5 895.7,1024.6 896.4,1022.7 897.0,1020.8 897.7,1018.9 898.4,1017.0 899.0,1015.1 899.7,1013.2 900.3,1011.3 901.0,1009.4 901.6,1007.5 902.2,1005.6 902.9,1003.7 903.5,1001.8 904.2,999.9 904.8,998.0 905.4,996.1 906.1,994.2 906.7,992.3 907.3,990.4 908.0,988.5 908.6,986.6 909.2,984.7 909.8,982.8 910.5,980.9 911.1,979.0 911.7,977.1 912.3,975.2 912.9,973.3 913.5,971.4 914.1,969.5 914.7,967.6 915.4,965.7 916.0,963.8 916.6,961.9 917.2,960.0 917.8,958.1 918.4,956.1 919.0,954.2 919.6,952.3 920.2,950.4 920.7,948.5 921.3,946.6 921.9,944.7 922.5,942.8 923.1,940.9 923.7,939.0 924.3,937.0 924.8,935.1 925.4,933.2 926.0,931.3 926.6,929.4 927.2,927.5 927.7,925.6 928.3,923.6 928.9,921.7 929.5,919.8 930.0,917.9 930.6,916.0 931.2,914.1 931.7,912.2 932.3,910.2 932.9,908.3 933.4,906.4 934.0,904.5 934.5,902.6 935.1,900.6 935.6,898.7 936.2,896.8 936.8,894.9 937.3,893.0 937.9,891.1 938.4,889.1 939.0,887.2 939.5,885.3 940.1,883.4 940.6,881.5 941.1,879.5 941.7,877.6 942.2,875.7 942.8,873.8 943.3,871.8 943.9,869.9 944.4,868.0 944.9,866.1 945.5,864.2 946.0,862.2 946.5,860.3 947.1,858.4 947.6,856.5 948.1,854.5 948.7,852.6 949.2,850.7 949.7,848.8 950.2,846.9 950.8,844.9 951.3,843.0 951.8,841.1 952.3,839.2 952.9,837.2 953.4,835.3 953.9,833.4 954.4,831.5 954.9,829.5 955.5,827.6 956.0,825.7 956.5,823.8 957.0,821.8 957.5,819.9 958.0,818.0 958.6,816.1 959.1,814.1 959.6,812.2 960.1,810.3 960.6,808.4 961.1,806.4 961.6,804.5 962.1,802.6 962.6,800.7 963.1,798.7 963.6,796.8 964.1,794.9 964.6,792.9 965.1,791.0 965.6,789.1 966.1,787.2 966.6,785.2 967.1,783.3 967.6,781.4 968.1,779.5 968.6,777.5 969.1,775.6 969.6,773.7 970.1,771.7 970.6,769.8 971.1,767.9 971.6,766.0 972.1,764.0 972.6,762.1 973.1,760.2 973.6,758.2 974.0,756.3 974.5,754.4 975.0,752.4 975.5,750.5 976.0,748.6 976.5,746.7 977.0,744.7 977.4,742.8 977.9,740.9 978.4,738.9 978.9,737.0 979.4,735.1 979.9,733.1 980.3,731.2 980.8,729.3 981.3,727.3 981.8,725.4 982.2,723.5 982.7,721.5 983.2,719.6 983.7,717.7 984.1,715.8 984.6,713.8 985.1,711.9 985.6,710.0 986.0,708.0 986.5,706.1 987.0,704.2 987.5,702.2 987.9,700.3 988.4,698.4 988.9,696.4 989.3,694.5 989.8,692.5 990.3,690.6 990.7,688.7 991.2,686.7 991.7,684.8 992.1,682.9 992.6,680.9 993.1,679.0 993.5,677.1 994.0,675.1 994.4,673.2 994.9,671.3 995.4,669.3 995.8,667.4 996.3,665.4 996.7,663.5 997.2,661.6 997.7,659.6 998.1,657.7 998.6,655.8 999.0,653.8 999.5,651.9 1000.0,649.9 1000.4,648.0 1000.9,646.1 1001.3,644.1 1001.8,642.2 1002.2,640.3 1002.7,638.3 1003.1,636.4 1003.6,634.4 1004.0,632.5 1004.5,630.6 1004.9,628.6 1005.4,626.7 1005.8,624.7 1006.3,622.8 1006.7,620.9 1007.2,618.9 1007.6,617.0 1008.1,615.0 1008.5,613.1 1009.0,611.2 1009.4,609.2 1009.9,607.3 1010.3,605.3 1010.8,603.4 1011.2,601.4 1011.7,599.5 1012.1,597.6 1012.6,595.6 1013.0,593.7 1013.5,591.7 1013.9,589.8 1014.3,587.8 1014.8,585.9 1015.2,584.0 1015.7,582.0 1016.1,580.1 1016.6,578.1 1017.0,576.2 1017.4,574.2 1017.9,572.3 1018.3,570.4 1018.8,568.4 1019.2,566.5 1019.7,564.5 1020.1,562.6 1020.5,560.6 1021.0,558.7 1021.4,556.7 1021.9,554.8 1022.3,552.8 1022.7,550.9 1023.2,548.9 1023.6,547.0 1024.1,545.1 1024.5,543.1 1024.9,541.2 1025.4,539.2 1025.8,537.3 1026.2,535.3 1026.7,533.4 1027.1,531.4 1027.6,529.5 1028.0,527.5 1028.4,525.6 1028.9,523.6 1029.3,521.7 1029.7,519.7 1030.2,517.8 1030.6,515.8 1031.0,513.9 1031.5,511.9 1031.9,510.0 1032.4,508.0 1032.8,506.1 1033.2,504.1 1033.7,502.2 1034.1,500.2 1034.5,498.3 1035.0,496.3 1035.4,494.4 1035.8,492.4 1036.3,490.5 1036.7,488.5 1037.1,486.6 1037.6,484.6 1038.0,482.7 1038.5,480.7 1038.9,478.7 1039.3,476.8 1039.8,474.8 1040.2,472.9 1040.6,470.9 1041.1,469.0 1041.5,467.0 1041.9,465.1 1042.4,463.1 1042.8,461.2 1043.2,459.2 1043.7,457.3 1044.1,455.3 1044.5,453.3 1045.0,451.4 1045.4,449.4 1045.8,447.5 1046.3,445.5 1046.7,443.6 1047.1,441.6 1047.6,439.6 1048.0,437.7 1048.5,435.7 1048.9,433.8 1049.3,431.8 1049.8,429.9 1050.2,427.9 1050.6,425.9 1051.1,424.0 1051.5,422.0 1051.9,420.1 1052.4,418.1 1052.8,416.1 1053.2,414.2 1053.7,412.2 1054.1,410.3 1054.6,408.3 1055.0,406.3 1055.4,404.4 1055.9,402.4 1056.3,400.5 1056.7,398.5 1057.2,396.5 1057.6,394.6 1058.1,392.6 1058.5,390.7 1058.9,388.7 1059.4,386.7 1059.8,384.8 1060.2,382.8 1060.7,380.8 1061.1,378.9 1061.6,376.9 1062.0,375.0 1062.4,373.0 1062.9,371.0 1063.3,369.1 1063.8,367.1 1064.2,365.1 1064.6,363.2 1065.1,361.2 1065.5,359.2 1066.0,357.3 1066.4,355.3 1066.9,353.3 1067.3,351.4 1067.7,349.4 1068.2,347.4 1068.6,345.5 1069.1,343.5 1069.5,341.5 1070.0,339.6 1070.4,337.6 1070.9,335.6 1071.3,333.7 1071.7,331.7 1072.2,329.7 1072.6,327.8 1073.1,325.8 1073.5,323.8 1074.0,321.9 1074.4,319.9 1074.9,317.9 1075.3,315.9 1075.8,314.0 1076.2,312.0 1076.7,310.0 1077.1,308.1 1077.6,306.1 1078.0,304.1 1078.5,302.2 1078.9,300.2 1079.4,298.2 1079.8,296.2 1080.3,294.3 1080.7,292.3 1081.2,290.3 1081.6,288.3 1082.1,286.4 1082.5,284.4 1083.0,282.4 1083.5,280.5 1083.9,278.5 1084.4,276.5 1084.9,274.6 1085.3,272.6 1085.8,270.6 1086.3,268.7 1086.8,266.7 1087.2,264.7 1087.7,262.8 1088.2,260.8 1088.7,258.8 1089.2,256.9 1089.7,254.9 1090.2,253.0 1090.7,251.0 1091.3,249.1 1091.8,247.2 1092.3,245.2 1092.9,243.3 1093.4,241.3 1094.0,239.4 1094.5,237.5 1095.1,235.6 1095.7,233.6 1096.2,231.7 1096.8,229.8 1097.4,227.9 1098.0,226.0 1098.7,224.1 1099.3,222.2 1099.9,220.3 1100.6,218.4 1101.2,216.6 1101.9,214.7 1102.6,212.8 1103.2,211.0 1103.9,209.1 1104.7,207.2 1105.4,205.4 1106.1,203.6 1106.8,201.7 1107.6,199.9 1108.4,198.1 1109.1,196.3 1109.9,194.4 1110.7,192.6 1111.6,190.8 1112.4,189.0 1113.2,187.3 1114.1,185.5 1115.0,183.7 1115.8,182.0 1116.8,180.2 1117.7,178.5 1118.6,176.7 1119.5,175.0 1120.5,173.3 1121.5,171.6 1122.5,169.8 1123.5,168.2 1124.5,166.5 1125.6,164.8 1126.6,163.1 1127.7,161.5 1128.8,159.8 1129.9,158.2 1131.1,156.5 1132.2,154.9 1133.4,153.3 1134.6,151.7 1135.8,150.1 1137.0,148.5 1138.3,146.9 1139.5,145.4 1140.8,143.8 1142.1,142.3 1143.4,140.7 1144.8,139.2 1146.2,137.7 1147.6,136.2 1149.0,134.8 1150.4,133.4 1151.9,132.0 1153.3,130.6 1154.9,129.3 1156.4,128.1 1158.0,126.9 1159.5,125.8 1161.2,124.8 1162.8,123.8 1164.5,122.9 1166.2,122.1 1167.9,121.4 1169.6,120.7 1171.4,120.2 1173.2,119.8 1175.1,119.5 1177.0,119.3 1178.9,119.3 1180.8,119.3 1182.8,119.5 1184.8,119.7 1186.7,120.1 1188.7,120.5 1190.7,121.0 1192.7,121.6 1194.6,122.3 1196.6,123.0 1198.5,123.8 1200.4,124.6 1202.3,125.5 1204.1,126.4 1205.9,127.4 1207.7,128.4 1209.4,129.4 1211.2,130.5 1212.9,131.6 1214.5,132.8 1216.2,134.0 1217.8,135.2 1219.5,136.4 1221.1,137.6 1222.7,138.9 1224.2,140.2 1225.8,141.5 1227.3,142.9 1228.8,144.2 1230.3,145.6 1231.8,146.9 1233.3,148.3 1234.8,149.7 1236.3,151.1 1237.7,152.5 1239.2,153.9 1240.6,155.4 1242.0,156.8 1243.4,158.2 1244.8,159.7 1246.2,161.1 1247.6,162.6 1249.0,164.1 1250.4,165.5 1251.7,167.0 1253.1,168.5 1254.4,170.0 1255.7,171.5 1257.1,173.0 1258.4,174.6 1259.7,176.1 1261.0,177.6 1262.2,179.2 1263.5,180.7 1264.8,182.3 1266.1,183.8 1267.3,185.4 1268.6,187.0 1269.8,188.5 1271.0,190.1 1272.3,191.7 1273.5,193.3 1274.7,194.9 1275.9,196.5 1277.1,198.1 1278.3,199.7 1279.5,201.4 1280.6,203.0 1281.8,204.6 1283.0,206.2 1284.1,207.9 1285.3,209.5 1286.4,211.2 1287.6,212.8 1288.7,214.5 1289.8,216.1 1291.0,217.8 1292.1,219.5 1293.2,221.1 1294.3,222.8 1295.4,224.5 1296.5,226.2 1297.6,227.8 1298.7,229.5 1299.8,231.2 1300.9,232.9 1302.0,234.6 1303.0,236.3 1304.1,238.0 1305.2,239.7 1306.2,241.4 1307.3,243.1 1308.4,244.8 1309.4,246.5 1310.5,248.2 1311.5,249.9 1312.6,251.6 1313.6,253.4 1314.7,255.1 1315.7,256.8 1316.7,258.5 1317.8,260.2 1318.8,261.9 1319.8,263.7 1320.9,265.4 1321.9,267.1 1322.9,268.8 1323.9,270.5 1325.0,272.3 1326.0,274.0 1327.0,275.7 1328.0,277.4 1329.0,279.2 1330.1,280.9 1331.1,282.6 1332.1,284.3 1333.1,286.1 1334.1,287.8 1335.1,289.5 1336.1,291.3 1337.1,293.0 1338.1,294.7 1339.1,296.5 1340.1,298.2 1341.1,299.9 1342.1,301.7 1343.1,303.4 1344.1,305.1 1345.1,306.9 1346.0,308.6 1347.0,310.4 1348.0,312.1 1349.0,313.8 1350.0,315.6 1350.9,317.3 1351.9,319.1 1352.9,320.8 1353.9,322.5 1354.8,324.3 1355.8,326.0 1356.8,327.8 1357.8,329.5 1358.7,331.3 1359.7,333.0 1360.7,334.8 1361.6,336.5 1362.6,338.3 1363.5,340.0 1364.5,341.8 1365.5,343.5 1366.4,345.3 1367.4,347.0 1368.3,348.8 1369.3,350.5 1370.2,352.3 1371.2,354.0 1372.1,355.8 1373.1,357.5 1374.0,359.3 1375.0,361.0 1375.9,362.8 1376.8,364.6 1377.8,366.3 1378.7,368.1 1379.7,369.8 1380.6,371.6 1381.5,373.3 1382.5,375.1 1383.4,376.9 1384.3,378.6 1385.3,380.4 1386.2,382.1 1387.1,383.9 1388.1,385.7 1389.0,387.4 1389.9,389.2 1390.9,391.0 1391.8,392.7 1392.7,394.5 1393.6,396.2 1394.6,398.0 1395.5,399.8 1396.4,401.5 1397.3,403.3 1398.2,405.1 1399.2,406.8 1400.1,408.6 1401.0,410.4 1401.9,412.1 1402.8,413.9 1403.8,415.7 1404.7,417.4 1405.6,419.2 1406.5,421.0 1407.4,422.8 1408.3,424.5 1409.2,426.3 1410.1,428.1 1411.1,429.8 1412.0,431.6 1412.9,433.4 1413.8,435.1 1414.7,436.9 1415.6,438.7 1416.5,440.5 1417.4,442.2 1418.3,444.0 1419.2,445.8 1420.1,447.6 1421.0,449.3 1421.9,451.1 1422.8,452.9 1423.7,454.7 1424.6,456.4 1425.5,458.2 1426.4,460.0 1427.4,461.7 1428.3,463.5 1429.2,465.3 1430.1,467.1 1431.0,468.9 1431.9,470.6 1432.8,472.4 1433.7,474.2 1434.6,476.0 1435.5,477.7 1436.4,479.5 1437.2,481.3 1438.1,483.1 1439.0,484.8 1439.9,486.6 1440.8,488.4 1441.7,490.2 1442.6,492.0 1443.5,493.7 1444.4,495.5 1445.3,497.3 1446.2,499.1 1447.1,500.8 1448.0,502.6 1448.9,504.4 1449.8,506.2 1450.7,508.0 1451.6,509.7 1452.5,511.5 1453.4,513.3 1454.3,515.1 1455.2,516.8 1456.1,518.6 1457.0,520.4 1457.9,522.2 1458.8,524.0 1459.7,525.7 1460.6,527.5 1461.5,529.3 1462.4,531.1 1463.3,532.9 1464.2,534.6 1465.1,536.4 1466.0,538.2 1466.9,540.0 1467.8,541.7 1468.7,543.5 1469.6,545.3 1470.5,547.1 1471.4,548.9 1472.3,550.6 1473.2,552.4 1474.1,554.2 1475.0,556.0 1475.9,557.7 1476.8,559.5 1477.7,561.3 1478.6,563.1 1479.5,564.9 1480.4,566.6 1481.3,568.4 1482.2,570.2 1483.1,572.0 1484.0,573.7 1484.9,575.5 1485.8,577.3 1486.7,579.1 1487.7,580.9 1488.6,582.6 1489.5,584.4 1490.4,586.2 1491.3,588.0 1492.2,589.7 1493.1,591.5 1494.0,593.3 1495.0,595.1 1495.9,596.8 1496.8,598.6 1497.7,600.4 1498.6,602.1 1499.5,603.9 1500.5,605.7 1501.4,607.5 1502.3,609.2 1503.2,611.0 1504.1,612.8 1505.1,614.6 1506.0,616.3 1506.9,618.1 1507.8,619.9 1508.8,621.6 1509.7,623.4 1510.6,625.2 1511.5,627.0 1512.5,628.7 1513.4,630.5 1514.3,632.3 1515.3,634.0 1516.2,635.8 1517.1,637.6 1518.1,639.3 1519.0,641.1 1519.9,642.9 1520.9,644.6 1521.8,646.4 1522.8,648.2 1523.7,649.9 1524.7,651.7 1525.6,653.5 1526.5,655.2 1527.5,657.0 1528.4,658.8 1529.4,660.5 1530.3,662.3 1531.3,664.1 1532.2,665.8 1533.2,667.6 1534.2,669.3 1535.1,671.1 1536.1,672.9 1537.0,674.6 1538.0,676.4 1539.0,678.1 1539.9,679.9 1540.9,681.7 1541.8,683.4 1542.8,685.2 1543.8,686.9 1544.8,688.7 1545.7,690.4 1546.7,692.2 1547.7,694.0 1548.6,695.7 1549.6,697.5 1550.6,699.2 1551.6,701.0 1552.6,702.7 1553.5,704.5 1554.5,706.2 1555.5,708.0 1556.5,709.7 1557.5,711.5 1558.5,713.2 1559.5,715.0 1560.5,716.7 1561.4,718.5 1562.4,720.2 1563.4,721.9 1564.4,723.7 1565.4,725.4 1566.4,727.2 1567.4,728.9 1568.4,730.7 1569.4,732.4 1570.4,734.1 1571.5,735.9 1572.5,737.6 1573.5,739.4 1574.5,741.1 1575.5,742.8 1576.5,744.6 1577.5,746.3 1578.5,748.0 1579.6,749.8 1580.6,751.5 1581.6,753.2 1582.6,755.0 1583.6,756.7 1584.7,758.4 1585.7,760.2 1586.7,761.9 1587.7,763.6 1588.8,765.4 1589.8,767.1 1590.8,768.8 1591.9,770.5 1592.9,772.3 1594.0,774.0 1595.0,775.7 1596.0,777.4 1597.1,779.1 1598.1,780.9 1599.2,782.6 1600.2,784.3 1601.3,786.0 1602.3,787.7 1603.4,789.4 1604.4,791.2 1605.5,792.9 1606.5,794.6 1607.6,796.3 1608.6,798.0 1609.7,799.7 1610.8,801.4 1611.8,803.1 1612.9,804.8 1614.0,806.5 1615.0,808.2 1616.1,810.0 1617.2,811.7 1618.2,813.4 1619.3,815.1 1620.4,816.8 1621.5,818.5 1622.6,820.2 1623.6,821.8 1624.7,823.5 1625.8,825.2 1626.9,826.9 1628.0,828.6 1629.1,830.3 1630.2,832.0 1631.2,833.7 1632.3,835.4 1633.4,837.1 1634.5,838.8 1635.6,840.4 1636.7,842.1 1637.8,843.8 1638.9,845.5 1640.0,847.2 1641.1,848.8 1642.3,850.5 1643.4,852.2 1644.5,853.9 1645.6,855.5 1646.7,857.2 1647.8,858.9 1648.9,860.6 1650.1,862.2 1651.2,863.9 1652.3,865.6 1653.4,867.2 1654.6,868.9 1655.7,870.6 1656.8,872.2 1657.9,873.9 1659.1,875.5 1660.2,877.2 1661.3,878.8 1662.5,880.5 1663.6,882.2 1664.8,883.8 1665.9,885.5 1667.0,887.1 1668.2,888.8 1669.3,890.4 1670.5,892.0 1671.6,893.7 1672.8,895.3 1674.0,897.0 1675.1,898.6 1676.3,900.3 1677.4,901.9 1678.6,903.5 1679.8,905.2 1680.9,906.8 1682.1,908.4 1683.3,910.1 1684.4,911.7 1685.6,913.3 1686.8,914.9 1687.9,916.6 1689.1,918.2 1690.3,919.8 1691.5,921.4 1692.7,923.1 1693.9,924.7 1695.0,926.3 1696.2,927.9 1697.4,929.5 1698.6,931.1 1699.8,932.7 1701.0,934.3 1702.2,936.0 1703.4,937.6 1704.6,939.2 1705.8,940.8 1707.0,942.4 1708.2,944.0 1709.4,945.6 1710.6,947.2 1711.8,948.7 1713.1,950.3 1714.3,951.9 1715.5,953.5 1716.7,955.1 1717.9,956.7 1719.1,958.3 1720.4,959.9 1721.6,961.4 1722.8,963.0 1724.1,964.6 1725.3,966.2 1726.5,967.8 1727.8,969.3 1729.0,970.9 1730.2,972.5 1731.5,974.0 1732.7,975.6 1734.0,977.2 1735.2,978.7 1736.5,980.3 1737.7,981.8 1739.0,983.4 1740.2,985.0 1741.5,986.5 1742.7,988.1 1744.0,989.6 1745.3,991.2 1746.5,992.7 1747.8,994.3 1749.1,995.8 1750.3,997.3 1751.6,998.9 1752.9,1000.4 1754.2,1002.0 1755.4,1003.5 1756.7,1005.0 1758.0,1006.6 1759.3,1008.1 1760.6,1009.6 1761.9,1011.1 1763.1,1012.7 1764.4,1014.2 1765.7,1015.7 1767.0,1017.2 1768.3,1018.7 1769.6,1020.2 1770.9,1021.8 1772.2,1023.3 1773.5,1024.8 1774.8,1026.3 1776.1,1027.8 1777.5,1029.3 1778.8,1030.8 1780.1,1032.3 1781.4,1033.8 1782.7,1035.3 1784.0,1036.8 1785.4,1038.2 1786.7,1039.7 1788.0,1041.2 1789.4,1042.7 1790.7,1044.2 1792.0,1045.7 1793.4,1047.1 1794.7,1048.6 1796.0,1050.1 1797.4,1051.6 1798.7,1053.0 1800.1,1054.5 1801.4,1056.0 1802.8,1057.4 1804.1,1058.9 1805.5,1060.3 1806.8,1061.8 1808.2,1063.3 1809.6,1064.7 1810.9,1066.2 1812.3,1067.6 1813.6,1069.1 1815.0,1070.5 1816.4,1071.9 1817.8,1073.4 1819.1,1074.8 1820.5,1076.3 1821.9,1077.7 1823.3,1079.1 1824.7,1080.5 1826.0,1082.0 1827.4,1083.4 1828.8,1084.8 1830.2,1086.2 1831.6,1087.7 1833.0,1089.1 1834.4,1090.5 1835.8,1091.9 1837.2,1093.3 1838.6,1094.7 1840.0,1096.1 1841.4,1097.5 1842.8,1098.9 1844.3,1100.3 1845.7,1101.7 1847.1,1103.1 1848.5,1104.5 1849.9,1105.9 1851.4,1107.3 1852.8,1108.6 1854.2,1110.0 1855.7,1111.4 1857.1,1112.8 1858.5,1114.1 1860.0,1115.5 1861.4,1116.9 1862.8,1118.3 1864.3,1119.6 1865.7,1121.0 1867.2,1122.3 1868.6,1123.7 1870.1,1125.0 1871.6,1126.4 1873.0,1127.7 1874.5,1129.1 1875.9,1130.4 1877.4,1131.8 1878.9,1133.1 1880.3,1134.5 1881.8,1135.8 1883.3,1137.1 1884.8,1138.5 1886.2,1139.8 1887.7,1141.1 1889.2,1142.4 1890.7,1143.7 1892.2,1145.1 1893.7,1146.4 1895.2,1147.7 1896.7,1149.0 1898.1,1150.3 1899.6,1151.6 1901.1,1152.9 1902.7,1154.2 1904.2,1155.5 1905.7,1156.8 1907.2,1158.1 1908.7,1159.4 1910.2,1160.7 1911.7,1161.9 1913.2,1163.2 1914.8,1164.5 1916.3,1165.8 1917.8,1167.1 1919.3,1168.3 1920.9,1169.6 1922.4,1170.9 1924.0,1172.1 1925.5,1173.4 1927.0,1174.6 1928.6,1175.9 1930.1,1177.1 1931.7,1178.4 1933.2,1179.6 1934.8,1180.9 1936.3,1182.1 1937.9,1183.3 1939.4,1184.6 1941.0,1185.8 1942.6,1187.0 1944.1,1188.3 1945.7,1189.5 1947.3,1190.7 1948.9,1191.9 1950.4,1193.1 1952.0,1194.4 1953.6,1195.6 1955.2,1196.8 1956.8,1198.0 1958.4,1199.2 1960.0,1200.4 1961.5,1201.6 1963.1,1202.8 1964.7,1204.0 1966.3,1205.1 1967.9,1206.3 1969.6,1207.5 1971.2,1208.7 1972.8,1209.9 1974.4,1211.0 1976.0,1212.2 1977.6,1213.4 1979.2,1214.5 1980.9,1215.7 1982.5,1216.8 1984.1,1218.0 1985.8,1219.1 1987.4,1220.3 1989.0,1221.4 1990.7,1222.6 1992.3,1223.7 1993.9,1224.9 1995.6,1226.0 1997.2,1227.1 1998.9,1228.3 2000.5,1229.4 2002.2,1230.5 2003.9,1231.6 2005.5,1232.7 2007.2,1233.8 2008.8,1235.0 2010.5,1236.1 2012.2,1237.2 2013.8,1238.3 2015.5,1239.4 2017.2,1240.5 2018.9,1241.6 2020.5,1242.6 2022.2,1243.7 2023.9,1244.8 2025.6,1245.9 2027.3,1247.0 2029.0,1248.1 2030.7,1249.1 2032.4,1250.2 2034.1,1251.3 2035.8,1252.3 2037.5,1253.4 2039.2,1254.4 2040.9,1255.5 2042.6,1256.5 2044.3,1257.6 2046.0,1258.6 2047.7,1259.7 2049.4,1260.7 2051.1,1261.8 2052.9,1262.8 2054.6,1263.8 2056.3,1264.9 2058.0,1265.9 2059.8,1266.9 2061.5,1267.9 2063.2,1268.9 2065.0,1269.9 2066.7,1271.0 2068.4,1272.0 2070.2,1273.0 2071.9,1274.0 2073.7,1275.0 2075.4,1276.0 2077.1,1277.0 2078.9,1277.9 2080.6,1278.9 2082.4,1279.9 2084.2,1280.9 2085.9,1281.9 2087.7,1282.8 2089.4,1283.8 2091.2,1284.8 2093.0,1285.8 2094.7,1286.7 2096.5,1287.7 2098.3,1288.6 2100.0,1289.6 2101.8,1290.5 2103.6,1291.5 2105.3,1292.4 2107.1,1293.4 2108.9,1294.3 2110.7,1295.2 2112.5,1296.2 2114.3,1297.1 2116.0,1298.0 2117.8,1299.0 2119.6,1299.9 2121.4,1300.8 2123.2,1301.7 2125.0,1302.6 2126.8,1303.5 2128.6,1304.4 2130.4,1305.3 2132.2,1306.2 2134.0,1307.1 2135.8,1308.0 2137.6,1308.9 2139.4,1309.8 2141.2,1310.7 2143.0,1311.6 2144.8,1312.5 2146.6,1313.3 2148.5,1314.2 2150.3,1315.1 2152.1,1316.0 2153.9,1316.8 2155.7,1317.7 2157.5,1318.5 2159.4,1319.4 2161.2,1320.3 2163.0,1321.1 2164.8,1322.0 2166.7,1322.8 2168.5,1323.6 2170.3,1324.5 2172.2,1325.3 2174.0,1326.1 2175.8,1327.0 2177.7,1327.8 2179.5,1328.6 2181.3,1329.4 2183.2,1330.3 2185.0,1331.1 2186.9,1331.9 2188.7,1332.7 2190.6,1333.5 2192.4,1334.3 2194.3,1335.1 2196.1,1335.9 2198.0,1336.7 2199.8,1337.5 2201.7,1338.3 2203.5,1339.1 2205.4,1339.8 2207.2,1340.6 2209.1,1341.4 2210.9,1342.2 2212.8,1342.9 2214.7,1343.7 2216.5,1344.5 2218.4,1345.2 2220.2,1346.0 2222.1,1346.7 2224.0,1347.5 2225.8,1348.2 2227.7,1349.0 2229.6,1349.7 2231.5,1350.5 2233.3,1351.2 2235.2,1351.9 2237.1,1352.7 2238.9,1353.4 2240.8,1354.1 2242.7,1354.8 2244.6,1355.6 2246.5,1356.3 2248.3,1357.0 2250.2,1357.7 2252.1,1358.4 2254.0,1359.1 2255.9,1359.8 2257.7,1360.5 2259.6,1361.2 2261.5,1361.9 2263.4,1362.6 2265.3,1363.3 2267.2,1363.9 2269.1,1364.6 2270.9,1365.3 2272.8,1366.0 2274.7,1366.6 2276.6,1367.3 2278.5,1368.0 2280.4,1368.6 2282.3,1369.3 2284.2,1370.0 2286.1,1370.6 2288.0,1371.3 2289.9,1371.9 2291.8,1372.5 2293.7,1373.2 2295.6,1373.8 2297.5,1374.5 2299.4,1375.1 2301.3,1375.7 2303.2,1376.3 2305.1,1377.0 2307.0,1377.6 2308.9,1378.2 2310.8,1378.8 2312.7,1379.4 2314.6,1380.0 2316.5,1380.6 2318.4,1381.2 2320.3,1381.8 2322.2,1382.4 2324.1,1383.0 2326.0,1383.6 2328.0,1384.2 2329.9,1384.8 2331.8,1385.4 2333.7,1385.9 2335.6,1386.5 2337.5,1387.1 2339.4,1387.7 2341.3,1388.2 2343.2,1388.8 2345.2,1389.4 2347.1,1389.9 2349.0,1390.5 2350.9,1391.0 2352.8,1391.6 2354.7,1392.1 2356.7,1392.6 2358.6,1393.2 2360.5,1393.7 2362.4,1394.3 2364.3,1394.8 2366.2,1395.3 2368.2,1395.8 2370.1,1396.4 2372.0,1396.9 2373.9,1397.4 2375.8,1397.9 2377.7,1398.4 2379.7,1398.9 2381.6,1399.4 2383.5,1399.9 2385.4,1400.4 2387.3,1400.9 2389.3,1401.4 2391.2,1401.9 2393.1,1402.4 2395.0,1402.8 2396.9,1403.3 2398.9,1403.8 2400.8,1404.3 2402.7,1404.7 2404.6,1405.2 2406.6,1405.7 2408.5,1406.1 2410.4,1406.6 2412.3,1407.0 2414.2,1407.5 2416.2,1407.9 2418.1,1408.4 2420.0,1408.8 2421.0,1409.0" stroke="#0000ff"/>
<polyline points="313.0,1491.5 315.0,1491.2 316.9,1490.8 318.9,1490.5 320.9,1490.1 322.9,1489.8 324.8,1489.5 326.8,1489.1 328.8,1488.8 330.7,1488.4 332.7,1488.0 334.7,1487.7 336.6,1487.3 338.6,1486.9 340.6,1486.6 342.5,1486.2 344.5,1485.8 346.5,1485.4 348.4,1485.0 350.4,1484.7 352.3,1484.3 354.3,1483.9 356.3,1483.5 358.2,1483.1 360.2,1482.7 362.1,1482.3 364.1,1481.8 366.1,1481.4 368.0,1481.0 370.0,1480.6 371.9,1480.2 373.9,1479.8 375.8,1479.3 377.8,1478.9 379.7,1478.5 381.7,1478.0 383.6,1477.6 385.6,1477.2 387.5,1476.7 389.5,1476.3 391.4,1475.8 393.4,1475.4 395.3,1474.9 397.3,1474.4 399.2,1474.0 401.2,1473.5 403.1,1473.1 405.1,1472.6 407.0,1472.1 408.9,1471.6 410.9,1471.2 412.8,1470.7 414.8,1470.2 416.7,1469.7 418.6,1469.2 420.6,1468.7 422.5,1468.2 424.5,1467.7 426.4,1467.2 428.3,1466.7 430.3,1466.2 432.2,1465.7 434.1,1465.2 436.1,1464.7 438.0,1464.2 439.9,1463.7 441.9,1463.2 443.8,1462.6 445.7,1462.1 447.7,1461.6 449.6,1461.0 451.5,1460.5 453.4,1460.0 455.4,1459.4 457.3,1458.9 459.2,1458.4 461.1,1457.8 463.1,1457.3 465.0,1456.7 466.9,1456.2 468.8,1455.6 470.7,1455.0 472.7,1454.5 474.6,1453.9 476.5,1453.4 478.4,1452.8 480.3,1452.2 482.3,1451.6 484.2,1451.1 486.1,1450.5 488.0,1449.9 489.9,1449.3 491.8,1448.7 493.7,1448.2 495.7,1447.6 497.6,1447.0 499.5,1446.4 501.4,1445.8 503.3,1445.2 505.2,1444.6 507.1,1444.0 509.0,1443.4 510.9,1442.8 512.8,1442.2 514.7,1441.5 516.6,1440.9 518.5,1440.3 520.4,1439.7 522.3,1439.1 524.2,1438.4 526.1,1437.8 528.0,1437.2 529.9,1436.6 531.8,1435.9 533.7,1435.3 535.6,1434.7 537.5,1434.0 539.4,1433.4 541.3,1432.7 543.2,1432.1 545.1,1431.4 547.0,1430.8 548.9,1430.1 550.8,1429.5 552.6,1428.8 554.5,1428.2 556.4,1427.5 558.3,1426.8 560.2,1426.2 562.1,1425.5 564.0,1424.9 565.9,1424.2 567.7,1423.5 569.6,1422.8 571.5,1422.2 573.4,1421.5 575.3,1420.8 577.1,1420.1 579.0,1419.4 580.9,1418.8 582.8,1418.1 584.7,1417.4 586.5,1416.7 588.4,1416.0 590.3,1415.3 592.2,1414.6 594.0,1413.9 595.9,1413.2 597.8,1412.5 599.7,1411.8 601.5,1411.1 603.4,1410.4 605.3,1409.7 607.1,1409.0 609.0,1408.2 610.9,1407.5 612.7,1406.8 614.6,1406.1 616.5,1405.4 618.3,1404.7 620.2,1403.9 622.1,1403.2 623.9,1402.5 625.8,1401.8 627.7,1401.0 629.5,1400.3 631.4,1399.6 633.2,1398.8 635.1,1398.1 637.0,1397.4 638.8,1396.6 640.7,1395.9 642.5,1395.2 644.4,1394.4 646.3,1393.7 648.1,1392.9 650.0,1392.2 651.8,1391.4 653.7,1390.7 655.5,1389.9 657.4,1389.2 659.2,1388.4 661.1,1387.7 662.9,1386.9 664.8,1386.2 666.6,1385.4 668.5,1384.6 670.3,1383.8 672.2,1383.1 674.0,1382.3 675.8,1381.5 677.6,1380.6 679.5,1379.8 681.3,1379.0 683.1,1378.1 684.8,1377.2 686.6,1376.3 688.4,1375.4 690.2,1374.5 691.9,1373.6 693.7,1372.6 695.4,1371.7 697.2,1370.7 698.9,1369.7 700.6,1368.7 702.3,1367.7 704.0,1366.6 705.7,1365.5 707.3,1364.4 709.0,1363.3 710.6,1362.2 712.3,1361.1 713.9,1359.9 715.5,1358.7 717.1,1357.5 718.7,1356.3 720.3,1355.0 721.8,1353.7 723.4,1352.4 724.9,1351.1 726.4,1349.8 727.9,1348.4 729.4,1347.1 730.9,1345.7 732.4,1344.3 733.9,1342.9 735.4,1341.5 736.8,1340.1 738.3,1338.6 739.7,1337.2 741.2,1335.7 742.6,1334.3 744.0,1332.8 745.4,1331.3 746.8,1329.8 748.2,1328.3 749.6,1326.9 751.0,1325.4 752.4,1323.9 753.8,1322.4 755.2,1320.9 756.6,1319.4 757.9,1317.9 759.3,1316.4 760.7,1314.9 762.0,1313.4 763.4,1311.9 764.7,1310.4 766.1,1308.8 767.4,1307.3 768.7,1305.8 770.1,1304.3 771.4,1302.8 772.7,1301.2 774.0,1299.7 775.3,1298.2 776.6,1296.7 777.9,1295.1 779.2,1293.6 780.5,1292.0 781.8,1290.5 783.1,1288.9 784.3,1287.4 785.6,1285.8 786.9,1284.3 788.1,1282.7 789.4,1281.1 790.6,1279.6 791.9,1278.0 793.1,1276.4 794.3,1274.9 795.5,1273.3 796.8,1271.7 798.0,1270.1 799.2,1268.5 800.4,1266.9 801.6,1265.3 802.8,1263.7 804.0,1262.1 805.1,1260.5 806.3,1258.8 807.5,1257.2 808.7,1255.6 809.8,1254.0 811.0,1252.3 812.1,1250.7 813.3,1249.1 814.4,1247.4 815.5,1245.8 816.7,1244.1 817.8,1242.5 818.9,1240.8 820.0,1239.2 821.1,1237.5 822.2,1235.8 823.3,1234.2 824.4,1232.5 825.5,1230.8 826.5,1229.1 827.6,1227.5 828.7,1225.8 829.7,1224.1 830.8,1222.4 831.8,1220.7 832.9,1219.0 833.9,1217.3 834.9,1215.6 836.0,1213.9 837.0,1212.2 838.0,1210.4 839.0,1208.7 840.0,1207.0 841.0,1205.3 842.0,1203.5 843.0,1201.8 844.0,1200.1 844.9,1198.3 845.9,1196.6 846.9,1194.8 847.8,1193.1 848.8,1191.3 849.7,1189.6 850.6,1187.8 851.6,1186.1 852.5,1184.3 853.4,1182.5 854.3,1180.8 855.2,1179.0 856.1,1177.2 857.0,1175.4 857.9,1173.6 858.8,1171.9 859.7,1170.1 860.6,1168.3 861.4,1166.5 862.3,1164.7 863.2,1162.9 864.0,1161.1 864.9,1159.3 865.7,1157.5 866.6,1155.7 867.4,1153.8 868.3,1152.0 869.1,1150.2 869.9,1148.4 870.8,1146.6 871.6,1144.8 872.4,1143.0 873.3,1141.1 874.1,1139.3 874.9,1137.5 875.7,1135.7 876.6,1133.9 877.4,1132.0 878.2,1130.2 879.0,1128.4 879.8,1126.6 880.7,1124.7 881.5,1122.9 882.3,1121.1 883.1,1119.2 883.9,1117.4 884.7,1115.6 885.5,1113.8 886.3,1111.9 887.1,1110.1 887.9,1108.3 888.7,1106.4 889.5,1104.6 890.3,1102.8 891.1,1100.9 891.9,1099.1 892.7,1097.3 893.5,1095.4 894.3,1093.6 895.1,1091.7 895.9,1089.9 896.7,1088.1 897.5,1086.2 898.3,1084.4 899.1,1082.5 899.8,1080.7 900.6,1078.8 901.4,1077.0 902.2,1075.2 903.0,1073.3 903.7,1071.5 904.5,1069.6 905.3,1067.8 906.0,1065.9 906.8,1064.1 907.6,1062.2 908.3,1060.4 909.1,1058.5 909.9,1056.7 910.6,1054.8 911.4,1053.0 912.1,1051.1 912.9,1049.2 913.7,1047.4 914.4,1045.5 915.2,1043.7 915.9,1041.8 916.7,1040.0 917.4,1038.1 918.1,1036.2 918.9,1034.4 919.6,1032.5 920.4,1030.6 921.1,1028.8 921.8,1026.9 922.6,1025.1 923.3,1023.2 924.0,1021.3 924.7,1019.5 925.5,1017.6 926.2,1015.7 926.9,1013.9 927.6,1012.0 928.3,1010.1 929.0,1008.2 929.8,1006.4 930.5,1004.5 931.2,1002.6 931.9,1000.7 932.6,998.9 933.3,997.0 934.0,995.1 934.7,993.2 935.4,991.4 936.1,989.5 936.8,987.6 937.4,985.7 938.1,983.9 938.8,982.0 939.5,980.1 940.2,978.2 940.8,976.3 941.5,974.4 942.2,972.6 942.9,970.7 943.5,968.8 944.2,966.9 944.9,965.0 945.5,963.1 946.2,961.2 946.8,959.3 947.5,957.4 948.1,955.6 948.8,953.7 949.4,951.8 950.1,949.9 950.7,948.0 951.4,946.1 952.0,944.2 952.6,942.3 953.3,940.4 953.9,938.5 954.5,936.6 955.1,934.7 955.7,932.8 956.4,930.9 957.0,929.0 957.6,927.1 958.2,925.2 958.8,923.3 959.4,921.4 960.0,919.5 960.6,917.6 961.2,915.7 961.8,913.8 962.4,911.9 963.0,909.9 963.6,908.0 964.2,906.1 964.8,904.2 965.3,902.3 965.9,900.4 966.5,898.5 967.1,896.6 967.6,894.7 968.2,892.7 968.8,890.8 969.3,888.9 969.9,887.0 970.5,885.1 971.0,883.2 971.6,881.2 972.1,879.3 972.7,877.4 973.2,875.5 973.8,873.6 974.3,871.6 974.9,869.7 975.4,867.8 975.9,865.9 976.5,864.0 977.0,862.0 977.6,860.1 978.1,858.2 978.6,856.3 979.1,854.3 979.7,852.4 980.2,850.5 980.7,848.5 981.2,846.6 981.8,844.7 982.3,842.8 982.8,840.8 983.3,838.9 983.8,837.0 984.4,835.0 984.9,833.1 985.4,831.2 985.9,829.3 986.4,827.3 986.9,825.4 987.4,823.5 987.9,821.5 988.4,819.6 988.9,817.7 989.4,815.7 989.9,813.8 990.4,811.9 990.9,809.9 991.4,808.0 991.9,806.1 992.4,804.1 992.9,802.2 993.4,800.2 993.8,798.3 994.3,796.4 994.8,794.4 995.3,792.5 995.8,790.6 996.3,788.6 996.8,786.7 997.2,784.7 997.7,782.8 998.2,780.9 998.7,778.9 999.2,777.0 999.6,775.0 1000.1,773.1 1000.6,771.2 1001.1,769.2 1001.5,767.3 1002.0,765.3 1002.5,763.4 1003.0,761.5 1003.4,759.5 1003.9,757.6 1004.4,755.6 1004.9,753.7 1005.3,751.7 1005.8,749.8 1006.3,747.9 1006.7,745.9 1007.2,744.0 1007.7,742.0 1008.1,740.1 1008.6,738.1 1009.1,736.2 1009.5,734.2 1010.0,732.3 1010.5,730.4 1010.9,728.4 1011.4,726.5 1011.9,724.5 1012.3,722.6 1012.8,720.6 1013.3,718.7 1013.7,716.7 1014.2,714.8 1014.6,712.9 1015.1,710.9 1015.6,709.0 1016.0,707.0 1016.5,705.1 1016.9,703.1 1017.4,701.2 1017.8,699.2 1018.3,697.3 1018.8,695.3 1019.2,693.4 1019.7,691.4 1020.1,689.5 1020.6,687.5 1021.0,685.6 1021.5,683.6 1021.9,681.7 1022.4,679.8 1022.8,677.8 1023.3,675.9 1023.7,673.9 1024.2,672.0 1024.6,670.0 1025.1,668.1 1025.5,666.1 1026.0,664.2 1026.4,662.2 1026.9,660.3 1027.3,658.3 1027.8,656.4 1028.2,654.4 1028.7,652.5 1029.1,650.5 1029.6,648.6 1030.0,646.6 1030.5,644.7 1030.9,642.7 1031.3,640.8 1031.8,638.8 1032.2,636.9 1032.7,634.9 1033.1,633.0 1033.6,631.0 1034.0,629.1 1034.4,627.1 1034.9,625.2 1035.3,623.2 1035.8,621.2 1036.2,619.3 1036.6,617.3 1037.1,615.4 1037.5,613.4 1038.0,611.5 1038.4,609.5 1038.8,607.6 1039.3,605.6 1039.7,603.7 1040.1,601.7 1040.6,599.8 1041.0,597.8 1041.4,595.9 1041.9,593.9 1042.3,592.0 1042.7,590.0 1043.2,588.1 1043.6,586.1 1044.0,584.1 1044.5,582.2 1044.9,580.2 1045.3,578.3 1045.8,576.3 1046.2,574.4 1046.6,572.4 1047.1,570.5 1047.5,568.5 1047.9,566.6 1048.4,564.6 1048.8,562.7 1049.2,560.7 1049.6,558.7 1050.1,556.8 1050.5,554.8 1050.9,552.9 1051.4,550.9 1051.8,549.0 1052.2,547.0 1052.6,545.1 1053.1,543.1 1053.5,541.2 1053.9,539.2 1054.3,537.2 1054.8,535.3 1055.2,533.3 1055.6,531.4 1056.0,529.4 1056.5,527.5 1056.9,525.5 1057.3,523.6 1057.7,521.6 1058.2,519.7 1058.6,517.7 1059.0,515.7 1059.4,513.8 1059.8,511.8 1060.3,509.9 1060.7,507.9 1061.1,506.0 1061.5,504.0 1062.0,502.1 1062.4,500.1 1062.8,498.1 1063.2,496.2 1063.6,494.2 1064.1,492.3 1064.5,490.3 1064.9,488.4 1065.3,486.4 1065.7,484.5 1066.1,482.5 1066.6,480.5 1067.0,478.6 1067.4,476.6 1067.8,474.7 1068.2,472.7 1068.7,470.8 1069.1,468.8 1069.5,466.8 1069.9,464.9 1070.3,462.9 1070.7,461.0 1071.2,459.0 1071.6,457.1 1072.0,455.1 1072.4,453.2 1072.8,451.2 1073.2,449.2 1073.6,447.3 1074.1,445.3 1074.5,443.4 1074.9,441.4 1075.3,439.5 1075.7,437.5 1076.1,435.6 1076.5,433.6 1077.0,431.6 1077.4,429.7 1077.8,427.7 1078.2,425.8 1078.6,423.8 1079.0,421.9 1079.4,419.9 1079.9,417.9 1080.3,416.0 1080.7,414.0 1081.1,412.1 1081.5,410.1 1081.9,408.2 1082.3,406.2 1082.8,404.3 1083.2,402.3 1083.6,400.3 1084.0,398.4 1084.4,396.4 1084.8,394.5 1085.2,392.5 1085.6,390.6 1086.1,388.6 1086.5,386.7 1086.9,384.7 1087.3,382.8 1087.7,380.8 1088.1,378.8 1088.6,376.9 1089.0,374.9 1089.4,373.0 1089.8,371.0 1090.2,369.1 1090.6,367.1 1091.1,365.2 1091.5,363.2 1091.9,361.3 1092.3,359.3 1092.7,357.3 1093.1,355.4 1093.6,353.4 1094.0,351.5 1094.4,349.5 1094.8,347.6 1095.3,345.6 1095.7,343.7 1096.1,341.7 1096.5,339.8 1097.0,337.8 1097.4,335.9 1097.8,333.9 1098.2,331.9 1098.7,330.0 1099.1,328.0 1099.5,326.1 1099.9,324.1 1100.4,322.2 1100.8,320.2 1101.2,318.3 1101.7,316.3 1102.1,314.4 1102.5,312.4 1103.0,310.5 1103.4,308.5 1103.8,306.6 1104.3,304.6 1104.7,302.7 1105.1,300.7 1105.6,298.8 1106.0,296.8 1106.5,294.9 1106.9,292.9 1107.3,291.0 1107.8,289.0 1108.2,287.1 1108.7,285.1 1109.1,283.2 1109.6,281.2 1110.0,279.3 1110.5,277.3 1110.9,275.4 1111.4,273.4 1111.8,271.5 1112.3,269.5 1112.7,267.6 1113.2,265.6 1113.7,263.7 1114.1,261.7 1114.6,259.8 1115.0,257.8 1115.5,255.9 1116.0,253.9 1116.4,252.0 1116.9,250.1 1117.4,248.1 1117.8,246.2 1118.3,244.2 1118.8,242.3 1119.2,240.3 1119.7,238.4 1120.2,236.4 1120.7,234.5 1121.1,232.5 1121.6,230.6 1122.1,228.6 1122.6,226.7 1123.1,224.8 1123.5,222.8 1124.0,220.9 1124.5,218.9 1125.0,217.0 1125.5,215.0 1126.0,213.1 1126.5,211.2 1127.0,209.2 1127.5,207.3 1128.0,205.3 1128.5,203.4 1129.0,201.5 1129.5,199.5 1130.1,197.6 1130.6,195.7 1131.1,193.7 1131.7,191.8 1132.2,189.9 1132.8,188.0 1133.3,186.1 1133.9,184.1 1134.5,182.2 1135.1,180.3 1135.7,178.4 1136.3,176.5 1136.9,174.6 1137.5,172.7 1138.1,170.8 1138.8,168.9 1139.4,167.0 1140.1,165.2 1140.8,163.3 1141.5,161.4 1142.2,159.6 1142.9,157.7 1143.6,155.8 1144.4,154.0 1145.1,152.1 1145.9,150.3 1146.7,148.5 1147.5,146.6 1148.3,144.8 1149.1,143.0 1149.9,141.2 1150.8,139.4 1151.7,137.6 1152.6,135.8 1153.5,134.0 1154.4,132.2 1155.4,130.5 1156.3,128.7 1157.3,126.9 1158.3,125.2 1159.3,123.4 1160.4,121.7 1160.5,121.5" stroke="#000" stroke-dasharray="47.5 63.8" stroke-dashoffset="12.8"/>
<polyline points="1160.5,121.5 1162.6,121.8 1164.7,122.1 1166.7,122.5 1168.8,122.9 1170.8,123.3 1172.8,123.7 1174.8,124.2 1176.8,124.7 1178.7,125.2 1180.7,125.7 1182.6,126.3 1184.5,126.9 1186.4,127.5 1188.3,128.1 1190.2,128.8 1192.0,129.4 1193.9,130.1 1195.7,130.9 1197.5,131.6 1199.3,132.4 1201.1,133.2 1202.9,134.0 1204.6,134.8 1206.4,135.7 1208.1,136.5 1209.8,137.4 1211.5,138.3 1213.2,139.3 1214.9,140.2 1216.5,141.2 1218.2,142.2 1219.8,143.2 1221.5,144.2 1223.1,145.3 1224.7,146.4 1226.3,147.4 1227.9,148.5 1229.4,149.7 1231.0,150.8 1232.5,152.0 1234.1,153.1 1235.6,154.3 1237.1,155.5 1238.6,156.8 1240.1,158.0 1241.6,159.2 1243.0,160.5 1244.5,161.8 1245.9,163.1 1247.4,164.4 1248.8,165.7 1250.2,167.1 1251.6,168.4 1253.0,169.8 1254.4,171.2 1255.8,172.6 1257.1,174.0 1258.5,175.4 1259.8,176.9 1261.2,178.3 1262.5,179.8 1263.8,181.2 1265.1,182.7 1266.4,184.2 1267.7,185.7 1269.0,187.2 1270.3,188.8 1271.6,190.3 1272.8,191.8 1274.1,193.4 1275.3,195.0 1276.6,196.5 1277.8,198.1 1279.0,199.7 1280.3,201.3 1281.5,202.9 1282.7,204.5 1283.9,206.2 1285.1,207.8 1286.3,209.4 1287.4,211.1 1288.6,212.7 1289.8,214.4 1290.9,216.1 1292.1,217.7 1293.2,219.4 1294.4,221.1 1295.5,222.8 1296.6,224.5 1297.8,226.2 1298.9,227.9 1300.0,229.6 1301.1,231.3 1302.2,233.0 1303.3,234.8 1304.4,236.5 1305.5,238.2 1306.6,239.9 1307.7,241.7 1308.8,243.4 1309.9,245.1 1310.9,246.9 1312.0,248.6 1313.1,250.4 1314.1,252.1 1315.2,253.9 1316.3,255.6 1317.3,257.4 1318.4,259.1 1319.4,260.9 1320.4,262.6 1321.5,264.3 1322.5,266.1 1323.6,267.8 1324.6,269.6 1325.6,271.3 1326.7,273.1 1327.7,274.8 1328.7,276.6 1329.7,278.3 1330.8,280.1 1331.8,281.8 1332.8,283.6 1333.8,285.3 1334.8,287.1 1335.8,288.9 1336.8,290.6 1337.8,292.4 1338.8,294.1 1339.8,295.9 1340.8,297.6 1341.8,299.4 1342.8,301.1 1343.8,302.9 1344.8,304.6 1345.8,306.4 1346.8,308.1 1347.7,309.9 1348.7,311.6 1349.7,313.4 1350.7,315.2 1351.6,316.9 1352.6,318.7 1353.6,320.4 1354.6,322.2 1355.5,323.9 1356.5,325.7 1357.5,327.5 1358.4,329.2 1359.4,331.0 1360.3,332.7 1361.3,334.5 1362.3,336.2 1363.2,338.0 1364.2,339.8 1365.1,341.5 1366.1,343.3 1367.0,345.0 1368.0,346.8 1368.9,348.5 1369.9,350.3 1370.8,352.1 1371.7,353.8 1372.7,355.6 1373.6,357.3 1374.6,359.1 1375.5,360.9 1376.4,362.6 1377.4,364.4 1378.3,366.1 1379.2,367.9 1380.2,369.7 1381.1,371.4 1382.0,373.2 1383.0,375.0 1383.9,376.7 1384.8,378.5 1385.8,380.2 1386.7,382.0 1387.6,383.8 1388.6,385.5 1389.5,387.3 1390.4,389.1 1391.3,390.8 1392.3,392.6 1393.2,394.3 1394.1,396.1 1395.0,397.9 1396.0,399.6 1396.9,401.4 1397.8,403.2 1398.7,404.9 1399.6,406.7 1400.6,408.5 1401.5,410.2 1402.4,412.0 1403.3,413.7 1404.3,415.5 1405.2,417.3 1406.1,419.0 1407.0,420.8 1407.9,422.6 1408.8,424.3 1409.8,426.1 1410.7,427.9 1411.6,429.6 1412.5,431.4 1413.4,433.2 1414.3,434.9 1415.3,436.7 1416.2,438.5 1417.1,440.2 1418.0,442.0 1418.9,443.8 1419.8,445.5 1420.7,447.3 1421.7,449.1 1422.6,450.8 1423.5,452.6 1424.4,454.4 1425.3,456.1 1426.2,457.9 1427.1,459.7 1428.1,461.4 1429.0,463.2 1429.9,465.0 1430.8,466.7 1431.7,468.5 1432.6,470.3 1433.5,472.0 1434.4,473.8 1435.3,475.6 1436.3,477.3 1437.2,479.1 1438.1,480.9 1439.0,482.6 1439.9,484.4 1440.8,486.2 1441.7,487.9 1442.6,489.7 1443.6,491.5 1444.5,493.2 1445.4,495.0 1446.3,496.8 1447.2,498.5 1448.1,500.3 1449.0,502.1 1449.9,503.8 1450.8,505.6 1451.8,507.4 1452.7,509.1 1453.6,510.9 1454.5,512.7 1455.4,514.4 1456.3,516.2 1457.2,518.0 1458.1,519.7 1459.1,521.5 1460.0,523.3 1460.9,525.0 1461.8,526.8 1462.7,528.6 1463.6,530.3 1464.5,532.1 1465.4,533.9 1466.4,535.6 1467.3,537.4 1468.2,539.2 1469.1,540.9 1470.0,542.7 1470.9,544.5 1471.9,546.2 1472.8,548.0 1473.7,549.8 1474.6,551.5 1475.5,553.3 1476.4,555.1 1477.4,556.8 1478.3,558.6 1479.2,560.4 1480.1,562.1 1481.0,563.9 1482.0,565.7 1482.9,567.4 1483.8,569.2 1484.7,570.9 1485.6,572.7 1486.6,574.5 1487.5,576.2 1488.4,578.0 1489.3,579.8 1490.3,581.5 1491.2,583.3 1492.1,585.1 1493.0,586.8 1494.0,588.6 1494.9,590.4 1495.8,592.1 1496.7,593.9 1497.7,595.7 1498.6,597.4 1499.5,599.2 1500.5,600.9 1501.4,602.7 1502.3,604.5 1503.2,606.2 1504.2,608.0 1505.1,609.8 1506.0,611.5 1507.0,613.3 1507.9,615.0 1508.8,616.8 1509.8,618.6 1510.7,620.3 1511.7,622.1 1512.6,623.9 1513.5,625.6 1514.5,627.4 1515.4,629.1 1516.4,630.9 1517.3,632.7 1518.2,634.4 1519.2,636.2 1520.1,637.9 1521.1,639.7 1522.0,641.5 1523.0,643.2 1523.9,645.0 1524.9,646.7 1525.8,648.5 1526.8,650.3 1527.7,652.0 1528.7,653.8 1529.6,655.5 1530.6,657.3 1531.5,659.1 1532.5,660.8 1533.4,662.6 1534.4,664.3 1535.4,666.1 1536.3,667.8 1537.3,669.6 1538.2,671.4 1539.2,673.1 1540.2,674.9 1541.1,676.6 1542.1,678.4 1543.0,680.1 1544.0,681.9 1545.0,683.6 1546.0,685.4 1546.9,687.1 1547.9,688.9 1548.9,690.7 1549.8,692.4 1550.8,694.2 1551.8,695.9 1552.8,697.7 1553.7,699.4 1554.7,701.2 1555.7,702.9 1556.7,704.7 1557.7,706.4 1558.6,708.2 1559.6,709.9 1560.6,711.7 1561.6,713.4 1562.6,715.2 1563.6,716.9 1564.6,718.7 1565.5,720.4 1566.5,722.1 1567.5,723.9 1568.5,725.6 1569.5,727.4 1570.5,729.1 1571.5,730.9 1572.5,732.6 1573.5,734.4 1574.5,736.1 1575.5,737.8 1576.5,739.6 1577.5,741.3 1578.5,743.1 1579.5,744.8 1580.5,746.5 1581.5,748.3 1582.5,750.0 1583.6,751.7 1584.6,753.5 1585.6,755.2 1586.6,756.9 1587.6,758.7 1588.6,760.4 1589.6,762.1 1590.7,763.9 1591.7,765.6 1592.7,767.3 1593.7,769.1 1594.8,770.8 1595.8,772.5 1596.8,774.2 1597.8,776.0 1598.9,777.7 1599.9,779.4 1600.9,781.1 1602.0,782.9 1603.0,784.6 1604.0,786.3 1605.1,788.0 1606.1,789.8 1607.2,791.5 1608.2,793.2 1609.2,794.9 1610.3,796.6 1611.3,798.3 1612.4,800.1 1613.4,801.8 1614.5,803.5 1615.5,805.2 1616.6,806.9 1617.6,808.6 1618.7,810.3 1619.8,812.0 1620.8,813.7 1621.9,815.4 1622.9,817.1 1624.0,818.9 1625.1,820.6 1626.1,822.3 1627.2,824.0 1628.3,825.7 1629.4,827.4 1630.4,829.1 1631.5,830.8 1632.6,832.5 1633.7,834.1 1634.7,835.8 1635.8,837.5 1636.9,839.2 1638.0,840.9 1639.1,842.6 1640.1,844.3 1641.2,846.0 1642.3,847.7 1643.4,849.4 1644.5,851.0 1645.6,852.7 1646.7,854.4 1647.8,856.1 1648.9,857.8 1650.0,859.4 1651.1,861.1 1652.2,862.8 1653.3,864.5 1654.4,866.1 1655.5,867.8 1656.6,869.5 1657.8,871.2 1658.9,872.8 1660.0,874.5 1661.1,876.2 1662.2,877.8 1663.3,879.5 1664.5,881.2 1665.6,882.8 1666.7,884.5 1667.8,886.1 1669.0,887.8 1670.1,889.4 1671.2,891.1 1672.4,892.7 1673.5,894.4 1674.6,896.1 1675.8,897.7 1676.9,899.3 1678.1,901.0 1679.2,902.6 1680.4,904.3 1681.5,905.9 1682.7,907.6 1683.8,909.2 1685.0,910.8 1686.1,912.5 1687.3,914.1 1688.5,915.7 1689.6,917.4 1690.8,919.0 1691.9,920.6 1693.1,922.3 1694.3,923.9 1695.5,925.5 1696.6,927.1 1697.8,928.8 1699.0,930.4 1700.2,932.0 1701.3,933.6 1702.5,935.2 1703.7,936.8 1704.9,938.4 1706.1,940.1 1707.3,941.7 1708.5,943.3 1709.7,944.9 1710.9,946.5 1712.1,948.1 1713.3,949.7 1714.5,951.3 1715.7,952.9 1716.9,954.5 1718.1,956.1 1719.3,957.7 1720.5,959.2 1721.7,960.8 1722.9,962.4 1724.1,964.0 1725.4,965.6 1726.6,967.2 1727.8,968.8 1729.0,970.3 1730.3,971.9 1731.5,973.5 1732.7,975.1 1734.0,976.6 1735.2,978.2 1736.4,979.8 1737.7,981.3 1738.9,982.9 1740.2,984.4 1741.4,986.0 1742.7,987.6 1743.9,989.1 1745.2,990.7 1746.4,992.2 1747.7,993.8 1748.9,995.3 1750.2,996.9 1751.5,998.4 1752.7,1000.0 1754.0,1001.5 1755.3,1003.0 1756.5,1004.6 1757.8,1006.1 1759.1,1007.6 1760.4,1009.2 1761.7,1010.7 1762.9,1012.2 1764.2,1013.8 1765.5,1015.3 1766.8,1016.8 1768.1,1018.3 1769.4,1019.8 1770.7,1021.3 1772.0,1022.9 1773.3,1024.4 1774.6,1025.9 1775.9,1027.4 1777.2,1028.9 1778.5,1030.4 1779.8,1031.9 1781.2,1033.4 1782.5,1034.9 1783.8,1036.4 1785.1,1037.9 1786.4,1039.4 1787.8,1040.8 1789.1,1042.3 1790.4,1043.8 1791.8,1045.3 1793.1,1046.8 1794.4,1048.2 1795.8,1049.7 1797.1,1051.2 1798.5,1052.7 1799.8,1054.1 1801.2,1055.6 1802.5,1057.1 1803.9,1058.5 1805.2,1060.0 1806.6,1061.4 1808.0,1062.9 1809.3,1064.3 1810.7,1065.8 1812.1,1067.2 1813.4,1068.7 1814.8,1070.1 1816.2,1071.6 1817.6,1073.0 1819.0,1074.4 1820.4,1075.9 1821.7,1077.3 1823.1,1078.7 1824.5,1080.1 1825.9,1081.6 1827.3,1083.0 1828.7,1084.4 1830.1,1085.8 1831.5,1087.2 1832.9,1088.7 1834.3,1090.1 1835.8,1091.5 1837.2,1092.9 1838.6,1094.3 1840.0,1095.7 1841.4,1097.1 1842.9,1098.5 1844.3,1099.8 1845.7,1101.2 1847.2,1102.6 1848.6,1104.0 1850.0,1105.4 1851.5,1106.8 1852.9,1108.1 1854.4,1109.5 1855.8,1110.9 1857.3,1112.3 1858.7,1113.6 1860.2,1115.0 1861.6,1116.3 1863.1,1117.7 1864.5,1119.1 1866.0,1120.4 1867.5,1121.8 1869.0,1123.1 1870.4,1124.5 1871.9,1125.8 1873.4,1127.1 1874.9,1128.5 1876.3,1129.8 1877.8,1131.2 1879.3,1132.5 1880.8,1133.8 1882.3,1135.1 1883.8,1136.5 1885.3,1137.8 1886.8,1139.1 1888.3,1140.4 1889.8,1141.7 1891.3,1143.0 1892.8,1144.4 1894.3,1145.7 1895.8,1147.0 1897.3,1148.3 1898.9,1149.6 1900.4,1150.9 1901.9,1152.1 1903.4,1153.4 1904.9,1154.7 1906.5,1156.0 1908.0,1157.3 1909.5,1158.6 1911.1,1159.8 1912.6,1161.1 1914.2,1162.4 1915.7,1163.7 1917.2,1164.9 1918.8,1166.2 1920.3,1167.5 1921.9,1168.7 1923.4,1170.0 1925.0,1171.2 1926.6,1172.5 1928.1,1173.7 1929.7,1175.0 1931.2,1176.2 1932.8,1177.5 1934.4,1178.7 1935.9,1179.9 1937.5,1181.2 1939.1,1182.4 1940.7,1183.6 1942.3,1184.8 1943.8,1186.1 1945.4,1187.3 1947.0,1188.5 1948.6,1189.7 1950.2,1190.9 1951.8,1192.1 1953.4,1193.3 1955.0,1194.5 1956.6,1195.7 1958.2,1196.9 1959.8,1198.1 1961.4,1199.3 1963.0,1200.5 1964.6,1201.7 1966.2,1202.9 1967.8,1204.1 1969.4,1205.3 1971.0,1206.4 1972.7,1207.6 1974.3,1208.8 1975.9,1209.9 1977.5,1211.1 1979.2,1212.3 1980.8,1213.4 1982.4,1214.6 1984.1,1215.7 1985.7,1216.9 1987.3,1218.0 1989.0,1219.2 1990.6,1220.3 1992.2,1221.5 1993.9,1222.6 1995.5,1223.8 1997.2,1224.9 1998.8,1226.0 2000.5,1227.1 2002.1,1228.3 2003.8,1229.4 2005.5,1230.5 2007.1,1231.6 2008.8,1232.7 2010.5,1233.9 2012.1,1235.0 2013.8,1236.1 2015.5,1237.2 2017.1,1238.3 2018.8,1239.4 2020.5,1240.5 2022.2,1241.6 2023.8,1242.6 2025.5,1243.7 2027.2,1244.8 2028.9,1245.9 2030.6,1247.0 2032.3,1248.0 2033.9,1249.1 2035.6,1250.2 2037.3,1251.3 2039.0,1252.3 2040.7,1253.4 2042.4,1254.4 2044.1,1255.5 2045.8,1256.5 2047.5,1257.6 2049.2,1258.6 2051.0,1259.7 2052.7,1260.7 2054.4,1261.8 2056.1,1262.8 2057.8,1263.8 2059.5,1264.9 2061.2,1265.9 2063.0,1266.9 2064.7,1267.9 2066.4,1269.0 2068.1,1270.0 2069.9,1271.0 2071.6,1272.0 2073.3,1273.0 2075.1,1274.0 2076.8,1275.0 2078.5,1276.0 2080.3,1277.0 2082.0,1278.0 2083.7,1279.0 2085.5,1280.0 2087.2,1281.0 2089.0,1281.9 2090.7,1282.9 2092.5,1283.9 2094.2,1284.9 2096.0,1285.8 2097.7,1286.8 2099.5,1287.8 2101.2,1288.7 2103.0,1289.7 2104.8,1290.7 2106.5,1291.6 2108.3,1292.6 2110.1,1293.5 2111.8,1294.4 2113.6,1295.4 2115.4,1296.3 2117.1,1297.3 2118.9,1298.2 2120.7,1299.1 2122.5,1300.1 2124.2,1301.0 2126.0,1301.9 2127.8,1302.8 2129.6,1303.7 2131.4,1304.6 2133.1,1305.5 2134.9,1306.5 2136.7,1307.4 2138.5,1308.3 2140.3,1309.2 2142.1,1310.0 2143.9,1310.9 2145.7,1311.8 2147.5,1312.7 2149.3,1313.6 2151.1,1314.5 2152.9,1315.4 2154.7,1316.2 2156.5,1317.1 2158.3,1318.0 2160.1,1318.8 2161.9,1319.7 2163.7,1320.5 2165.5,1321.4 2167.3,1322.3 2169.2,1323.1 2171.0,1324.0 2172.8,1324.8 2174.6,1325.6 2176.4,1326.5 2178.2,1327.3 2180.1,1328.1 2181.9,1329.0 2183.7,1329.8 2185.5,1330.6 2187.4,1331.4 2189.2,1332.3 2191.0,1333.1 2192.9,1333.9 2194.7,1334.7 2196.5,1335.5 2198.4,1336.3 2200.2,1337.1 2202.0,1337.9 2203.9,1338.7 2205.7,1339.5 2207.6,1340.3 2209.4,1341.0 2211.3,1341.8 2213.1,1342.6 2214.9,1343.4 2216.8,1344.1 2218.6,1344.9 2220.5,1345.7 2222.3,1346.4 2224.2,1347.2 2226.1,1347.9 2227.9,1348.7 2229.8,1349.4 2231.6,1350.2 2233.5,1350.9 2235.3,1351.7 2237.2,1352.4 2239.1,1353.1 2240.9,1353.9 2242.8,1354.6 2244.7,1355.3 2246.5,1356.1 2248.4,1356.8 2250.3,1357.5 2252.1,1358.2 2254.0,1358.9 2255.9,1359.6 2257.8,1360.3 2259.6,1361.0 2261.5,1361.7 2263.4,1362.4 2265.3,1363.1 2267.2,1363.8 2269.0,1364.5 2270.9,1365.2 2272.8,1365.8 2274.7,1366.5 2276.6,1367.2 2278.5,1367.8 2280.3,1368.5 2282.2,1369.2 2284.1,1369.8 2286.0,1370.5 2287.9,1371.1 2289.8,1371.8 2291.7,1372.4 2293.6,1373.1 2295.5,1373.7 2297.4,1374.4 2299.3,1375.0 2301.2,1375.6 2303.1,1376.2 2305.0,1376.9 2306.9,1377.5 2308.8,1378.1 2310.7,1378.7 2312.6,1379.3 2314.5,1379.9 2316.4,1380.5 2318.3,1381.1 2320.2,1381.7 2322.1,1382.3 2324.0,1382.9 2325.9,1383.5 2327.8,1384.1 2329.8,1384.7 2331.7,1385.3 2333.6,1385.8 2335.5,1386.4 2337.4,1387.0 2339.3,1387.6 2341.3,1388.1 2343.2,1388.7 2345.1,1389.2 2347.0,1389.8 2348.9,1390.3 2350.9,1390.9 2352.8,1391.4 2354.7,1392.0 2356.6,1392.5 2358.6,1393.0 2360.5,1393.6 2362.4,1394.1 2364.3,1394.6 2366.3,1395.1 2368.2,1395.7 2370.1,1396.2 2372.1,1396.7 2374.0,1397.2 2375.9,1397.7 2377.9,1398.2 2379.8,1398.7 2381.7,1399.2 2383.7,1399.7 2385.6,1400.2 2387.5,1400.7 2389.5,1401.1 2391.4,1401.6 2393.4,1402.1 2395.3,1402.6 2397.2,1403.0 2399.2,1403.5 2401.1,1404.0 2403.1,1404.4 2405.0,1404.9 2406.9,1405.3 2408.9,1405.8 2410.8,1406.2 2412.8,1406.7 2414.7,1407.1 2416.7,1407.5 2418.6,1408.0 2420.6,1408.4 2421.0,1408.5" stroke="#000" stroke-dasharray="47.5 63.8" stroke-dashoffset="4.5"/>
<polyline points="313.0,1491.5 315.0,1491.2 316.9,1490.8 318.9,1490.5 320.9,1490.1 322.8,1489.8 324.8,1489.5 326.8,1489.1 328.8,1488.7 330.7,1488.4 332.7,1488.0 334.7,1487.7 336.6,1487.3 338.6,1486.9 340.6,1486.6 342.5,1486.2 344.5,1485.8 346.5,1485.4 348.4,1485.0 350.4,1484.7 352.3,1484.3 354.3,1483.9 356.3,1483.5 358.2,1483.1 360.2,1482.7 362.1,1482.3 364.1,1481.9 366.1,1481.4 368.0,1481.0 370.0,1480.6 371.9,1480.2 373.9,1479.8 375.8,1479.3 377.8,1478.9 379.7,1478.5 381.7,1478.0 383.6,1477.6 385.6,1477.2 387.5,1476.7 389.5,1476.3 391.4,1475.8 393.4,1475.4 395.3,1474.9 397.3,1474.5 399.2,1474.0 401.2,1473.5 403.1,1473.1 405.1,1472.6 407.0,1472.1 409.0,1471.6 410.9,1471.2 412.8,1470.7 414.8,1470.2 416.7,1469.7 418.7,1469.2 420.6,1468.7 422.5,1468.2 424.5,1467.7 426.4,1467.2 428.3,1466.7 430.3,1466.2 432.2,1465.7 434.1,1465.2 436.1,1464.7 438.0,1464.2 439.9,1463.7 441.9,1463.2 443.8,1462.6 445.7,1462.1 447.7,1461.6 449.6,1461.0 451.5,1460.5 453.4,1460.0 455.4,1459.4 457.3,1458.9 459.2,1458.4 461.1,1457.8 463.1,1457.3 465.0,1456.7 466.9,1456.2 468.8,1455.6 470.7,1455.0 472.7,1454.5 474.6,1453.9 476.5,1453.3 478.4,1452.8 480.3,1452.2 482.2,1451.6 484.2,1451.1 486.1,1450.5 488.0,1449.9 489.9,1449.3 491.8,1448.7 493.7,1448.1 495.6,1447.6 497.5,1447.0 499.5,1446.4 501.4,1445.8 503.3,1445.2 505.2,1444.6 507.1,1444.0 509.0,1443.4 510.9,1442.8 512.8,1442.1 514.7,1441.5 516.6,1440.9 518.5,1440.3 520.4,1439.7 522.3,1439.1 524.2,1438.4 526.1,1437.8 528.0,1437.2 529.9,1436.6 531.8,1435.9 533.7,1435.3 535.6,1434.7 537.5,1434.0 539.4,1433.4 541.3,1432.7 543.2,1432.1 545.1,1431.4 547.0,1430.8 548.9,1430.1 550.8,1429.5 552.6,1428.8 554.5,1428.2 556.4,1427.5 558.3,1426.8 560.2,1426.2 562.1,1425.5 564.0,1424.9 565.9,1424.2 567.7,1423.5 569.6,1422.8 571.5,1422.2 573.4,1421.5 575.3,1420.8 577.2,1420.1 579.0,1419.4 580.9,1418.8 582.8,1418.1 584.7,1417.4 586.5,1416.7 588.4,1416.0 590.3,1415.3 592.2,1414.6 594.0,1413.9 595.9,1413.2 597.8,1412.5 599.7,1411.8 601.5,1411.1 603.4,1410.4 605.3,1409.7 607.2,1409.0 609.0,1408.3 610.9,1407.5 612.8,1406.8 614.6,1406.1 616.5,1405.4 618.4,1404.7 620.2,1403.9 622.1,1403.2 623.9,1402.5 625.8,1401.8 627.7,1401.0 629.5,1400.3 631.4,1399.6 633.2,1398.8 635.1,1398.1 637.0,1397.4 638.8,1396.6 640.7,1395.9 642.5,1395.1 644.4,1394.4 646.2,1393.7 648.1,1392.9 650.0,1392.2 651.8,1391.4 653.7,1390.7 655.5,1389.9 657.4,1389.1 659.2,1388.4 661.1,1387.6 662.9,1386.9 664.8,1386.1 666.6,1385.4 668.5,1384.6 670.3,1383.8 672.2,1383.1 674.0,1382.3 675.9,1381.6 677.7,1380.8 679.6,1380.0 681.4,1379.2 683.3,1378.5 685.1,1377.7 686.9,1376.8 688.7,1376.0 690.5,1375.2 692.3,1374.3 694.1,1373.4 695.9,1372.5 697.6,1371.6 699.4,1370.7 701.2,1369.8 702.9,1368.8 704.7,1367.9 706.4,1366.9 708.1,1365.9 709.8,1364.9 711.6,1363.9 713.3,1362.9 715.0,1361.9 716.7,1360.8 718.4,1359.8 720.0,1358.7 721.7,1357.6 723.4,1356.5 725.1,1355.4 726.7,1354.3 728.4,1353.2 730.1,1352.0 731.7,1350.9 733.4,1349.7 735.0,1348.6 736.6,1347.4 738.3,1346.2 739.9,1345.1 741.6,1343.9 743.2,1342.7 744.8,1341.5 746.4,1340.3 748.1,1339.1 749.7,1337.9 751.3,1336.7 752.9,1335.5 754.5,1334.3 756.1,1333.1 757.7,1331.8 759.4,1330.6 761.0,1329.4 762.6,1328.2 764.2,1327.0 765.8,1325.8 767.4,1324.5 769.0,1323.3 770.6,1322.1 772.2,1320.9 773.7,1319.6 775.3,1318.4 776.9,1317.2 778.5,1315.9 780.0,1314.7 781.6,1313.4 783.2,1312.2 784.7,1310.9 786.2,1309.6 787.8,1308.4 789.3,1307.1 790.8,1305.8 792.3,1304.5 793.9,1303.2 795.4,1301.9 796.8,1300.5 798.3,1299.2 799.8,1297.9 801.3,1296.5 802.7,1295.1 804.2,1293.8 805.6,1292.4 807.0,1291.0 808.4,1289.6 809.8,1288.1 811.2,1286.7 812.6,1285.3 814.0,1283.8 815.3,1282.4 816.7,1280.9 818.0,1279.4 819.4,1277.9 820.7,1276.4 822.0,1274.9 823.3,1273.4 824.6,1271.9 825.9,1270.4 827.2,1268.9 828.5,1267.3 829.8,1265.8 831.1,1264.2 832.3,1262.7 833.6,1261.1 834.8,1259.6 836.1,1258.0 837.3,1256.4 838.6,1254.8 839.8,1253.3 841.0,1251.7 842.2,1250.1 843.5,1248.5 844.7,1246.9 845.9,1245.3 847.1,1243.7 848.3,1242.1 849.5,1240.5 850.7,1238.9 851.8,1237.3 853.0,1235.7 854.2,1234.1 855.3,1232.4 856.5,1230.8 857.7,1229.2 858.8,1227.5 860.0,1225.9 861.1,1224.3 862.2,1222.6 863.4,1221.0 864.5,1219.3 865.6,1217.7 866.7,1216.0 867.8,1214.4 868.9,1212.7 870.0,1211.0 871.1,1209.4 872.2,1207.7 873.3,1206.0 874.4,1204.3 875.5,1202.7 876.6,1201.0 877.6,1199.3 878.7,1197.6 879.8,1195.9 880.8,1194.2 881.9,1192.5 882.9,1190.8 884.0,1189.1 885.0,1187.4 886.0,1185.7 887.1,1184.0 888.1,1182.3 889.1,1180.6 890.1,1178.9 891.1,1177.1 892.1,1175.4 893.2,1173.7 894.2,1172.0 895.2,1170.2 896.1,1168.5 897.1,1166.7 898.1,1165.0 899.1,1163.3 900.1,1161.5 901.0,1159.8 902.0,1158.0 903.0,1156.3 903.9,1154.5 904.9,1152.8 905.8,1151.0 906.8,1149.3 907.7,1147.5 908.7,1145.7 909.6,1144.0 910.5,1142.2 911.5,1140.4 912.4,1138.7 913.3,1136.9 914.2,1135.1 915.2,1133.3 916.1,1131.5 917.0,1129.8 917.9,1128.0 918.8,1126.2 919.7,1124.4 920.6,1122.6 921.5,1120.8 922.3,1119.0 923.2,1117.2 924.1,1115.4 925.0,1113.6 925.8,1111.8 926.7,1110.0 927.6,1108.2 928.4,1106.4 929.3,1104.6 930.2,1102.8 931.0,1101.0 931.9,1099.2 932.7,1097.3 933.5,1095.5 934.4,1093.7 935.2,1091.9 936.0,1090.1 936.9,1088.2 937.7,1086.4 938.5,1084.6 939.3,1082.8 940.2,1080.9 941.0,1079.1 941.8,1077.3 942.6,1075.4 943.4,1073.6 944.2,1071.8 945.0,1069.9 945.8,1068.1 946.6,1066.3 947.4,1064.4 948.2,1062.6 948.9,1060.7 949.7,1058.9 950.5,1057.1 951.3,1055.2 952.1,1053.4 952.8,1051.5 953.6,1049.7 954.4,1047.8 955.1,1046.0 955.9,1044.1 956.6,1042.3 957.4,1040.4 958.1,1038.5 958.9,1036.7 959.6,1034.8 960.4,1033.0 961.1,1031.1 961.9,1029.3 962.6,1027.4 963.3,1025.5 964.1,1023.7 964.8,1021.8 965.5,1019.9 966.2,1018.1 967.0,1016.2 967.7,1014.3 968.4,1012.5 969.1,1010.6 969.8,1008.7 970.5,1006.9 971.2,1005.0 972.0,1003.1 972.7,1001.2 973.4,999.4 974.1,997.5 974.8,995.6 975.4,993.7 976.1,991.9 976.8,990.0 977.5,988.1 978.2,986.2 978.9,984.3 979.6,982.5 980.2,980.6 980.9,978.7 981.6,976.8 982.3,974.9 982.9,973.0 983.6,971.1 984.3,969.3 985.0,967.4 985.6,965.5 986.3,963.6 986.9,961.7 987.6,959.8 988.3,957.9 988.9,956.0 989.6,954.1 990.2,952.2 990.9,950.4 991.5,948.5 992.2,946.6 992.8,944.7 993.4,942.8 994.1,940.9 994.7,939.0 995.4,937.1 996.0,935.2 996.6,933.3 997.3,931.4 997.9,929.5 998.5,927.6 999.1,925.7 999.8,923.8 1000.4,921.9 1001.0,920.0 1001.6,918.1 1002.3,916.2 1002.9,914.3 1003.5,912.4 1004.1,910.5 1004.7,908.6 1005.3,906.7 1005.9,904.7 1006.6,902.8 1007.2,900.9 1007.8,899.0 1008.4,897.1 1009.0,895.2 1009.6,893.3 1010.2,891.4 1010.8,889.5 1011.4,887.6 1012.0,885.7 1012.6,883.8 1013.2,881.8 1013.8,879.9 1014.4,878.0 1015.0,876.1 1015.6,874.2 1016.2,872.3 1016.7,870.4 1017.3,868.5 1017.9,866.6 1018.5,864.6 1019.1,862.7 1019.7,860.8 1020.3,858.9 1020.8,857.0 1021.4,855.1 1022.0,853.2 1022.6,851.3 1023.2,849.3 1023.8,847.4 1024.3,845.5 1024.9,843.6 1025.5,841.7 1026.1,839.8 1026.6,837.9 1027.2,835.9 1027.8,834.0 1028.4,832.1 1028.9,830.2 1029.5,828.3 1030.1,826.4 1030.6,824.4 1031.2,822.5 1031.8,820.6 1032.3,818.7 1032.9,816.8 1033.5,814.9 1034.0,812.9 1034.6,811.0 1035.2,809.1 1035.7,807.2 1036.3,805.3 1036.9,803.4 1037.4,801.4 1038.0,799.5 1038.5,797.6 1039.1,795.7 1039.6,793.8 1040.2,791.9 1040.8,789.9 1041.3,788.0 1041.9,786.1 1042.4,784.2 1043.0,782.3 1043.5,780.3 1044.1,778.4 1044.6,776.5 1045.2,774.6 1045.7,772.7 1046.3,770.7 1046.8,768.8 1047.4,766.9 1047.9,765.0 1048.5,763.1 1049.0,761.1 1049.5,759.2 1050.1,757.3 1050.6,755.4 1051.2,753.5 1051.7,751.5 1052.2,749.6 1052.8,747.7 1053.3,745.8 1053.9,743.8 1054.4,741.9 1054.9,740.0 1055.5,738.1 1056.0,736.1 1056.5,734.2 1057.1,732.3 1057.6,730.4 1058.1,728.5 1058.7,726.5 1059.2,724.6 1059.7,722.7 1060.3,720.8 1060.8,718.8 1061.3,716.9 1061.8,715.0 1062.4,713.1 1062.9,711.1 1063.4,709.2 1063.9,707.3 1064.5,705.4 1065.0,703.4 1065.5,701.5 1066.0,699.6 1066.5,697.6 1067.1,695.7 1067.6,693.8 1068.1,691.9 1068.6,689.9 1069.1,688.0 1069.6,686.1 1070.2,684.2 1070.7,682.2 1071.2,680.3 1071.7,678.4 1072.2,676.4 1072.7,674.5 1073.2,672.6 1073.8,670.6 1074.3,668.7 1074.8,666.8 1075.3,664.9 1075.8,662.9 1076.3,661.0 1076.8,659.1 1077.3,657.1 1077.8,655.2 1078.3,653.3 1078.8,651.3 1079.3,649.4 1079.8,647.5 1080.3,645.5 1080.8,643.6 1081.3,641.7 1081.8,639.7 1082.3,637.8 1082.8,635.9 1083.3,634.0 1083.8,632.0 1084.3,630.1 1084.8,628.1 1085.3,626.2 1085.8,624.3 1086.3,622.3 1086.8,620.4 1087.3,618.5 1087.8,616.5 1088.3,614.6 1088.8,612.7 1089.3,610.7 1089.7,608.8 1090.2,606.9 1090.7,604.9 1091.2,603.0 1091.7,601.1 1092.2,599.1 1092.7,597.2 1093.1,595.2 1093.6,593.3 1094.1,591.4 1094.6,589.4 1095.1,587.5 1095.6,585.6 1096.0,583.6 1096.5,581.7 1097.0,579.7 1097.5,577.8 1098.0,575.9 1098.4,573.9 1098.9,572.0 1099.4,570.0 1099.9,568.1 1100.4,566.2 1100.8,564.2 1101.3,562.3 1101.8,560.3 1102.3,558.4 1102.7,556.4 1103.2,554.5 1103.7,552.6 1104.1,550.6 1104.6,548.7 1105.1,546.7 1105.5,544.8 1106.0,542.8 1106.5,540.9 1107.0,539.0 1107.4,537.0 1107.9,535.1 1108.4,533.1 1108.8,531.2 1109.3,529.2 1109.7,527.3 1110.2,525.3 1110.7,523.4 1111.1,521.5 1111.6,519.5 1112.1,517.6 1112.5,515.6 1113.0,513.7 1113.4,511.7 1113.9,509.8 1114.4,507.8 1114.8,505.9 1115.3,503.9 1115.7,502.0 1116.2,500.0 1116.6,498.1 1117.1,496.1 1117.6,494.2 1118.0,492.2 1118.5,490.3 1118.9,488.3 1119.4,486.4 1119.8,484.4 1120.3,482.5 1120.7,480.5 1121.2,478.6 1121.6,476.6 1122.1,474.7 1122.5,472.7 1123.0,470.8 1123.4,468.8 1123.9,466.9 1124.3,464.9 1124.8,463.0 1125.2,461.0 1125.6,459.1 1126.1,457.1 1126.5,455.2 1127.0,453.2 1127.4,451.2 1127.9,449.3 1128.3,447.3 1128.7,445.4 1129.2,443.4 1129.6,441.5 1130.1,439.5 1130.5,437.6 1130.9,435.6 1131.4,433.6 1131.8,431.7 1132.3,429.7 1132.7,427.8 1133.1,425.8 1133.6,423.9 1134.0,421.9 1134.4,419.9 1134.9,418.0 1135.3,416.0 1135.7,414.1 1136.2,412.1 1136.6,410.1 1137.0,408.2 1137.5,406.2 1137.9,404.3 1138.3,402.3 1138.8,400.3 1139.2,398.4 1139.6,396.4 1140.1,394.4 1140.5,392.5 1140.9,390.5 1141.3,388.6 1141.8,386.6 1142.2,384.6 1142.6,382.7 1143.0,380.7 1143.5,378.7 1143.9,376.8 1144.3,374.8 1144.7,372.8 1145.2,370.9 1145.6,368.9 1146.0,367.0 1146.4,365.0 1146.8,363.0 1147.3,361.1 1147.7,359.1 1148.1,357.1 1148.5,355.2 1148.9,353.2 1149.4,351.2 1149.8,349.2 1150.2,347.3 1150.6,345.3 1151.0,343.3 1151.5,341.4 1151.9,339.4 1152.3,337.4 1152.7,335.5 1153.1,333.5 1153.6,331.5 1154.0,329.6 1154.4,327.6 1154.8,325.6 1155.3,323.7 1155.7,321.7 1156.1,319.7 1156.6,317.8 1157.0,315.8 1157.4,313.9 1157.9,311.9 1158.3,309.9 1158.8,308.0 1159.2,306.0 1159.7,304.1 1160.1,302.1 1160.6,300.2 1161.1,298.2 1161.5,296.3 1162.0,294.3 1162.5,292.4 1162.9,290.4 1163.4,288.5 1163.9,286.5 1164.4,284.6 1164.9,282.6 1165.4,280.7 1165.9,278.8 1166.4,276.8 1166.9,274.9 1167.4,273.0 1168.0,271.0 1168.5,269.1 1169.0,267.2 1169.6,265.3 1170.1,263.3 1170.7,261.4 1171.2,259.5 1171.8,257.6 1172.3,255.7 1172.9,253.8 1173.5,251.9 1174.1,250.0 1174.7,248.1 1175.3,246.2 1175.9,244.3 1176.5,242.4 1177.2,240.5 1177.8,238.6 1178.4,236.7 1179.1,234.8 1179.7,233.0 1180.4,231.1 1181.1,229.2 1181.7,227.4 1182.4,225.5 1183.1,223.6 1183.8,221.8 1184.6,219.9 1185.3,218.1 1186.0,216.2 1186.8,214.4 1187.5,212.5 1188.3,210.7 1189.0,208.9 1189.8,207.1 1190.6,205.2 1191.4,203.4 1192.2,201.6 1193.1,199.8 1193.9,198.0 1194.7,196.2 1195.6,194.4 1196.4,192.6 1197.3,190.8 1198.2,189.0 1199.1,187.2 1200.0,185.5 1200.9,183.7 1201.9,181.9 1202.8,180.2 1203.8,178.4 1204.8,176.7 1205.8,175.1 1206.9,173.5 1208.0,171.9 1209.2,170.4 1210.5,169.0 1211.8,167.8 1213.3,166.6 1214.8,165.5 1216.4,164.6 1218.1,163.8 1219.9,163.1 1221.9,162.6 1223.9,162.3 1226.1,162.2 1228.5,162.2 1231.0,162.5 1231.0,162.5" stroke="#ff0000" stroke-dasharray="47.5 63.8" stroke-dashoffset="13.2"/>
<polyline points="1231.0,162.5 1233.0,163.3 1234.9,164.1 1236.8,164.9 1238.7,165.8 1240.6,166.7 1242.4,167.6 1244.3,168.5 1246.0,169.5 1247.8,170.5 1249.5,171.5 1251.2,172.6 1252.9,173.6 1254.6,174.7 1256.2,175.9 1257.8,177.0 1259.4,178.2 1261.0,179.4 1262.5,180.6 1264.0,181.8 1265.5,183.0 1267.0,184.3 1268.5,185.6 1269.9,186.9 1271.3,188.3 1272.7,189.6 1274.1,191.0 1275.4,192.4 1276.8,193.8 1278.1,195.2 1279.4,196.6 1280.7,198.1 1282.0,199.5 1283.3,201.0 1284.5,202.5 1285.7,204.0 1287.0,205.5 1288.2,207.1 1289.3,208.6 1290.5,210.2 1291.7,211.8 1292.8,213.4 1294.0,215.0 1295.1,216.6 1296.2,218.2 1297.4,219.8 1298.5,221.5 1299.5,223.1 1300.6,224.8 1301.7,226.4 1302.8,228.1 1303.8,229.8 1304.9,231.5 1305.9,233.1 1307.0,234.8 1308.0,236.5 1309.0,238.3 1310.0,240.0 1311.1,241.7 1312.1,243.4 1313.1,245.1 1314.1,246.9 1315.1,248.6 1316.1,250.3 1317.1,252.1 1318.1,253.8 1319.1,255.5 1320.1,257.3 1321.0,259.0 1322.0,260.8 1323.0,262.5 1324.0,264.3 1324.9,266.0 1325.9,267.8 1326.9,269.6 1327.8,271.3 1328.8,273.1 1329.8,274.9 1330.7,276.6 1331.7,278.4 1332.6,280.2 1333.6,281.9 1334.6,283.7 1335.5,285.5 1336.5,287.3 1337.4,289.0 1338.4,290.8 1339.3,292.6 1340.3,294.4 1341.2,296.1 1342.2,297.9 1343.1,299.7 1344.1,301.5 1345.0,303.2 1346.0,305.0 1346.9,306.8 1347.9,308.5 1348.9,310.3 1349.8,312.1 1350.8,313.9 1351.7,315.6 1352.7,317.4 1353.6,319.2 1354.6,320.9 1355.5,322.7 1356.5,324.5 1357.5,326.2 1358.4,328.0 1359.4,329.8 1360.3,331.5 1361.3,333.3 1362.3,335.1 1363.2,336.8 1364.2,338.6 1365.1,340.4 1366.1,342.1 1367.0,343.9 1368.0,345.7 1369.0,347.4 1369.9,349.2 1370.9,351.0 1371.8,352.7 1372.8,354.5 1373.8,356.2 1374.7,358.0 1375.7,359.8 1376.6,361.5 1377.6,363.3 1378.5,365.1 1379.5,366.8 1380.5,368.6 1381.4,370.3 1382.4,372.1 1383.3,373.9 1384.3,375.6 1385.3,377.4 1386.2,379.2 1387.2,380.9 1388.1,382.7 1389.1,384.4 1390.0,386.2 1391.0,388.0 1391.9,389.7 1392.9,391.5 1393.9,393.2 1394.8,395.0 1395.8,396.8 1396.7,398.5 1397.7,400.3 1398.6,402.0 1399.6,403.8 1400.5,405.6 1401.5,407.3 1402.4,409.1 1403.4,410.8 1404.3,412.6 1405.3,414.4 1406.2,416.1 1407.2,417.9 1408.1,419.7 1409.1,421.4 1410.0,423.2 1410.9,424.9 1411.9,426.7 1412.8,428.5 1413.8,430.2 1414.7,432.0 1415.7,433.8 1416.6,435.5 1417.5,437.3 1418.5,439.0 1419.4,440.8 1420.4,442.6 1421.3,444.3 1422.2,446.1 1423.2,447.9 1424.1,449.6 1425.0,451.4 1426.0,453.2 1426.9,454.9 1427.8,456.7 1428.8,458.5 1429.7,460.2 1430.6,462.0 1431.5,463.8 1432.5,465.5 1433.4,467.3 1434.3,469.1 1435.3,470.8 1436.2,472.6 1437.1,474.4 1438.0,476.1 1439.0,477.9 1439.9,479.7 1440.8,481.4 1441.7,483.2 1442.7,485.0 1443.6,486.7 1444.5,488.5 1445.4,490.3 1446.3,492.0 1447.3,493.8 1448.2,495.6 1449.1,497.3 1450.0,499.1 1450.9,500.9 1451.9,502.6 1452.8,504.4 1453.7,506.2 1454.6,507.9 1455.5,509.7 1456.5,511.5 1457.4,513.2 1458.3,515.0 1459.2,516.8 1460.1,518.6 1461.0,520.3 1462.0,522.1 1462.9,523.9 1463.8,525.6 1464.7,527.4 1465.6,529.2 1466.5,530.9 1467.5,532.7 1468.4,534.5 1469.3,536.2 1470.2,538.0 1471.1,539.8 1472.0,541.5 1473.0,543.3 1473.9,545.1 1474.8,546.9 1475.7,548.6 1476.6,550.4 1477.5,552.2 1478.5,553.9 1479.4,555.7 1480.3,557.5 1481.2,559.2 1482.1,561.0 1483.0,562.8 1484.0,564.5 1484.9,566.3 1485.8,568.1 1486.7,569.8 1487.6,571.6 1488.5,573.4 1489.5,575.1 1490.4,576.9 1491.3,578.7 1492.2,580.4 1493.1,582.2 1494.1,584.0 1495.0,585.7 1495.9,587.5 1496.8,589.3 1497.7,591.0 1498.7,592.8 1499.6,594.6 1500.5,596.3 1501.4,598.1 1502.3,599.9 1503.3,601.6 1504.2,603.4 1505.1,605.2 1506.0,606.9 1507.0,608.7 1507.9,610.5 1508.8,612.2 1509.7,614.0 1510.7,615.8 1511.6,617.5 1512.5,619.3 1513.5,621.1 1514.4,622.8 1515.3,624.6 1516.2,626.3 1517.2,628.1 1518.1,629.9 1519.0,631.6 1520.0,633.4 1520.9,635.1 1521.8,636.9 1522.8,638.7 1523.7,640.4 1524.7,642.2 1525.6,644.0 1526.5,645.7 1527.5,647.5 1528.4,649.2 1529.3,651.0 1530.3,652.8 1531.2,654.5 1532.2,656.3 1533.1,658.0 1534.1,659.8 1535.0,661.5 1536.0,663.3 1536.9,665.1 1537.9,666.8 1538.8,668.6 1539.8,670.3 1540.7,672.1 1541.7,673.8 1542.6,675.6 1543.6,677.3 1544.5,679.1 1545.5,680.9 1546.4,682.6 1547.4,684.4 1548.3,686.1 1549.3,687.9 1550.3,689.6 1551.2,691.4 1552.2,693.1 1553.2,694.9 1554.1,696.6 1555.1,698.4 1556.1,700.1 1557.0,701.9 1558.0,703.6 1559.0,705.4 1559.9,707.1 1560.9,708.9 1561.9,710.6 1562.9,712.4 1563.8,714.1 1564.8,715.9 1565.8,717.6 1566.8,719.4 1567.8,721.1 1568.8,722.8 1569.7,724.6 1570.7,726.3 1571.7,728.1 1572.7,729.8 1573.7,731.6 1574.7,733.3 1575.7,735.0 1576.7,736.8 1577.7,738.5 1578.7,740.3 1579.7,742.0 1580.7,743.7 1581.7,745.5 1582.7,747.2 1583.7,748.9 1584.7,750.7 1585.7,752.4 1586.7,754.1 1587.7,755.9 1588.7,757.6 1589.7,759.3 1590.7,761.1 1591.7,762.8 1592.8,764.5 1593.8,766.3 1594.8,768.0 1595.8,769.7 1596.8,771.5 1597.9,773.2 1598.9,774.9 1599.9,776.6 1600.9,778.4 1602.0,780.1 1603.0,781.8 1604.0,783.5 1605.1,785.3 1606.1,787.0 1607.1,788.7 1608.2,790.4 1609.2,792.1 1610.3,793.8 1611.3,795.6 1612.3,797.3 1613.4,799.0 1614.4,800.7 1615.5,802.4 1616.5,804.1 1617.6,805.8 1618.6,807.6 1619.7,809.3 1620.7,811.0 1621.8,812.7 1622.9,814.4 1623.9,816.1 1625.0,817.8 1626.0,819.5 1627.1,821.2 1628.2,822.9 1629.2,824.6 1630.3,826.3 1631.4,828.0 1632.5,829.7 1633.5,831.4 1634.6,833.1 1635.7,834.8 1636.8,836.5 1637.8,838.2 1638.9,839.9 1640.0,841.6 1641.1,843.3 1642.2,844.9 1643.3,846.6 1644.4,848.3 1645.5,850.0 1646.6,851.7 1647.6,853.4 1648.7,855.0 1649.8,856.7 1650.9,858.4 1652.0,860.1 1653.2,861.8 1654.3,863.4 1655.4,865.1 1656.5,866.8 1657.6,868.5 1658.7,870.1 1659.8,871.8 1660.9,873.5 1662.0,875.1 1663.2,876.8 1664.3,878.5 1665.4,880.1 1666.5,881.8 1667.7,883.5 1668.8,885.1 1669.9,886.8 1671.1,888.4 1672.2,890.1 1673.3,891.7 1674.5,893.4 1675.6,895.0 1676.7,896.7 1677.9,898.3 1679.0,900.0 1680.2,901.6 1681.3,903.3 1682.5,904.9 1683.6,906.6 1684.8,908.2 1685.9,909.8 1687.1,911.5 1688.2,913.1 1689.4,914.8 1690.6,916.4 1691.7,918.0 1692.9,919.7 1694.1,921.3 1695.2,922.9 1696.4,924.5 1697.6,926.2 1698.8,927.8 1699.9,929.4 1701.1,931.0 1702.3,932.6 1703.5,934.3 1704.7,935.9 1705.9,937.5 1707.1,939.1 1708.2,940.7 1709.4,942.3 1710.6,943.9 1711.8,945.5 1713.0,947.1 1714.2,948.7 1715.4,950.3 1716.6,951.9 1717.8,953.5 1719.1,955.1 1720.3,956.7 1721.5,958.3 1722.7,959.9 1723.9,961.5 1725.1,963.1 1726.4,964.7 1727.6,966.2 1728.8,967.8 1730.0,969.4 1731.3,971.0 1732.5,972.6 1733.7,974.1 1735.0,975.7 1736.2,977.3 1737.4,978.8 1738.7,980.4 1739.9,982.0 1741.2,983.5 1742.4,985.1 1743.7,986.7 1744.9,988.2 1746.2,989.8 1747.4,991.3 1748.7,992.9 1750.0,994.4 1751.2,996.0 1752.5,997.5 1753.8,999.1 1755.0,1000.6 1756.3,1002.2 1757.6,1003.7 1758.8,1005.2 1760.1,1006.8 1761.4,1008.3 1762.7,1009.8 1764.0,1011.4 1765.3,1012.9 1766.5,1014.4 1767.8,1015.9 1769.1,1017.5 1770.4,1019.0 1771.7,1020.5 1773.0,1022.0 1774.3,1023.5 1775.6,1025.0 1776.9,1026.6 1778.3,1028.1 1779.6,1029.6 1780.9,1031.1 1782.2,1032.6 1783.5,1034.1 1784.8,1035.6 1786.2,1037.1 1787.5,1038.5 1788.8,1040.0 1790.1,1041.5 1791.5,1043.0 1792.8,1044.5 1794.1,1046.0 1795.5,1047.5 1796.8,1048.9 1798.2,1050.4 1799.5,1051.9 1800.9,1053.4 1802.2,1054.8 1803.6,1056.3 1804.9,1057.7 1806.3,1059.2 1807.6,1060.7 1809.0,1062.1 1810.4,1063.6 1811.7,1065.0 1813.1,1066.5 1814.5,1067.9 1815.8,1069.4 1817.2,1070.8 1818.6,1072.3 1820.0,1073.7 1821.4,1075.1 1822.8,1076.6 1824.1,1078.0 1825.5,1079.4 1826.9,1080.8 1828.3,1082.3 1829.7,1083.7 1831.1,1085.1 1832.5,1086.5 1833.9,1087.9 1835.3,1089.4 1836.7,1090.8 1838.2,1092.2 1839.6,1093.6 1841.0,1095.0 1842.4,1096.4 1843.8,1097.8 1845.3,1099.2 1846.7,1100.6 1848.1,1101.9 1849.6,1103.3 1851.0,1104.7 1852.4,1106.1 1853.9,1107.5 1855.3,1108.9 1856.8,1110.2 1858.2,1111.6 1859.7,1113.0 1861.1,1114.3 1862.6,1115.7 1864.0,1117.1 1865.5,1118.4 1867.0,1119.8 1868.4,1121.1 1869.9,1122.5 1871.4,1123.8 1872.8,1125.2 1874.3,1126.5 1875.8,1127.9 1877.3,1129.2 1878.7,1130.5 1880.2,1131.9 1881.7,1133.2 1883.2,1134.5 1884.7,1135.8 1886.2,1137.2 1887.7,1138.5 1889.2,1139.8 1890.7,1141.1 1892.2,1142.4 1893.7,1143.7 1895.2,1145.0 1896.7,1146.3 1898.2,1147.7 1899.7,1148.9 1901.3,1150.2 1902.8,1151.5 1904.3,1152.8 1905.8,1154.1 1907.4,1155.4 1908.9,1156.7 1910.4,1158.0 1912.0,1159.2 1913.5,1160.5 1915.0,1161.8 1916.6,1163.1 1918.1,1164.3 1919.7,1165.6 1921.2,1166.9 1922.8,1168.1 1924.3,1169.4 1925.9,1170.6 1927.4,1171.9 1929.0,1173.1 1930.5,1174.4 1932.1,1175.6 1933.7,1176.9 1935.2,1178.1 1936.8,1179.3 1938.4,1180.6 1939.9,1181.8 1941.5,1183.0 1943.1,1184.3 1944.7,1185.5 1946.3,1186.7 1947.8,1187.9 1949.4,1189.1 1951.0,1190.3 1952.6,1191.5 1954.2,1192.8 1955.8,1194.0 1957.4,1195.2 1959.0,1196.4 1960.6,1197.6 1962.2,1198.7 1963.8,1199.9 1965.4,1201.1 1967.0,1202.3 1968.6,1203.5 1970.2,1204.7 1971.9,1205.8 1973.5,1207.0 1975.1,1208.2 1976.7,1209.4 1978.3,1210.5 1980.0,1211.7 1981.6,1212.8 1983.2,1214.0 1984.9,1215.2 1986.5,1216.3 1988.1,1217.5 1989.8,1218.6 1991.4,1219.7 1993.1,1220.9 1994.7,1222.0 1996.3,1223.2 1998.0,1224.3 1999.6,1225.4 2001.3,1226.6 2003.0,1227.7 2004.6,1228.8 2006.3,1229.9 2007.9,1231.0 2009.6,1232.1 2011.2,1233.3 2012.9,1234.4 2014.6,1235.5 2016.3,1236.6 2017.9,1237.7 2019.6,1238.8 2021.3,1239.9 2022.9,1241.0 2024.6,1242.0 2026.3,1243.1 2028.0,1244.2 2029.7,1245.3 2031.4,1246.4 2033.0,1247.4 2034.7,1248.5 2036.4,1249.6 2038.1,1250.6 2039.8,1251.7 2041.5,1252.8 2043.2,1253.8 2044.9,1254.9 2046.6,1255.9 2048.3,1257.0 2050.0,1258.0 2051.7,1259.1 2053.4,1260.1 2055.2,1261.2 2056.9,1262.2 2058.6,1263.2 2060.3,1264.2 2062.0,1265.3 2063.7,1266.3 2065.5,1267.3 2067.2,1268.3 2068.9,1269.4 2070.6,1270.4 2072.4,1271.4 2074.1,1272.4 2075.8,1273.4 2077.6,1274.4 2079.3,1275.4 2081.0,1276.4 2082.8,1277.4 2084.5,1278.4 2086.3,1279.3 2088.0,1280.3 2089.8,1281.3 2091.5,1282.3 2093.2,1283.3 2095.0,1284.2 2096.8,1285.2 2098.5,1286.2 2100.3,1287.1 2102.0,1288.1 2103.8,1289.1 2105.5,1290.0 2107.3,1291.0 2109.1,1291.9 2110.8,1292.9 2112.6,1293.8 2114.4,1294.7 2116.1,1295.7 2117.9,1296.6 2119.7,1297.5 2121.4,1298.5 2123.2,1299.4 2125.0,1300.3 2126.8,1301.2 2128.6,1302.2 2130.3,1303.1 2132.1,1304.0 2133.9,1304.9 2135.7,1305.8 2137.5,1306.7 2139.3,1307.6 2141.1,1308.5 2142.9,1309.4 2144.7,1310.3 2146.5,1311.2 2148.2,1312.1 2150.0,1312.9 2151.8,1313.8 2153.6,1314.7 2155.4,1315.6 2157.3,1316.4 2159.1,1317.3 2160.9,1318.2 2162.7,1319.0 2164.5,1319.9 2166.3,1320.7 2168.1,1321.6 2169.9,1322.4 2171.7,1323.3 2173.6,1324.1 2175.4,1325.0 2177.2,1325.8 2179.0,1326.6 2180.8,1327.5 2182.7,1328.3 2184.5,1329.1 2186.3,1329.9 2188.1,1330.8 2190.0,1331.6 2191.8,1332.4 2193.6,1333.2 2195.5,1334.0 2197.3,1334.8 2199.1,1335.6 2201.0,1336.4 2202.8,1337.2 2204.6,1338.0 2206.5,1338.8 2208.3,1339.6 2210.2,1340.4 2212.0,1341.1 2213.9,1341.9 2215.7,1342.7 2217.6,1343.5 2219.4,1344.2 2221.3,1345.0 2223.1,1345.8 2225.0,1346.5 2226.8,1347.3 2228.7,1348.0 2230.5,1348.8 2232.4,1349.5 2234.3,1350.3 2236.1,1351.0 2238.0,1351.7 2239.8,1352.5 2241.7,1353.2 2243.6,1353.9 2245.4,1354.7 2247.3,1355.4 2249.2,1356.1 2251.0,1356.8 2252.9,1357.5 2254.8,1358.2 2256.7,1359.0 2258.5,1359.7 2260.4,1360.4 2262.3,1361.1 2264.2,1361.7 2266.0,1362.4 2267.9,1363.1 2269.8,1363.8 2271.7,1364.5 2273.6,1365.2 2275.4,1365.9 2277.3,1366.5 2279.2,1367.2 2281.1,1367.9 2283.0,1368.5 2284.9,1369.2 2286.8,1369.8 2288.7,1370.5 2290.6,1371.1 2292.4,1371.8 2294.3,1372.4 2296.2,1373.1 2298.1,1373.7 2300.0,1374.4 2301.9,1375.0 2303.8,1375.6 2305.7,1376.2 2307.6,1376.9 2309.5,1377.5 2311.4,1378.1 2313.3,1378.7 2315.2,1379.3 2317.2,1379.9 2319.1,1380.5 2321.0,1381.1 2322.9,1381.7 2324.8,1382.3 2326.7,1382.9 2328.6,1383.5 2330.5,1384.1 2332.4,1384.7 2334.3,1385.3 2336.3,1385.8 2338.2,1386.4 2340.1,1387.0 2342.0,1387.5 2343.9,1388.1 2345.8,1388.7 2347.8,1389.2 2349.7,1389.8 2351.6,1390.3 2353.5,1390.9 2355.5,1391.4 2357.4,1392.0 2359.3,1392.5 2361.2,1393.0 2363.2,1393.6 2365.1,1394.1 2367.0,1394.6 2368.9,1395.1 2370.9,1395.6 2372.8,1396.2 2374.7,1396.7 2376.7,1397.2 2378.6,1397.7 2380.5,1398.2 2382.5,1398.7 2384.4,1399.2 2386.3,1399.7 2388.3,1400.2 2390.2,1400.6 2392.2,1401.1 2394.1,1401.6 2396.0,1402.1 2398.0,1402.6 2399.9,1403.0 2401.9,1403.5 2403.8,1404.0 2405.7,1404.4 2407.7,1404.9 2409.6,1405.3 2411.6,1405.8 2413.5,1406.2 2415.5,1406.7 2417.4,1407.1 2419.4,1407.5 2421.3,1408.0 2423.3,1408.4 2424.0,1408.6" stroke="#ff0000" stroke-dasharray="47.5 63.8" stroke-dashoffset="1.5"/>
<polyline points="313.0,1491.5 314.9,1491.2 316.9,1490.8 318.9,1490.5 320.9,1490.1 322.8,1489.8 324.8,1489.5 326.8,1489.1 328.8,1488.7 330.7,1488.4 332.7,1488.0 334.7,1487.7 336.6,1487.3 338.6,1486.9 340.6,1486.6 342.5,1486.2 344.5,1485.8 346.5,1485.4 348.4,1485.0 350.4,1484.7 352.3,1484.3 354.3,1483.9 356.3,1483.5 358.2,1483.1 360.2,1482.7 362.2,1482.3 364.1,1481.9 366.1,1481.4 368.0,1481.0 370.0,1480.6 371.9,1480.2 373.9,1479.8 375.8,1479.3 377.8,1478.9 379.7,1478.5 381.7,1478.0 383.7,1477.6 385.6,1477.2 387.6,1476.7 389.5,1476.3 391.5,1475.8 393.4,1475.4 395.3,1474.9 397.3,1474.5 399.2,1474.0 401.2,1473.5 403.1,1473.1 405.1,1472.6 407.0,1472.1 409.0,1471.6 410.9,1471.2 412.8,1470.7 414.8,1470.2 416.7,1469.7 418.7,1469.2 420.6,1468.7 422.5,1468.2 424.5,1467.7 426.4,1467.2 428.3,1466.7 430.3,1466.2 432.2,1465.7 434.1,1465.2 436.1,1464.7 438.0,1464.2 439.9,1463.7 441.9,1463.2 443.8,1462.6 445.7,1462.1 447.7,1461.6 449.6,1461.0 451.5,1460.5 453.4,1460.0 455.4,1459.4 457.3,1458.9 459.2,1458.4 461.1,1457.8 463.1,1457.3 465.0,1456.7 466.9,1456.2 468.8,1455.6 470.7,1455.0 472.7,1454.5 474.6,1453.9 476.5,1453.3 478.4,1452.8 480.3,1452.2 482.2,1451.6 484.2,1451.1 486.1,1450.5 488.0,1449.9 489.9,1449.3 491.8,1448.7 493.7,1448.1 495.6,1447.6 497.5,1447.0 499.5,1446.4 501.4,1445.8 503.3,1445.2 505.2,1444.6 507.1,1444.0 509.0,1443.4 510.9,1442.8 512.8,1442.1 514.7,1441.5 516.6,1440.9 518.5,1440.3 520.4,1439.7 522.3,1439.1 524.2,1438.4 526.1,1437.8 528.0,1437.2 529.9,1436.6 531.8,1435.9 533.7,1435.3 535.6,1434.6 537.5,1434.0 539.4,1433.4 541.3,1432.7 543.2,1432.1 545.1,1431.4 547.0,1430.8 548.9,1430.1 550.8,1429.5 552.6,1428.8 554.5,1428.2 556.4,1427.5 558.3,1426.8 560.2,1426.2 562.1,1425.5 564.0,1424.9 565.9,1424.2 567.7,1423.5 569.6,1422.8 571.5,1422.2 573.4,1421.5 575.3,1420.8 577.1,1420.1 579.0,1419.4 580.9,1418.8 582.8,1418.1 584.7,1417.4 586.5,1416.7 588.4,1416.0 590.3,1415.3 592.2,1414.6 594.0,1413.9 595.9,1413.2 597.8,1412.5 599.7,1411.8 601.5,1411.1 603.4,1410.4 605.3,1409.7 607.2,1409.0 609.0,1408.3 610.9,1407.5 612.8,1406.8 614.6,1406.1 616.5,1405.4 618.4,1404.7 620.2,1404.0 622.1,1403.2 624.0,1402.5 625.8,1401.8 627.7,1401.0 629.5,1400.3 631.4,1399.6 633.3,1398.8 635.1,1398.1 637.0,1397.4 638.8,1396.6 640.7,1395.9 642.6,1395.2 644.4,1394.4 646.3,1393.7 648.1,1392.9 650.0,1392.2 651.8,1391.4 653.7,1390.7 655.5,1389.9 657.4,1389.2 659.2,1388.4 661.1,1387.6 662.9,1386.9 664.8,1386.1 666.6,1385.4 668.5,1384.6 670.3,1383.8 672.2,1383.1 674.0,1382.3 675.9,1381.5 677.7,1380.8 679.5,1380.0 681.4,1379.2 683.2,1378.4 685.1,1377.7 686.9,1376.9 688.7,1376.1 690.6,1375.3 692.4,1374.5 694.3,1373.7 696.1,1372.9 697.9,1372.2 699.8,1371.4 701.6,1370.6 703.4,1369.8 705.3,1369.0 707.1,1368.2 708.9,1367.4 710.8,1366.6 712.6,1365.7 714.4,1364.9 716.3,1364.1 718.1,1363.3 719.9,1362.5 721.7,1361.7 723.6,1360.8 725.4,1360.0 727.2,1359.2 729.0,1358.3 730.8,1357.5 732.6,1356.6 734.4,1355.7 736.2,1354.9 738.0,1354.0 739.8,1353.1 741.6,1352.2 743.4,1351.3 745.1,1350.4 746.9,1349.5 748.7,1348.6 750.4,1347.6 752.2,1346.7 753.9,1345.7 755.7,1344.7 757.4,1343.7 759.1,1342.8 760.9,1341.7 762.6,1340.7 764.3,1339.7 766.0,1338.6 767.7,1337.6 769.4,1336.5 771.0,1335.4 772.7,1334.3 774.4,1333.2 776.0,1332.1 777.7,1331.0 779.3,1329.8 781.0,1328.6 782.6,1327.5 784.2,1326.3 785.9,1325.1 787.5,1323.9 789.1,1322.7 790.7,1321.5 792.3,1320.2 793.8,1319.0 795.4,1317.7 797.0,1316.5 798.6,1315.2 800.1,1313.9 801.7,1312.6 803.2,1311.3 804.8,1310.0 806.3,1308.7 807.8,1307.4 809.4,1306.1 810.9,1304.8 812.4,1303.4 813.9,1302.1 815.4,1300.7 816.9,1299.4 818.4,1298.0 819.8,1296.7 821.3,1295.3 822.8,1293.9 824.3,1292.5 825.7,1291.2 827.2,1289.8 828.6,1288.4 830.0,1287.0 831.5,1285.6 832.9,1284.1 834.3,1282.7 835.7,1281.3 837.2,1279.9 838.6,1278.4 840.0,1277.0 841.4,1275.6 842.7,1274.1 844.1,1272.7 845.5,1271.2 846.9,1269.7 848.2,1268.3 849.6,1266.8 850.9,1265.3 852.3,1263.8 853.6,1262.3 855.0,1260.9 856.3,1259.4 857.6,1257.9 858.9,1256.3 860.3,1254.8 861.6,1253.3 862.9,1251.8 864.2,1250.3 865.5,1248.7 866.7,1247.2 868.0,1245.7 869.3,1244.1 870.6,1242.6 871.8,1241.0 873.1,1239.5 874.4,1237.9 875.6,1236.3 876.8,1234.8 878.1,1233.2 879.3,1231.6 880.5,1230.0 881.8,1228.5 883.0,1226.9 884.2,1225.3 885.4,1223.7 886.6,1222.1 887.8,1220.5 889.0,1218.9 890.2,1217.2 891.4,1215.6 892.5,1214.0 893.7,1212.4 894.9,1210.8 896.0,1209.1 897.2,1207.5 898.3,1205.8 899.5,1204.2 900.6,1202.6 901.7,1200.9 902.9,1199.3 904.0,1197.6 905.1,1195.9 906.2,1194.3 907.3,1192.6 908.4,1190.9 909.5,1189.3 910.6,1187.6 911.7,1185.9 912.8,1184.2 913.9,1182.5 914.9,1180.8 916.0,1179.1 917.1,1177.4 918.1,1175.7 919.2,1174.0 920.2,1172.3 921.3,1170.6 922.3,1168.9 923.3,1167.2 924.4,1165.5 925.4,1163.7 926.4,1162.0 927.4,1160.3 928.4,1158.6 929.4,1156.8 930.4,1155.1 931.4,1153.4 932.4,1151.6 933.4,1149.9 934.4,1148.1 935.3,1146.4 936.3,1144.6 937.3,1142.9 938.2,1141.1 939.2,1139.3 940.1,1137.6 941.1,1135.8 942.0,1134.0 942.9,1132.3 943.8,1130.5 944.8,1128.7 945.7,1126.9 946.6,1125.2 947.5,1123.4 948.4,1121.6 949.3,1119.8 950.2,1118.0 951.1,1116.2 952.0,1114.4 952.8,1112.6 953.7,1110.8 954.6,1109.0 955.5,1107.2 956.3,1105.4 957.2,1103.6 958.0,1101.8 958.9,1100.0 959.7,1098.2 960.5,1096.4 961.4,1094.6 962.2,1092.7 963.0,1090.9 963.9,1089.1 964.7,1087.3 965.5,1085.5 966.3,1083.6 967.1,1081.8 967.9,1080.0 968.7,1078.1 969.5,1076.3 970.3,1074.5 971.1,1072.6 971.9,1070.8 972.6,1068.9 973.4,1067.1 974.2,1065.3 975.0,1063.4 975.7,1061.6 976.5,1059.7 977.3,1057.9 978.0,1056.0 978.8,1054.2 979.5,1052.3 980.3,1050.5 981.0,1048.6 981.7,1046.7 982.5,1044.9 983.2,1043.0 983.9,1041.2 984.7,1039.3 985.4,1037.4 986.1,1035.6 986.9,1033.7 987.6,1031.8 988.3,1030.0 989.0,1028.1 989.7,1026.2 990.4,1024.4 991.1,1022.5 991.8,1020.6 992.5,1018.7 993.2,1016.9 993.9,1015.0 994.6,1013.1 995.3,1011.2 996.0,1009.4 996.7,1007.5 997.4,1005.6 998.1,1003.7 998.7,1001.8 999.4,1000.0 1000.1,998.1 1000.8,996.2 1001.5,994.3 1002.1,992.4 1002.8,990.5 1003.5,988.6 1004.1,986.8 1004.8,984.9 1005.5,983.0 1006.1,981.1 1006.8,979.2 1007.5,977.3 1008.1,975.4 1008.8,973.5 1009.4,971.7 1010.1,969.8 1010.8,967.9 1011.4,966.0 1012.1,964.1 1012.7,962.2 1013.4,960.3 1014.0,958.4 1014.7,956.5 1015.3,954.6 1016.0,952.7 1016.6,950.9 1017.3,949.0 1017.9,947.1 1018.5,945.2 1019.2,943.3 1019.8,941.4 1020.5,939.5 1021.1,937.6 1021.7,935.7 1022.4,933.8 1023.0,931.9 1023.6,930.0 1024.3,928.1 1024.9,926.2 1025.5,924.3 1026.1,922.4 1026.8,920.5 1027.4,918.6 1028.0,916.7 1028.6,914.8 1029.3,912.9 1029.9,911.0 1030.5,909.1 1031.1,907.2 1031.7,905.3 1032.3,903.4 1033.0,901.5 1033.6,899.6 1034.2,897.7 1034.8,895.8 1035.4,893.9 1036.0,892.0 1036.6,890.1 1037.2,888.2 1037.8,886.3 1038.4,884.4 1039.0,882.5 1039.6,880.6 1040.2,878.7 1040.8,876.8 1041.4,874.8 1042.0,872.9 1042.6,871.0 1043.2,869.1 1043.8,867.2 1044.4,865.3 1045.0,863.4 1045.6,861.5 1046.2,859.6 1046.8,857.7 1047.4,855.8 1047.9,853.9 1048.5,851.9 1049.1,850.0 1049.7,848.1 1050.3,846.2 1050.9,844.3 1051.4,842.4 1052.0,840.5 1052.6,838.6 1053.2,836.6 1053.7,834.7 1054.3,832.8 1054.9,830.9 1055.5,829.0 1056.0,827.1 1056.6,825.2 1057.2,823.3 1057.7,821.3 1058.3,819.4 1058.9,817.5 1059.4,815.6 1060.0,813.7 1060.6,811.8 1061.1,809.8 1061.7,807.9 1062.3,806.0 1062.8,804.1 1063.4,802.2 1063.9,800.2 1064.5,798.3 1065.0,796.4 1065.6,794.5 1066.1,792.6 1066.7,790.6 1067.2,788.7 1067.8,786.8 1068.3,784.9 1068.9,783.0 1069.4,781.0 1070.0,779.1 1070.5,777.2 1071.1,775.3 1071.6,773.4 1072.2,771.4 1072.7,769.5 1073.2,767.6 1073.8,765.7 1074.3,763.7 1074.8,761.8 1075.4,759.9 1075.9,758.0 1076.4,756.0 1077.0,754.1 1077.5,752.2 1078.0,750.3 1078.6,748.3 1079.1,746.4 1079.6,744.5 1080.2,742.5 1080.7,740.6 1081.2,738.7 1081.7,736.8 1082.3,734.8 1082.8,732.9 1083.3,731.0 1083.8,729.0 1084.3,727.1 1084.9,725.2 1085.4,723.3 1085.9,721.3 1086.4,719.4 1086.9,717.5 1087.4,715.5 1087.9,713.6 1088.5,711.7 1089.0,709.7 1089.5,707.8 1090.0,705.9 1090.5,703.9 1091.0,702.0 1091.5,700.1 1092.0,698.1 1092.5,696.2 1093.0,694.3 1093.5,692.3 1094.0,690.4 1094.5,688.5 1095.0,686.5 1095.5,684.6 1096.0,682.7 1096.5,680.7 1097.0,678.8 1097.5,676.9 1098.0,674.9 1098.5,673.0 1099.0,671.0 1099.5,669.1 1100.0,667.2 1100.5,665.2 1100.9,663.3 1101.4,661.3 1101.9,659.4 1102.4,657.5 1102.9,655.5 1103.4,653.6 1103.9,651.6 1104.4,649.7 1104.8,647.8 1105.3,645.8 1105.8,643.9 1106.3,641.9 1106.8,640.0 1107.2,638.1 1107.7,636.1 1108.2,634.2 1108.7,632.2 1109.1,630.3 1109.6,628.3 1110.1,626.4 1110.6,624.5 1111.0,622.5 1111.5,620.6 1112.0,618.6 1112.4,616.7 1112.9,614.7 1113.4,612.8 1113.8,610.8 1114.3,608.9 1114.8,607.0 1115.2,605.0 1115.7,603.1 1116.2,601.1 1116.6,599.2 1117.1,597.2 1117.5,595.3 1118.0,593.3 1118.5,591.4 1118.9,589.4 1119.4,587.5 1119.8,585.5 1120.3,583.6 1120.7,581.6 1121.2,579.7 1121.7,577.7 1122.1,575.8 1122.6,573.8 1123.0,571.9 1123.5,569.9 1123.9,568.0 1124.4,566.0 1124.8,564.1 1125.3,562.1 1125.7,560.2 1126.1,558.2 1126.6,556.3 1127.0,554.3 1127.5,552.4 1127.9,550.4 1128.4,548.5 1128.8,546.5 1129.2,544.6 1129.7,542.6 1130.1,540.7 1130.6,538.7 1131.0,536.7 1131.4,534.8 1131.9,532.8 1132.3,530.9 1132.7,528.9 1133.2,527.0 1133.6,525.0 1134.0,523.1 1134.5,521.1 1134.9,519.1 1135.3,517.2 1135.8,515.2 1136.2,513.3 1136.6,511.3 1137.1,509.4 1137.5,507.4 1137.9,505.4 1138.3,503.5 1138.8,501.5 1139.2,499.6 1139.6,497.6 1140.0,495.6 1140.4,493.7 1140.9,491.7 1141.3,489.8 1141.7,487.8 1142.1,485.8 1142.6,483.9 1143.0,481.9 1143.4,480.0 1143.8,478.0 1144.2,476.0 1144.6,474.1 1145.1,472.1 1145.5,470.2 1145.9,468.2 1146.3,466.2 1146.7,464.3 1147.1,462.3 1147.5,460.3 1147.9,458.4 1148.4,456.4 1148.8,454.5 1149.2,452.5 1149.6,450.5 1150.0,448.6 1150.4,446.6 1150.8,444.6 1151.2,442.7 1151.6,440.7 1152.0,438.7 1152.4,436.8 1152.8,434.8 1153.2,432.9 1153.6,430.9 1154.0,428.9 1154.4,427.0 1154.8,425.0 1155.3,423.0 1155.7,421.1 1156.1,419.1 1156.5,417.1 1156.9,415.2 1157.3,413.2 1157.7,411.2 1158.1,409.3 1158.5,407.3 1158.9,405.3 1159.3,403.4 1159.7,401.4 1160.1,399.5 1160.5,397.5 1161.0,395.5 1161.4,393.6 1161.8,391.6 1162.2,389.6 1162.6,387.7 1163.0,385.7 1163.5,383.8 1163.9,381.8 1164.3,379.8 1164.7,377.9 1165.1,375.9 1165.6,374.0 1166.0,372.0 1166.4,370.1 1166.9,368.1 1167.3,366.1 1167.7,364.2 1168.2,362.2 1168.6,360.3 1169.0,358.3 1169.5,356.4 1169.9,354.4 1170.4,352.5 1170.8,350.5 1171.3,348.6 1171.7,346.6 1172.2,344.7 1172.6,342.7 1173.1,340.8 1173.6,338.8 1174.0,336.9 1174.5,334.9 1175.0,333.0 1175.4,331.1 1175.9,329.1 1176.4,327.2 1176.9,325.2 1177.4,323.3 1177.9,321.4 1178.4,319.4 1178.9,317.5 1179.3,315.6 1179.9,313.6 1180.4,311.7 1180.9,309.8 1181.4,307.8 1181.9,305.9 1182.4,304.0 1182.9,302.1 1183.5,300.1 1184.0,298.2 1184.5,296.3 1185.1,294.4 1185.6,292.4 1186.2,290.5 1186.7,288.6 1187.3,286.7 1187.8,284.8 1188.4,282.9 1189.0,281.0 1189.5,279.0 1190.1,277.1 1190.7,275.2 1191.3,273.3 1191.9,271.4 1192.5,269.5 1193.1,267.6 1193.7,265.7 1194.3,263.8 1194.9,261.9 1195.5,260.0 1196.1,258.1 1196.8,256.2 1197.4,254.4 1198.0,252.5 1198.7,250.6 1199.3,248.7 1200.0,246.8 1200.6,244.9 1201.3,243.1 1202.0,241.2 1202.7,239.3 1203.3,237.4 1204.0,235.6 1204.7,233.7 1205.4,231.8 1206.1,230.0 1206.8,228.1 1207.6,226.2 1208.3,224.4 1209.0,222.5 1209.8,220.7 1210.5,218.8 1211.3,217.0 1212.1,215.2 1212.9,213.4 1213.8,211.6 1214.6,209.8 1215.5,208.0 1216.4,206.3 1217.4,204.6 1218.3,202.8 1219.3,201.1 1220.4,199.5 1221.4,197.8 1222.5,196.2 1223.7,194.6 1224.8,193.0 1226.1,191.5 1227.3,190.0 1228.6,188.5 1230.0,187.0 1231.4,185.6 1232.8,184.2 1234.3,182.8 1235.9,181.5 1237.5,180.2 1238.5,179.5" stroke="#0000ff" stroke-dasharray="47.5 63.8" stroke-dashoffset="16.1"/>
<polyline points="1238.5,179.5 1240.3,180.5 1242.0,181.6 1243.8,182.6 1245.5,183.7 1247.2,184.8 1248.9,185.9 1250.6,187.0 1252.2,188.1 1253.9,189.3 1255.5,190.4 1257.1,191.6 1258.8,192.8 1260.4,193.9 1261.9,195.1 1263.5,196.4 1265.1,197.6 1266.6,198.8 1268.2,200.1 1269.7,201.3 1271.2,202.6 1272.7,203.9 1274.2,205.2 1275.7,206.5 1277.1,207.8 1278.6,209.2 1280.0,210.5 1281.5,211.8 1282.9,213.2 1284.3,214.6 1285.7,216.0 1287.1,217.4 1288.5,218.8 1289.8,220.2 1291.2,221.6 1292.5,223.0 1293.9,224.5 1295.2,225.9 1296.5,227.4 1297.8,228.8 1299.1,230.3 1300.4,231.8 1301.7,233.3 1303.0,234.8 1304.2,236.3 1305.5,237.8 1306.7,239.4 1308.0,240.9 1309.2,242.4 1310.4,244.0 1311.6,245.5 1312.8,247.1 1314.0,248.7 1315.2,250.2 1316.4,251.8 1317.6,253.4 1318.7,255.0 1319.9,256.6 1321.1,258.2 1322.2,259.8 1323.3,261.5 1324.5,263.1 1325.6,264.7 1326.7,266.4 1327.8,268.0 1329.0,269.7 1330.1,271.3 1331.2,273.0 1332.3,274.6 1333.3,276.3 1334.4,278.0 1335.5,279.7 1336.6,281.3 1337.6,283.0 1338.7,284.7 1339.8,286.4 1340.8,288.1 1341.9,289.8 1342.9,291.5 1344.0,293.2 1345.0,294.9 1346.0,296.6 1347.1,298.4 1348.1,300.1 1349.1,301.8 1350.1,303.5 1351.2,305.2 1352.2,307.0 1353.2,308.7 1354.2,310.4 1355.2,312.2 1356.2,313.9 1357.2,315.7 1358.2,317.4 1359.2,319.1 1360.2,320.9 1361.2,322.6 1362.1,324.4 1363.1,326.2 1364.1,327.9 1365.1,329.7 1366.0,331.4 1367.0,333.2 1368.0,335.0 1369.0,336.7 1369.9,338.5 1370.9,340.3 1371.8,342.0 1372.8,343.8 1373.7,345.6 1374.7,347.4 1375.6,349.1 1376.6,350.9 1377.5,352.7 1378.5,354.5 1379.4,356.3 1380.4,358.1 1381.3,359.8 1382.2,361.6 1383.2,363.4 1384.1,365.2 1385.0,367.0 1385.9,368.8 1386.9,370.6 1387.8,372.4 1388.7,374.2 1389.6,376.0 1390.6,377.8 1391.5,379.6 1392.4,381.4 1393.3,383.2 1394.2,385.0 1395.1,386.8 1396.1,388.6 1397.0,390.4 1397.9,392.2 1398.8,394.0 1399.7,395.8 1400.6,397.6 1401.5,399.4 1402.4,401.2 1403.3,403.0 1404.2,404.8 1405.1,406.6 1406.0,408.4 1406.9,410.2 1407.9,412.0 1408.8,413.8 1409.7,415.6 1410.6,417.4 1411.5,419.2 1412.4,421.0 1413.3,422.8 1414.2,424.6 1415.1,426.4 1416.0,428.2 1416.9,430.0 1417.8,431.8 1418.7,433.6 1419.6,435.4 1420.5,437.2 1421.4,439.0 1422.3,440.8 1423.2,442.6 1424.1,444.4 1425.0,446.2 1425.9,448.0 1426.8,449.8 1427.7,451.6 1428.6,453.4 1429.5,455.2 1430.4,456.9 1431.3,458.7 1432.2,460.5 1433.1,462.3 1434.0,464.1 1434.9,465.9 1435.8,467.7 1436.7,469.5 1437.6,471.3 1438.5,473.1 1439.4,474.8 1440.3,476.6 1441.2,478.4 1442.1,480.2 1443.0,482.0 1443.9,483.8 1444.8,485.6 1445.7,487.3 1446.6,489.1 1447.5,490.9 1448.4,492.7 1449.3,494.5 1450.3,496.2 1451.2,498.0 1452.1,499.8 1453.0,501.6 1453.9,503.4 1454.8,505.1 1455.7,506.9 1456.6,508.7 1457.5,510.5 1458.4,512.3 1459.3,514.0 1460.2,515.8 1461.1,517.6 1462.1,519.4 1463.0,521.1 1463.9,522.9 1464.8,524.7 1465.7,526.5 1466.6,528.2 1467.5,530.0 1468.4,531.8 1469.3,533.5 1470.3,535.3 1471.2,537.1 1472.1,538.9 1473.0,540.6 1473.9,542.4 1474.8,544.2 1475.7,545.9 1476.7,547.7 1477.6,549.5 1478.5,551.2 1479.4,553.0 1480.3,554.8 1481.2,556.5 1482.2,558.3 1483.1,560.1 1484.0,561.8 1484.9,563.6 1485.8,565.4 1486.8,567.1 1487.7,568.9 1488.6,570.6 1489.5,572.4 1490.5,574.2 1491.4,575.9 1492.3,577.7 1493.2,579.5 1494.2,581.2 1495.1,583.0 1496.0,584.7 1496.9,586.5 1497.9,588.3 1498.8,590.0 1499.7,591.8 1500.7,593.5 1501.6,595.3 1502.5,597.0 1503.4,598.8 1504.4,600.6 1505.3,602.3 1506.2,604.1 1507.2,605.8 1508.1,607.6 1509.1,609.3 1510.0,611.1 1510.9,612.8 1511.9,614.6 1512.8,616.4 1513.7,618.1 1514.7,619.9 1515.6,621.6 1516.6,623.4 1517.5,625.1 1518.4,626.9 1519.4,628.6 1520.3,630.4 1521.3,632.1 1522.2,633.9 1523.2,635.6 1524.1,637.4 1525.1,639.1 1526.0,640.9 1527.0,642.6 1527.9,644.4 1528.9,646.1 1529.8,647.9 1530.8,649.6 1531.7,651.4 1532.7,653.1 1533.6,654.9 1534.6,656.6 1535.5,658.3 1536.5,660.1 1537.5,661.8 1538.4,663.6 1539.4,665.3 1540.3,667.1 1541.3,668.8 1542.3,670.6 1543.2,672.3 1544.2,674.1 1545.2,675.8 1546.1,677.5 1547.1,679.3 1548.1,681.0 1549.0,682.8 1550.0,684.5 1551.0,686.3 1551.9,688.0 1552.9,689.7 1553.9,691.5 1554.9,693.2 1555.8,695.0 1556.8,696.7 1557.8,698.4 1558.8,700.2 1559.8,701.9 1560.7,703.7 1561.7,705.4 1562.7,707.1 1563.7,708.9 1564.7,710.6 1565.7,712.4 1566.6,714.1 1567.6,715.8 1568.6,717.6 1569.6,719.3 1570.6,721.1 1571.6,722.8 1572.6,724.5 1573.6,726.3 1574.6,728.0 1575.6,729.7 1576.6,731.5 1577.6,733.2 1578.6,734.9 1579.6,736.7 1580.6,738.4 1581.6,740.1 1582.6,741.9 1583.6,743.6 1584.6,745.3 1585.6,747.1 1586.6,748.8 1587.6,750.5 1588.6,752.3 1589.7,754.0 1590.7,755.7 1591.7,757.5 1592.7,759.2 1593.7,760.9 1594.7,762.6 1595.8,764.4 1596.8,766.1 1597.8,767.8 1598.8,769.5 1599.9,771.3 1600.9,773.0 1601.9,774.7 1602.9,776.4 1604.0,778.2 1605.0,779.9 1606.0,781.6 1607.1,783.3 1608.1,785.0 1609.1,786.8 1610.2,788.5 1611.2,790.2 1612.3,791.9 1613.3,793.6 1614.4,795.3 1615.4,797.0 1616.4,798.8 1617.5,800.5 1618.5,802.2 1619.6,803.9 1620.6,805.6 1621.7,807.3 1622.8,809.0 1623.8,810.7 1624.9,812.4 1625.9,814.1 1627.0,815.9 1628.1,817.6 1629.1,819.3 1630.2,821.0 1631.2,822.7 1632.3,824.4 1633.4,826.1 1634.5,827.8 1635.5,829.5 1636.6,831.2 1637.7,832.9 1638.8,834.6 1639.8,836.2 1640.9,837.9 1642.0,839.6 1643.1,841.3 1644.2,843.0 1645.2,844.7 1646.3,846.4 1647.4,848.1 1648.5,849.8 1649.6,851.5 1650.7,853.1 1651.8,854.8 1652.9,856.5 1654.0,858.2 1655.1,859.9 1656.2,861.5 1657.3,863.2 1658.4,864.9 1659.5,866.6 1660.6,868.3 1661.7,869.9 1662.8,871.6 1663.9,873.3 1665.1,874.9 1666.2,876.6 1667.3,878.3 1668.4,879.9 1669.5,881.6 1670.7,883.3 1671.8,884.9 1672.9,886.6 1674.0,888.3 1675.2,889.9 1676.3,891.6 1677.4,893.2 1678.6,894.9 1679.7,896.5 1680.8,898.2 1682.0,899.8 1683.1,901.5 1684.3,903.1 1685.4,904.8 1686.6,906.4 1687.7,908.1 1688.9,909.7 1690.0,911.4 1691.2,913.0 1692.3,914.6 1693.5,916.3 1694.7,917.9 1695.8,919.5 1697.0,921.2 1698.1,922.8 1699.3,924.4 1700.5,926.1 1701.7,927.7 1702.8,929.3 1704.0,930.9 1705.2,932.6 1706.4,934.2 1707.5,935.8 1708.7,937.4 1709.9,939.0 1711.1,940.6 1712.3,942.3 1713.5,943.9 1714.7,945.5 1715.9,947.1 1717.1,948.7 1718.2,950.3 1719.4,951.9 1720.7,953.5 1721.9,955.1 1723.1,956.7 1724.3,958.3 1725.5,959.9 1726.7,961.5 1727.9,963.1 1729.1,964.7 1730.3,966.3 1731.6,967.8 1732.8,969.4 1734.0,971.0 1735.2,972.6 1736.5,974.2 1737.7,975.7 1738.9,977.3 1740.2,978.9 1741.4,980.5 1742.6,982.0 1743.9,983.6 1745.1,985.2 1746.4,986.7 1747.6,988.3 1748.9,989.9 1750.1,991.4 1751.4,993.0 1752.6,994.5 1753.9,996.1 1755.1,997.6 1756.4,999.2 1757.7,1000.7 1758.9,1002.3 1760.2,1003.8 1761.5,1005.4 1762.7,1006.9 1764.0,1008.4 1765.3,1010.0 1766.6,1011.5 1767.9,1013.0 1769.1,1014.6 1770.4,1016.1 1771.7,1017.6 1773.0,1019.1 1774.3,1020.7 1775.6,1022.2 1776.9,1023.7 1778.2,1025.2 1779.5,1026.7 1780.8,1028.2 1782.1,1029.8 1783.4,1031.3 1784.7,1032.8 1786.0,1034.3 1787.3,1035.8 1788.7,1037.3 1790.0,1038.8 1791.3,1040.3 1792.6,1041.7 1794.0,1043.2 1795.3,1044.7 1796.6,1046.2 1798.0,1047.7 1799.3,1049.2 1800.6,1050.6 1802.0,1052.1 1803.3,1053.6 1804.7,1055.1 1806.0,1056.5 1807.4,1058.0 1808.7,1059.5 1810.1,1060.9 1811.4,1062.4 1812.8,1063.8 1814.2,1065.3 1815.5,1066.8 1816.9,1068.2 1818.3,1069.7 1819.6,1071.1 1821.0,1072.5 1822.4,1074.0 1823.8,1075.4 1825.1,1076.9 1826.5,1078.3 1827.9,1079.7 1829.3,1081.1 1830.7,1082.6 1832.1,1084.0 1833.5,1085.4 1834.9,1086.8 1836.3,1088.3 1837.7,1089.7 1839.1,1091.1 1840.5,1092.5 1841.9,1093.9 1843.4,1095.3 1844.8,1096.7 1846.2,1098.1 1847.6,1099.5 1849.0,1100.9 1850.5,1102.3 1851.9,1103.7 1853.3,1105.0 1854.8,1106.4 1856.2,1107.8 1857.7,1109.2 1859.1,1110.6 1860.5,1111.9 1862.0,1113.3 1863.5,1114.7 1864.9,1116.0 1866.4,1117.4 1867.8,1118.8 1869.3,1120.1 1870.7,1121.5 1872.2,1122.8 1873.7,1124.2 1875.2,1125.5 1876.6,1126.8 1878.1,1128.2 1879.6,1129.5 1881.1,1130.9 1882.6,1132.2 1884.0,1133.5 1885.5,1134.9 1887.0,1136.2 1888.5,1137.5 1890.0,1138.8 1891.5,1140.1 1893.0,1141.4 1894.5,1142.8 1896.0,1144.1 1897.5,1145.4 1899.0,1146.7 1900.6,1148.0 1902.1,1149.3 1903.6,1150.6 1905.1,1151.9 1906.6,1153.2 1908.2,1154.4 1909.7,1155.7 1911.2,1157.0 1912.8,1158.3 1914.3,1159.6 1915.8,1160.8 1917.4,1162.1 1918.9,1163.4 1920.4,1164.6 1922.0,1165.9 1923.5,1167.2 1925.1,1168.4 1926.6,1169.7 1928.2,1170.9 1929.8,1172.2 1931.3,1173.4 1932.9,1174.7 1934.4,1175.9 1936.0,1177.2 1937.6,1178.4 1939.2,1179.6 1940.7,1180.9 1942.3,1182.1 1943.9,1183.3 1945.5,1184.5 1947.0,1185.8 1948.6,1187.0 1950.2,1188.2 1951.8,1189.4 1953.4,1190.6 1955.0,1191.8 1956.6,1193.0 1958.2,1194.2 1959.8,1195.4 1961.4,1196.6 1963.0,1197.8 1964.6,1199.0 1966.2,1200.2 1967.8,1201.4 1969.4,1202.5 1971.0,1203.7 1972.6,1204.9 1974.3,1206.1 1975.9,1207.2 1977.5,1208.4 1979.1,1209.6 1980.8,1210.7 1982.4,1211.9 1984.0,1213.1 1985.7,1214.2 1987.3,1215.4 1988.9,1216.5 1990.6,1217.7 1992.2,1218.8 1993.9,1219.9 1995.5,1221.1 1997.1,1222.2 1998.8,1223.3 2000.4,1224.5 2002.1,1225.6 2003.8,1226.7 2005.4,1227.8 2007.1,1229.0 2008.7,1230.1 2010.4,1231.2 2012.1,1232.3 2013.7,1233.4 2015.4,1234.5 2017.1,1235.6 2018.7,1236.7 2020.4,1237.8 2022.1,1238.9 2023.8,1240.0 2025.4,1241.1 2027.1,1242.2 2028.8,1243.2 2030.5,1244.3 2032.2,1245.4 2033.9,1246.5 2035.6,1247.5 2037.3,1248.6 2039.0,1249.7 2040.7,1250.7 2042.4,1251.8 2044.1,1252.9 2045.8,1253.9 2047.5,1255.0 2049.2,1256.0 2050.9,1257.1 2052.6,1258.1 2054.3,1259.1 2056.0,1260.2 2057.7,1261.2 2059.4,1262.2 2061.2,1263.3 2062.9,1264.3 2064.6,1265.3 2066.3,1266.3 2068.0,1267.4 2069.8,1268.4 2071.5,1269.4 2073.2,1270.4 2075.0,1271.4 2076.7,1272.4 2078.4,1273.4 2080.2,1274.4 2081.9,1275.4 2083.7,1276.4 2085.4,1277.4 2087.1,1278.4 2088.9,1279.3 2090.6,1280.3 2092.4,1281.3 2094.1,1282.3 2095.9,1283.2 2097.6,1284.2 2099.4,1285.2 2101.2,1286.1 2102.9,1287.1 2104.7,1288.0 2106.4,1289.0 2108.2,1290.0 2110.0,1290.9 2111.7,1291.8 2113.5,1292.8 2115.3,1293.7 2117.0,1294.7 2118.8,1295.6 2120.6,1296.5 2122.4,1297.5 2124.1,1298.4 2125.9,1299.3 2127.7,1300.2 2129.5,1301.1 2131.3,1302.1 2133.1,1303.0 2134.8,1303.9 2136.6,1304.8 2138.4,1305.7 2140.2,1306.6 2142.0,1307.5 2143.8,1308.4 2145.6,1309.3 2147.4,1310.1 2149.2,1311.0 2151.0,1311.9 2152.8,1312.8 2154.6,1313.7 2156.4,1314.5 2158.2,1315.4 2160.0,1316.3 2161.8,1317.1 2163.6,1318.0 2165.4,1318.8 2167.3,1319.7 2169.1,1320.6 2170.9,1321.4 2172.7,1322.2 2174.5,1323.1 2176.3,1323.9 2178.2,1324.8 2180.0,1325.6 2181.8,1326.4 2183.6,1327.3 2185.5,1328.1 2187.3,1328.9 2189.1,1329.7 2191.0,1330.5 2192.8,1331.4 2194.6,1332.2 2196.5,1333.0 2198.3,1333.8 2200.1,1334.6 2202.0,1335.4 2203.8,1336.2 2205.6,1337.0 2207.5,1337.8 2209.3,1338.5 2211.2,1339.3 2213.0,1340.1 2214.9,1340.9 2216.7,1341.7 2218.6,1342.4 2220.4,1343.2 2222.3,1344.0 2224.1,1344.7 2226.0,1345.5 2227.8,1346.2 2229.7,1347.0 2231.5,1347.7 2233.4,1348.5 2235.3,1349.2 2237.1,1350.0 2239.0,1350.7 2240.8,1351.5 2242.7,1352.2 2244.6,1352.9 2246.4,1353.6 2248.3,1354.4 2250.2,1355.1 2252.0,1355.8 2253.9,1356.5 2255.8,1357.2 2257.7,1357.9 2259.5,1358.6 2261.4,1359.3 2263.3,1360.0 2265.2,1360.7 2267.0,1361.4 2268.9,1362.1 2270.8,1362.8 2272.7,1363.5 2274.6,1364.2 2276.5,1364.8 2278.3,1365.5 2280.2,1366.2 2282.1,1366.9 2284.0,1367.5 2285.9,1368.2 2287.8,1368.9 2289.7,1369.5 2291.6,1370.2 2293.5,1370.8 2295.3,1371.5 2297.2,1372.1 2299.1,1372.7 2301.0,1373.4 2302.9,1374.0 2304.8,1374.6 2306.7,1375.3 2308.6,1375.9 2310.5,1376.5 2312.4,1377.1 2314.3,1377.8 2316.2,1378.4 2318.1,1379.0 2320.0,1379.6 2322.0,1380.2 2323.9,1380.8 2325.8,1381.4 2327.7,1382.0 2329.6,1382.6 2331.5,1383.2 2333.4,1383.8 2335.3,1384.3 2337.2,1384.9 2339.2,1385.5 2341.1,1386.1 2343.0,1386.6 2344.9,1387.2 2346.8,1387.8 2348.7,1388.3 2350.6,1388.9 2352.6,1389.4 2354.5,1390.0 2356.4,1390.5 2358.3,1391.1 2360.3,1391.6 2362.2,1392.2 2364.1,1392.7 2366.0,1393.2 2368.0,1393.8 2369.9,1394.3 2371.8,1394.8 2373.7,1395.3 2375.7,1395.8 2377.6,1396.4 2379.5,1396.9 2381.4,1397.4 2383.4,1397.9 2385.3,1398.4 2387.2,1398.9 2389.2,1399.4 2391.1,1399.9 2393.0,1400.3 2395.0,1400.8 2396.9,1401.3 2398.8,1401.8 2400.8,1402.3 2402.7,1402.7 2404.7,1403.2 2406.6,1403.7 2408.5,1404.1 2410.5,1404.6 2412.4,1405.1 2414.4,1405.5 2416.3,1406.0 2418.2,1406.4 2420.2,1406.9 2422.1,1407.3 2424.0,1407.7" stroke="#0000ff" stroke-dasharray="47.5 63.8" stroke-dashoffset="7.0"/>
<polyline points="313.0,1491.5 315.0,1491.2 316.9,1490.8 318.9,1490.5 320.9,1490.1 322.9,1489.8 324.8,1489.5 326.8,1489.1 328.8,1488.7 330.7,1488.4 332.7,1488.0 334.7,1487.7 336.6,1487.3 338.6,1486.9 340.6,1486.6 342.5,1486.2 344.5,1485.8 346.5,1485.4 348.4,1485.0 350.4,1484.7 352.3,1484.3 354.3,1483.9 356.3,1483.5 358.2,1483.1 360.2,1482.7 362.1,1482.3 364.1,1481.9 366.1,1481.4 368.0,1481.0 370.0,1480.6 371.9,1480.2 373.9,1479.8 375.8,1479.3 377.8,1478.9 379.7,1478.5 381.7,1478.0 383.6,1477.6 385.6,1477.2 387.5,1476.7 389.5,1476.3 391.4,1475.8 393.4,1475.4 395.3,1474.9 397.3,1474.5 399.2,1474.0 401.2,1473.5 403.1,1473.1 405.1,1472.6 407.0,1472.1 408.9,1471.6 410.9,1471.2 412.8,1470.7 414.8,1470.2 416.7,1469.7 418.6,1469.2 420.6,1468.7 422.5,1468.2 424.5,1467.7 426.4,1467.2 428.3,1466.7 430.3,1466.2 432.2,1465.7 434.1,1465.2 436.1,1464.7 438.0,1464.2 439.9,1463.7 441.9,1463.2 443.8,1462.6 445.7,1462.1 447.7,1461.6 449.6,1461.0 451.5,1460.5 453.4,1460.0 455.4,1459.4 457.3,1458.9 459.2,1458.3 461.1,1457.8 463.1,1457.3 465.0,1456.7 466.9,1456.1 468.8,1455.6 470.7,1455.0 472.7,1454.5 474.6,1453.9 476.5,1453.3 478.4,1452.8 480.3,1452.2 482.3,1451.6 484.2,1451.1 486.1,1450.5 488.0,1449.9 489.9,1449.3 491.8,1448.7 493.7,1448.1 495.6,1447.6 497.6,1447.0 499.5,1446.4 501.4,1445.8 503.3,1445.2 505.2,1444.6 507.1,1444.0 509.0,1443.4 510.9,1442.8 512.8,1442.1 514.7,1441.5 516.6,1440.9 518.5,1440.3 520.4,1439.7 522.3,1439.1 524.2,1438.4 526.1,1437.8 528.0,1437.2 529.9,1436.6 531.8,1435.9 533.7,1435.3 535.6,1434.7 537.5,1434.0 539.4,1433.4 541.3,1432.7 543.2,1432.1 545.1,1431.4 547.0,1430.8 548.9,1430.1 550.8,1429.5 552.6,1428.8 554.5,1428.2 556.4,1427.5 558.3,1426.9 560.2,1426.2 562.1,1425.5 564.0,1424.9 565.9,1424.2 567.7,1423.5 569.6,1422.8 571.5,1422.2 573.4,1421.5 575.3,1420.8 577.1,1420.1 579.0,1419.4 580.9,1418.8 582.8,1418.1 584.7,1417.4 586.5,1416.7 588.4,1416.0 590.3,1415.3 592.2,1414.6 594.0,1413.9 595.9,1413.2 597.8,1412.5 599.7,1411.8 601.5,1411.1 603.4,1410.4 605.3,1409.7 607.1,1409.0 609.0,1408.3 610.9,1407.6 612.7,1406.8 614.6,1406.1 616.5,1405.4 618.3,1404.7 620.2,1404.0 622.1,1403.2 623.9,1402.5 625.8,1401.8 627.7,1401.0 629.5,1400.3 631.4,1399.6 633.2,1398.8 635.1,1398.1 637.0,1397.4 638.8,1396.6 640.7,1395.9 642.5,1395.1 644.4,1394.4 646.2,1393.7 648.1,1392.9 650.0,1392.2 651.8,1391.4 653.7,1390.7 655.5,1389.9 657.4,1389.1 659.2,1388.4 661.1,1387.6 662.9,1386.9 664.8,1386.1 666.6,1385.3 668.5,1384.6 670.3,1383.8 672.2,1383.0 674.0,1382.3 675.9,1381.5 677.7,1380.7 679.5,1380.0 681.4,1379.2 683.2,1378.4 685.1,1377.6 686.9,1376.9 688.8,1376.1 690.6,1375.3 692.4,1374.5 694.3,1373.7 696.1,1372.9 697.9,1372.1 699.8,1371.3 701.6,1370.6 703.5,1369.8 705.3,1369.0 707.1,1368.2 709.0,1367.4 710.8,1366.6 712.6,1365.7 714.4,1364.9 716.3,1364.1 718.1,1363.3 719.9,1362.5 721.7,1361.7 723.6,1360.8 725.4,1360.0 727.2,1359.2 729.0,1358.3 730.8,1357.5 732.6,1356.7 734.5,1355.8 736.3,1355.0 738.1,1354.1 739.9,1353.3 741.7,1352.4 743.5,1351.5 745.3,1350.7 747.1,1349.8 748.9,1348.9 750.7,1348.0 752.5,1347.1 754.3,1346.3 756.1,1345.4 757.9,1344.5 759.6,1343.5 761.4,1342.6 763.2,1341.7 765.0,1340.8 766.7,1339.9 768.5,1338.9 770.3,1338.0 772.0,1337.0 773.8,1336.1 775.5,1335.1 777.3,1334.2 779.0,1333.2 780.8,1332.2 782.5,1331.2 784.2,1330.2 786.0,1329.2 787.7,1328.2 789.4,1327.2 791.1,1326.2 792.9,1325.1 794.6,1324.1 796.3,1323.1 798.0,1322.0 799.7,1321.0 801.3,1319.9 803.0,1318.8 804.7,1317.7 806.4,1316.7 808.1,1315.6 809.7,1314.5 811.4,1313.4 813.0,1312.2 814.7,1311.1 816.3,1310.0 818.0,1308.8 819.6,1307.7 821.2,1306.5 822.9,1305.4 824.5,1304.2 826.1,1303.0 827.7,1301.8 829.3,1300.7 830.9,1299.5 832.5,1298.3 834.1,1297.0 835.7,1295.8 837.3,1294.6 838.8,1293.4 840.4,1292.1 842.0,1290.9 843.5,1289.6 845.1,1288.3 846.6,1287.1 848.2,1285.8 849.7,1284.5 851.2,1283.2 852.8,1281.9 854.3,1280.6 855.8,1279.3 857.3,1278.0 858.8,1276.7 860.3,1275.4 861.8,1274.0 863.3,1272.7 864.8,1271.3 866.2,1270.0 867.7,1268.6 869.2,1267.3 870.6,1265.9 872.1,1264.5 873.5,1263.1 875.0,1261.7 876.4,1260.3 877.9,1258.9 879.3,1257.5 880.7,1256.1 882.1,1254.7 883.6,1253.3 885.0,1251.8 886.4,1250.4 887.8,1248.9 889.2,1247.5 890.5,1246.0 891.9,1244.6 893.3,1243.1 894.7,1241.7 896.0,1240.2 897.4,1238.7 898.8,1237.2 900.1,1235.7 901.5,1234.2 902.8,1232.7 904.1,1231.2 905.5,1229.7 906.8,1228.2 908.1,1226.7 909.4,1225.2 910.7,1223.6 912.0,1222.1 913.3,1220.6 914.6,1219.0 915.9,1217.5 917.2,1215.9 918.5,1214.4 919.8,1212.8 921.0,1211.2 922.3,1209.7 923.5,1208.1 924.8,1206.5 926.0,1204.9 927.3,1203.4 928.5,1201.8 929.7,1200.2 931.0,1198.6 932.2,1197.0 933.4,1195.4 934.6,1193.8 935.8,1192.1 937.0,1190.5 938.2,1188.9 939.4,1187.3 940.6,1185.6 941.8,1184.0 942.9,1182.4 944.1,1180.7 945.3,1179.1 946.4,1177.5 947.6,1175.8 948.7,1174.2 949.9,1172.5 951.0,1170.8 952.1,1169.2 953.3,1167.5 954.4,1165.9 955.5,1164.2 956.6,1162.5 957.7,1160.8 958.8,1159.2 959.9,1157.5 961.0,1155.8 962.1,1154.1 963.2,1152.4 964.2,1150.7 965.3,1149.0 966.4,1147.3 967.4,1145.6 968.5,1143.9 969.5,1142.2 970.6,1140.5 971.6,1138.8 972.6,1137.1 973.7,1135.4 974.7,1133.6 975.7,1131.9 976.7,1130.2 977.8,1128.5 978.8,1126.7 979.8,1125.0 980.8,1123.3 981.8,1121.5 982.8,1119.8 983.7,1118.1 984.7,1116.3 985.7,1114.6 986.7,1112.8 987.6,1111.1 988.6,1109.3 989.6,1107.6 990.5,1105.8 991.5,1104.1 992.4,1102.3 993.4,1100.5 994.3,1098.8 995.3,1097.0 996.2,1095.2 997.1,1093.5 998.0,1091.7 999.0,1089.9 999.9,1088.2 1000.8,1086.4 1001.7,1084.6 1002.6,1082.8 1003.5,1081.0 1004.4,1079.3 1005.3,1077.5 1006.2,1075.7 1007.1,1073.9 1008.0,1072.1 1008.9,1070.3 1009.7,1068.5 1010.6,1066.7 1011.5,1064.9 1012.4,1063.1 1013.2,1061.3 1014.1,1059.5 1015.0,1057.7 1015.8,1055.9 1016.7,1054.1 1017.5,1052.3 1018.4,1050.5 1019.2,1048.7 1020.1,1046.9 1020.9,1045.0 1021.7,1043.2 1022.6,1041.4 1023.4,1039.6 1024.2,1037.8 1025.1,1036.0 1025.9,1034.1 1026.7,1032.3 1027.5,1030.5 1028.3,1028.7 1029.2,1026.8 1030.0,1025.0 1030.8,1023.2 1031.6,1021.4 1032.4,1019.5 1033.2,1017.7 1034.0,1015.9 1034.8,1014.0 1035.6,1012.2 1036.4,1010.4 1037.2,1008.5 1038.0,1006.7 1038.7,1004.9 1039.5,1003.0 1040.3,1001.2 1041.1,999.3 1041.9,997.5 1042.6,995.7 1043.4,993.8 1044.2,992.0 1045.0,990.1 1045.7,988.3 1046.5,986.4 1047.3,984.6 1048.0,982.8 1048.8,980.9 1049.5,979.1 1050.3,977.2 1051.1,975.4 1051.8,973.5 1052.6,971.7 1053.3,969.8 1054.1,968.0 1054.8,966.1 1055.6,964.3 1056.3,962.4 1057.0,960.6 1057.8,958.7 1058.5,956.8 1059.3,955.0 1060.0,953.1 1060.7,951.3 1061.5,949.4 1062.2,947.6 1062.9,945.7 1063.6,943.8 1064.4,942.0 1065.1,940.1 1065.8,938.3 1066.5,936.4 1067.2,934.5 1068.0,932.7 1068.7,930.8 1069.4,928.9 1070.1,927.1 1070.8,925.2 1071.5,923.3 1072.2,921.5 1072.9,919.6 1073.6,917.7 1074.3,915.9 1075.0,914.0 1075.7,912.1 1076.4,910.2 1077.1,908.4 1077.8,906.5 1078.5,904.6 1079.2,902.8 1079.9,900.9 1080.6,899.0 1081.2,897.1 1081.9,895.3 1082.6,893.4 1083.3,891.5 1084.0,889.6 1084.6,887.7 1085.3,885.9 1086.0,884.0 1086.7,882.1 1087.3,880.2 1088.0,878.3 1088.7,876.5 1089.3,874.6 1090.0,872.7 1090.7,870.8 1091.3,868.9 1092.0,867.0 1092.6,865.2 1093.3,863.3 1094.0,861.4 1094.6,859.5 1095.3,857.6 1095.9,855.7 1096.6,853.8 1097.2,852.0 1097.9,850.1 1098.5,848.2 1099.2,846.3 1099.8,844.4 1100.4,842.5 1101.1,840.6 1101.7,838.7 1102.4,836.8 1103.0,834.9 1103.6,833.0 1104.3,831.1 1104.9,829.2 1105.5,827.4 1106.2,825.5 1106.8,823.6 1107.4,821.7 1108.1,819.8 1108.7,817.9 1109.3,816.0 1109.9,814.1 1110.5,812.2 1111.2,810.3 1111.8,808.4 1112.4,806.5 1113.0,804.6 1113.6,802.7 1114.3,800.8 1114.9,798.9 1115.5,797.0 1116.1,795.1 1116.7,793.2 1117.3,791.3 1117.9,789.4 1118.5,787.4 1119.1,785.5 1119.7,783.6 1120.3,781.7 1120.9,779.8 1121.5,777.9 1122.1,776.0 1122.7,774.1 1123.3,772.2 1123.9,770.3 1124.5,768.4 1125.1,766.5 1125.7,764.6 1126.3,762.6 1126.9,760.7 1127.5,758.8 1128.1,756.9 1128.7,755.0 1129.2,753.1 1129.8,751.2 1130.4,749.3 1131.0,747.4 1131.6,745.4 1132.2,743.5 1132.7,741.6 1133.3,739.7 1133.9,737.8 1134.5,735.9 1135.1,734.0 1135.6,732.0 1136.2,730.1 1136.8,728.2 1137.4,726.3 1137.9,724.4 1138.5,722.5 1139.1,720.5 1139.6,718.6 1140.2,716.7 1140.8,714.8 1141.3,712.9 1141.9,711.0 1142.5,709.0 1143.0,707.1 1143.6,705.2 1144.2,703.3 1144.7,701.4 1145.3,699.4 1145.8,697.5 1146.4,695.6 1147.0,693.7 1147.5,691.7 1148.1,689.8 1148.6,687.9 1149.2,686.0 1149.7,684.1 1150.3,682.1 1150.9,680.2 1151.4,678.3 1152.0,676.4 1152.5,674.4 1153.1,672.5 1153.6,670.6 1154.2,668.7 1154.7,666.7 1155.3,664.8 1155.8,662.9 1156.3,661.0 1156.9,659.0 1157.4,657.1 1158.0,655.2 1158.5,653.3 1159.1,651.3 1159.6,649.4 1160.2,647.5 1160.7,645.5 1161.2,643.6 1161.8,641.7 1162.3,639.8 1162.9,637.8 1163.4,635.9 1163.9,634.0 1164.5,632.0 1165.0,630.1 1165.5,628.2 1166.1,626.3 1166.6,624.3 1167.1,622.4 1167.7,620.5 1168.2,618.5 1168.7,616.6 1169.3,614.7 1169.8,612.7 1170.3,610.8 1170.9,608.9 1171.4,606.9 1171.9,605.0 1172.4,603.1 1173.0,601.2 1173.5,599.2 1174.0,597.3 1174.6,595.4 1175.1,593.4 1175.6,591.5 1176.1,589.6 1176.7,587.6 1177.2,585.7 1177.7,583.8 1178.2,581.8 1178.8,579.9 1179.3,578.0 1179.8,576.0 1180.3,574.1 1180.9,572.2 1181.4,570.2 1181.9,568.3 1182.4,566.4 1182.9,564.4 1183.5,562.5 1184.0,560.6 1184.5,558.6 1185.0,556.7 1185.5,554.8 1186.1,552.8 1186.6,550.9 1187.1,549.0 1187.6,547.0 1188.1,545.1 1188.6,543.2 1189.2,541.2 1189.7,539.3 1190.2,537.3 1190.7,535.4 1191.2,533.5 1191.8,531.5 1192.3,529.6 1192.8,527.7 1193.3,525.7 1193.8,523.8 1194.3,521.9 1194.8,519.9 1195.4,518.0 1195.9,516.1 1196.4,514.1 1196.9,512.2 1197.4,510.3 1197.9,508.3 1198.4,506.4 1199.0,504.5 1199.5,502.5 1200.0,500.6 1200.5,498.6 1201.0,496.7 1201.5,494.8 1202.0,492.8 1202.6,490.9 1203.1,489.0 1203.6,487.0 1204.1,485.1 1204.6,483.2 1205.1,481.2 1205.6,479.3 1206.2,477.4 1206.7,475.4 1207.2,473.5 1207.7,471.6 1208.2,469.6 1208.7,467.7 1209.2,465.8 1209.7,463.8 1210.3,461.9 1210.8,459.9 1211.3,458.0 1211.8,456.1 1212.3,454.1 1212.8,452.2 1213.3,450.3 1213.9,448.3 1214.4,446.4 1214.9,444.5 1215.4,442.5 1215.9,440.6 1216.4,438.7 1216.9,436.7 1217.5,434.8 1218.0,432.9 1218.5,430.9 1219.0,429.0 1219.5,427.1 1220.0,425.1 1220.6,423.2 1221.1,421.3 1221.6,419.3 1222.1,417.4 1222.6,415.5 1223.1,413.6 1223.7,411.6 1224.2,409.7 1224.7,407.8 1225.2,405.8 1225.7,403.9 1226.2,402.0 1226.8,400.0 1227.3,398.1 1227.8,396.2 1228.3,394.2 1228.8,392.3 1229.4,390.4 1229.9,388.4 1230.4,386.5 1230.9,384.6 1231.4,382.7 1232.0,380.7 1232.5,378.8 1233.0,376.9 1233.5,374.9 1234.1,373.0 1234.6,371.1 1235.1,369.2 1235.6,367.2 1236.2,365.3 1236.7,363.4 1237.2,361.4 1237.7,359.5 1238.3,357.6 1238.8,355.7 1239.3,353.7 1239.8,351.8 1240.4,349.9 1240.9,348.0 1241.4,346.0 1242.0,344.1 1242.5,342.2 1243.0,340.3 1243.6,338.3 1244.1,336.4 1244.6,334.5 1245.1,332.6 1245.7,330.6 1246.2,328.7 1246.8,326.8 1247.3,324.9 1247.8,323.0 1248.4,321.0 1248.9,319.1 1249.4,317.2 1250.0,315.3 1250.5,313.3 1251.0,311.4 1251.6,309.5 1252.1,307.6 1252.7,305.7 1253.2,303.7 1253.8,301.8 1254.3,299.9 1254.8,298.0 1255.4,296.1 1255.4,296.0" stroke="#000" stroke-dasharray="57 37.4 8 37.4" stroke-dashoffset="13.0"/>
<polyline points="1255.4,296.0 1256.8,294.6 1258.2,293.1 1259.6,291.7 1261.0,290.3 1262.4,288.9 1263.8,287.4 1265.2,286.0 1266.6,284.6 1268.0,283.1 1269.4,281.7 1270.8,280.3 1272.2,278.8 1273.6,277.4 1275.0,276.0 1276.4,274.6 1277.8,273.1 1279.2,271.7 1280.6,270.3 1282.0,268.8 1283.4,267.4 1284.8,266.0 1286.2,264.6 1287.6,263.1 1289.0,261.7 1290.4,260.3 1291.8,258.8 1293.2,257.4 1294.6,256.0 1296.0,254.6 1297.0,253.5" stroke="#000" stroke-dasharray="57 37.4 8 37.4" stroke-dashoffset="2.0"/>
<polyline points="1297.0,253.5 1298.6,254.7 1300.1,255.9 1301.6,257.2 1303.2,258.4 1304.7,259.7 1306.2,260.9 1307.7,262.2 1309.1,263.5 1310.6,264.8 1312.1,266.1 1313.5,267.4 1314.9,268.8 1316.4,270.1 1317.8,271.4 1319.2,272.8 1320.6,274.1 1322.0,275.5 1323.3,276.9 1324.7,278.3 1326.1,279.7 1327.4,281.1 1328.7,282.5 1330.1,283.9 1331.4,285.3 1332.7,286.8 1334.0,288.2 1335.3,289.7 1336.6,291.1 1337.8,292.6 1339.1,294.1 1340.4,295.6 1341.6,297.1 1342.8,298.6 1344.1,300.1 1345.3,301.6 1346.5,303.1 1347.7,304.7 1348.9,306.2 1350.1,307.7 1351.3,309.3 1352.5,310.8 1353.6,312.4 1354.8,314.0 1356.0,315.5 1357.1,317.1 1358.2,318.7 1359.4,320.3 1360.5,321.9 1361.6,323.5 1362.7,325.1 1363.8,326.8 1364.9,328.4 1366.0,330.0 1367.1,331.6 1368.2,333.3 1369.3,334.9 1370.4,336.6 1371.4,338.2 1372.5,339.9 1373.5,341.6 1374.6,343.2 1375.6,344.9 1376.7,346.6 1377.7,348.3 1378.7,350.0 1379.7,351.7 1380.8,353.4 1381.8,355.1 1382.8,356.8 1383.8,358.5 1384.8,360.2 1385.8,361.9 1386.8,363.6 1387.8,365.4 1388.7,367.1 1389.7,368.8 1390.7,370.6 1391.7,372.3 1392.6,374.1 1393.6,375.8 1394.6,377.6 1395.5,379.3 1396.5,381.1 1397.4,382.8 1398.4,384.6 1399.3,386.3 1400.3,388.1 1401.2,389.9 1402.1,391.6 1403.1,393.4 1404.0,395.2 1404.9,397.0 1405.9,398.8 1406.8,400.5 1407.7,402.3 1408.6,404.1 1409.6,405.9 1410.5,407.7 1411.4,409.5 1412.3,411.2 1413.2,413.0 1414.1,414.8 1415.1,416.6 1416.0,418.4 1416.9,420.2 1417.8,422.0 1418.7,423.8 1419.6,425.6 1420.5,427.4 1421.4,429.2 1422.3,431.0 1423.2,432.8 1424.1,434.6 1425.0,436.4 1426.0,438.2 1426.9,440.0 1427.8,441.8 1428.7,443.6 1429.6,445.3 1430.5,447.1 1431.4,448.9 1432.3,450.7 1433.2,452.5 1434.1,454.3 1435.0,456.1 1435.9,457.9 1436.9,459.7 1437.8,461.5 1438.7,463.3 1439.6,465.1 1440.5,466.9 1441.4,468.7 1442.3,470.5 1443.2,472.3 1444.1,474.0 1445.1,475.8 1446.0,477.6 1446.9,479.4 1447.8,481.2 1448.7,483.0 1449.6,484.8 1450.5,486.6 1451.4,488.4 1452.4,490.2 1453.3,492.0 1454.2,493.7 1455.1,495.5 1456.0,497.3 1456.9,499.1 1457.8,500.9 1458.7,502.7 1459.7,504.5 1460.6,506.3 1461.5,508.0 1462.4,509.8 1463.3,511.6 1464.2,513.4 1465.2,515.2 1466.1,517.0 1467.0,518.8 1467.9,520.5 1468.8,522.3 1469.7,524.1 1470.7,525.9 1471.6,527.7 1472.5,529.5 1473.4,531.3 1474.3,533.0 1475.2,534.8 1476.2,536.6 1477.1,538.4 1478.0,540.2 1478.9,541.9 1479.8,543.7 1480.8,545.5 1481.7,547.3 1482.6,549.1 1483.5,550.9 1484.4,552.6 1485.4,554.4 1486.3,556.2 1487.2,558.0 1488.1,559.7 1489.0,561.5 1490.0,563.3 1490.9,565.1 1491.8,566.9 1492.7,568.6 1493.6,570.4 1494.6,572.2 1495.5,574.0 1496.4,575.7 1497.3,577.5 1498.3,579.3 1499.2,581.1 1500.1,582.8 1501.0,584.6 1502.0,586.4 1502.9,588.2 1503.8,589.9 1504.7,591.7 1505.7,593.5 1506.6,595.3 1507.5,597.0 1508.4,598.8 1509.4,600.6 1510.3,602.3 1511.2,604.1 1512.1,605.9 1513.1,607.7 1514.0,609.4 1514.9,611.2 1515.9,613.0 1516.8,614.7 1517.7,616.5 1518.6,618.3 1519.6,620.0 1520.5,621.8 1521.4,623.6 1522.4,625.3 1523.3,627.1 1524.2,628.9 1525.2,630.6 1526.1,632.4 1527.0,634.2 1528.0,635.9 1528.9,637.7 1529.8,639.4 1530.8,641.2 1531.7,643.0 1532.7,644.7 1533.6,646.5 1534.5,648.2 1535.5,650.0 1536.4,651.8 1537.4,653.5 1538.3,655.3 1539.3,657.0 1540.2,658.8 1541.1,660.6 1542.1,662.3 1543.0,664.1 1544.0,665.8 1544.9,667.6 1545.9,669.3 1546.8,671.1 1547.8,672.8 1548.7,674.6 1549.7,676.3 1550.6,678.1 1551.6,679.8 1552.5,681.6 1553.5,683.4 1554.4,685.1 1555.4,686.8 1556.4,688.6 1557.3,690.3 1558.3,692.1 1559.2,693.8 1560.2,695.6 1561.2,697.3 1562.1,699.1 1563.1,700.8 1564.1,702.6 1565.0,704.3 1566.0,706.1 1567.0,707.8 1567.9,709.5 1568.9,711.3 1569.9,713.0 1570.8,714.8 1571.8,716.5 1572.8,718.2 1573.8,720.0 1574.7,721.7 1575.7,723.5 1576.7,725.2 1577.7,726.9 1578.7,728.7 1579.6,730.4 1580.6,732.1 1581.6,733.9 1582.6,735.6 1583.6,737.3 1584.6,739.1 1585.6,740.8 1586.6,742.5 1587.5,744.3 1588.5,746.0 1589.5,747.7 1590.5,749.4 1591.5,751.2 1592.5,752.9 1593.5,754.6 1594.5,756.3 1595.5,758.1 1596.5,759.8 1597.5,761.5 1598.5,763.2 1599.5,765.0 1600.6,766.7 1601.6,768.4 1602.6,770.1 1603.6,771.8 1604.6,773.6 1605.6,775.3 1606.6,777.0 1607.7,778.7 1608.7,780.4 1609.7,782.1 1610.7,783.9 1611.8,785.6 1612.8,787.3 1613.8,789.0 1614.8,790.7 1615.9,792.4 1616.9,794.1 1617.9,795.8 1619.0,797.5 1620.0,799.3 1621.0,801.0 1622.1,802.7 1623.1,804.4 1624.2,806.1 1625.2,807.8 1626.3,809.5 1627.3,811.2 1628.4,812.9 1629.4,814.6 1630.5,816.3 1631.5,818.0 1632.6,819.7 1633.6,821.4 1634.7,823.1 1635.8,824.8 1636.8,826.5 1637.9,828.2 1639.0,829.9 1640.0,831.5 1641.1,833.2 1642.2,834.9 1643.3,836.6 1644.3,838.3 1645.4,840.0 1646.5,841.7 1647.6,843.4 1648.7,845.1 1649.7,846.7 1650.8,848.4 1651.9,850.1 1653.0,851.8 1654.1,853.5 1655.2,855.1 1656.3,856.8 1657.4,858.5 1658.5,860.2 1659.6,861.8 1660.7,863.5 1661.8,865.2 1662.9,866.9 1664.0,868.5 1665.1,870.2 1666.2,871.9 1667.3,873.5 1668.5,875.2 1669.6,876.9 1670.7,878.5 1671.8,880.2 1672.9,881.9 1674.1,883.5 1675.2,885.2 1676.3,886.8 1677.5,888.5 1678.6,890.1 1679.7,891.8 1680.9,893.5 1682.0,895.1 1683.1,896.8 1684.3,898.4 1685.4,900.1 1686.6,901.7 1687.7,903.3 1688.9,905.0 1690.0,906.6 1691.2,908.3 1692.3,909.9 1693.5,911.6 1694.6,913.2 1695.8,914.8 1697.0,916.5 1698.1,918.1 1699.3,919.7 1700.5,921.4 1701.6,923.0 1702.8,924.6 1704.0,926.2 1705.2,927.9 1706.3,929.5 1707.5,931.1 1708.7,932.7 1709.9,934.3 1711.1,936.0 1712.3,937.6 1713.5,939.2 1714.6,940.8 1715.8,942.4 1717.0,944.0 1718.2,945.6 1719.4,947.2 1720.6,948.9 1721.8,950.5 1723.1,952.1 1724.3,953.7 1725.5,955.3 1726.7,956.9 1727.9,958.4 1729.1,960.0 1730.3,961.6 1731.6,963.2 1732.8,964.8 1734.0,966.4 1735.2,968.0 1736.5,969.6 1737.7,971.2 1738.9,972.7 1740.2,974.3 1741.4,975.9 1742.6,977.5 1743.9,979.0 1745.1,980.6 1746.4,982.2 1747.6,983.8 1748.9,985.3 1750.1,986.9 1751.4,988.4 1752.6,990.0 1753.9,991.6 1755.1,993.1 1756.4,994.7 1757.7,996.2 1758.9,997.8 1760.2,999.3 1761.5,1000.9 1762.7,1002.4 1764.0,1004.0 1765.3,1005.5 1766.6,1007.1 1767.9,1008.6 1769.1,1010.1 1770.4,1011.7 1771.7,1013.2 1773.0,1014.7 1774.3,1016.3 1775.6,1017.8 1776.9,1019.3 1778.2,1020.8 1779.5,1022.4 1780.8,1023.9 1782.1,1025.4 1783.4,1026.9 1784.7,1028.4 1786.0,1029.9 1787.3,1031.4 1788.7,1032.9 1790.0,1034.5 1791.3,1036.0 1792.6,1037.5 1793.9,1039.0 1795.3,1040.4 1796.6,1041.9 1797.9,1043.4 1799.3,1044.9 1800.6,1046.4 1801.9,1047.9 1803.3,1049.4 1804.6,1050.9 1806.0,1052.3 1807.3,1053.8 1808.7,1055.3 1810.0,1056.8 1811.4,1058.2 1812.7,1059.7 1814.1,1061.2 1815.5,1062.6 1816.8,1064.1 1818.2,1065.5 1819.6,1067.0 1820.9,1068.5 1822.3,1069.9 1823.7,1071.4 1825.0,1072.8 1826.4,1074.2 1827.8,1075.7 1829.2,1077.1 1830.6,1078.6 1832.0,1080.0 1833.4,1081.4 1834.8,1082.9 1836.2,1084.3 1837.6,1085.7 1839.0,1087.1 1840.4,1088.6 1841.8,1090.0 1843.2,1091.4 1844.6,1092.8 1846.0,1094.2 1847.4,1095.6 1848.8,1097.0 1850.2,1098.4 1851.7,1099.8 1853.1,1101.2 1854.5,1102.6 1855.9,1104.0 1857.4,1105.4 1858.8,1106.8 1860.3,1108.2 1861.7,1109.6 1863.1,1110.9 1864.6,1112.3 1866.0,1113.7 1867.5,1115.1 1868.9,1116.4 1870.4,1117.8 1871.8,1119.2 1873.3,1120.5 1874.8,1121.9 1876.2,1123.2 1877.7,1124.6 1879.2,1125.9 1880.6,1127.3 1882.1,1128.6 1883.6,1130.0 1885.1,1131.3 1886.5,1132.7 1888.0,1134.0 1889.5,1135.3 1891.0,1136.7 1892.5,1138.0 1894.0,1139.3 1895.5,1140.6 1897.0,1141.9 1898.5,1143.3 1900.0,1144.6 1901.5,1145.9 1903.0,1147.2 1904.5,1148.5 1906.0,1149.8 1907.5,1151.1 1909.0,1152.4 1910.6,1153.7 1912.1,1155.0 1913.6,1156.2 1915.1,1157.5 1916.7,1158.8 1918.2,1160.1 1919.7,1161.4 1921.3,1162.6 1922.8,1163.9 1924.4,1165.2 1925.9,1166.4 1927.5,1167.7 1929.0,1169.0 1930.6,1170.2 1932.1,1171.5 1933.7,1172.7 1935.2,1174.0 1936.8,1175.2 1938.3,1176.4 1939.9,1177.7 1941.5,1178.9 1943.0,1180.2 1944.6,1181.4 1946.2,1182.6 1947.8,1183.8 1949.4,1185.1 1950.9,1186.3 1952.5,1187.5 1954.1,1188.7 1955.7,1189.9 1957.3,1191.1 1958.9,1192.3 1960.5,1193.5 1962.1,1194.7 1963.7,1195.9 1965.3,1197.1 1966.9,1198.3 1968.5,1199.5 1970.1,1200.7 1971.7,1201.9 1973.3,1203.0 1974.9,1204.2 1976.5,1205.4 1978.2,1206.6 1979.8,1207.7 1981.4,1208.9 1983.0,1210.1 1984.6,1211.2 1986.3,1212.4 1987.9,1213.5 1989.5,1214.7 1991.2,1215.8 1992.8,1217.0 1994.5,1218.1 1996.1,1219.2 1997.7,1220.4 1999.4,1221.5 2001.0,1222.6 2002.7,1223.8 2004.3,1224.9 2006.0,1226.0 2007.6,1227.1 2009.3,1228.3 2011.0,1229.4 2012.6,1230.5 2014.3,1231.6 2016.0,1232.7 2017.6,1233.8 2019.3,1234.9 2021.0,1236.0 2022.6,1237.1 2024.3,1238.2 2026.0,1239.3 2027.7,1240.3 2029.4,1241.4 2031.0,1242.5 2032.7,1243.6 2034.4,1244.7 2036.1,1245.7 2037.8,1246.8 2039.5,1247.9 2041.2,1248.9 2042.9,1250.0 2044.6,1251.0 2046.3,1252.1 2048.0,1253.1 2049.7,1254.2 2051.4,1255.2 2053.1,1256.3 2054.8,1257.3 2056.5,1258.4 2058.2,1259.4 2059.9,1260.4 2061.7,1261.4 2063.4,1262.5 2065.1,1263.5 2066.8,1264.5 2068.5,1265.5 2070.3,1266.5 2072.0,1267.6 2073.7,1268.6 2075.5,1269.6 2077.2,1270.6 2078.9,1271.6 2080.7,1272.6 2082.4,1273.6 2084.1,1274.5 2085.9,1275.5 2087.6,1276.5 2089.4,1277.5 2091.1,1278.5 2092.9,1279.5 2094.6,1280.4 2096.4,1281.4 2098.1,1282.4 2099.9,1283.3 2101.6,1284.3 2103.4,1285.2 2105.2,1286.2 2106.9,1287.2 2108.7,1288.1 2110.4,1289.0 2112.2,1290.0 2114.0,1290.9 2115.7,1291.9 2117.5,1292.8 2119.3,1293.7 2121.1,1294.7 2122.8,1295.6 2124.6,1296.5 2126.4,1297.4 2128.2,1298.4 2130.0,1299.3 2131.7,1300.2 2133.5,1301.1 2135.3,1302.0 2137.1,1302.9 2138.9,1303.8 2140.7,1304.7 2142.5,1305.6 2144.3,1306.5 2146.1,1307.4 2147.9,1308.3 2149.7,1309.1 2151.5,1310.0 2153.3,1310.9 2155.1,1311.8 2156.9,1312.7 2158.7,1313.5 2160.5,1314.4 2162.3,1315.2 2164.1,1316.1 2165.9,1317.0 2167.7,1317.8 2169.5,1318.7 2171.3,1319.5 2173.2,1320.4 2175.0,1321.2 2176.8,1322.0 2178.6,1322.9 2180.4,1323.7 2182.3,1324.5 2184.1,1325.4 2185.9,1326.2 2187.7,1327.0 2189.6,1327.8 2191.4,1328.7 2193.2,1329.5 2195.1,1330.3 2196.9,1331.1 2198.7,1331.9 2200.6,1332.7 2202.4,1333.5 2204.3,1334.3 2206.1,1335.1 2207.9,1335.9 2209.8,1336.7 2211.6,1337.4 2213.5,1338.2 2215.3,1339.0 2217.2,1339.8 2219.0,1340.5 2220.9,1341.3 2222.7,1342.1 2224.6,1342.8 2226.4,1343.6 2228.3,1344.4 2230.1,1345.1 2232.0,1345.9 2233.8,1346.6 2235.7,1347.4 2237.6,1348.1 2239.4,1348.8 2241.3,1349.6 2243.2,1350.3 2245.0,1351.0 2246.9,1351.8 2248.8,1352.5 2250.6,1353.2 2252.5,1353.9 2254.4,1354.7 2256.2,1355.4 2258.1,1356.1 2260.0,1356.8 2261.9,1357.5 2263.7,1358.2 2265.6,1358.9 2267.5,1359.6 2269.4,1360.3 2271.2,1361.0 2273.1,1361.7 2275.0,1362.3 2276.9,1363.0 2278.8,1363.7 2280.7,1364.4 2282.6,1365.0 2284.4,1365.7 2286.3,1366.4 2288.2,1367.0 2290.1,1367.7 2292.0,1368.4 2293.9,1369.0 2295.8,1369.7 2297.7,1370.3 2299.6,1371.0 2301.5,1371.6 2303.4,1372.2 2305.3,1372.9 2307.2,1373.5 2309.1,1374.1 2311.0,1374.8 2312.9,1375.4 2314.8,1376.0 2316.7,1376.6 2318.6,1377.3 2320.5,1377.9 2322.4,1378.5 2324.3,1379.1 2326.2,1379.7 2328.1,1380.3 2330.0,1380.9 2331.9,1381.5 2333.8,1382.1 2335.7,1382.7 2337.6,1383.2 2339.6,1383.8 2341.5,1384.4 2343.4,1385.0 2345.3,1385.6 2347.2,1386.1 2349.1,1386.7 2351.0,1387.3 2353.0,1387.8 2354.9,1388.4 2356.8,1388.9 2358.7,1389.5 2360.6,1390.0 2362.6,1390.6 2364.5,1391.1 2366.4,1391.7 2368.3,1392.2 2370.2,1392.8 2372.2,1393.3 2374.1,1393.8 2376.0,1394.3 2377.9,1394.9 2379.9,1395.4 2381.8,1395.9 2383.7,1396.4 2385.7,1396.9 2387.6,1397.4 2389.5,1397.9 2391.4,1398.4 2393.4,1398.9 2395.3,1399.4 2397.2,1399.9 2399.2,1400.4 2401.1,1400.9 2403.0,1401.4 2405.0,1401.9 2406.9,1402.4 2408.8,1402.8 2410.8,1403.3 2412.7,1403.8 2414.7,1404.2 2416.6,1404.7 2418.5,1405.2 2420.5,1405.6 2420.6,1405.7" stroke="#000" stroke-dasharray="57 37.4 8 37.4" stroke-dashoffset="61.5"/>
<polyline points="313.0,1491.5 315.0,1491.2 317.0,1490.8 319.0,1490.5 321.0,1490.1 322.9,1489.8 324.9,1489.4 326.9,1489.1 328.9,1488.7 330.9,1488.4 332.9,1488.0 334.8,1487.6 336.8,1487.3 338.8,1486.9 340.8,1486.5 342.7,1486.1 344.7,1485.8 346.7,1485.4 348.7,1485.0 350.6,1484.6 352.6,1484.2 354.6,1483.8 356.5,1483.4 358.5,1483.0 360.5,1482.6 362.4,1482.2 364.4,1481.8 366.4,1481.4 368.3,1481.0 370.3,1480.5 372.2,1480.1 374.2,1479.7 376.2,1479.3 378.1,1478.8 380.1,1478.4 382.0,1478.0 384.0,1477.5 385.9,1477.1 387.9,1476.6 389.8,1476.2 391.8,1475.7 393.7,1475.3 395.7,1474.8 397.6,1474.4 399.6,1473.9 401.5,1473.4 403.4,1473.0 405.4,1472.5 407.3,1472.0 409.3,1471.6 411.2,1471.1 413.1,1470.6 415.1,1470.1 417.0,1469.6 419.0,1469.2 420.9,1468.7 422.8,1468.2 424.8,1467.7 426.7,1467.2 428.6,1466.7 430.5,1466.2 432.5,1465.7 434.4,1465.2 436.3,1464.6 438.3,1464.1 440.2,1463.6 442.1,1463.1 444.0,1462.6 446.0,1462.0 447.9,1461.5 449.8,1461.0 451.7,1460.5 453.6,1459.9 455.6,1459.4 457.5,1458.9 459.4,1458.3 461.3,1457.8 463.2,1457.2 465.1,1456.7 467.1,1456.1 469.0,1455.6 470.9,1455.0 472.8,1454.4 474.7,1453.9 476.6,1453.3 478.5,1452.8 480.4,1452.2 482.3,1451.6 484.2,1451.0 486.1,1450.5 488.1,1449.9 490.0,1449.3 491.9,1448.7 493.8,1448.1 495.7,1447.6 497.6,1447.0 499.5,1446.4 501.4,1445.8 503.3,1445.2 505.2,1444.6 507.1,1444.0 509.0,1443.4 510.9,1442.8 512.8,1442.2 514.7,1441.6 516.6,1440.9 518.4,1440.3 520.3,1439.7 522.2,1439.1 524.1,1438.5 526.0,1437.9 527.9,1437.2 529.8,1436.6 531.7,1436.0 533.6,1435.3 535.5,1434.7 537.4,1434.1 539.2,1433.4 541.1,1432.8 543.0,1432.1 544.9,1431.5 546.8,1430.9 548.7,1430.2 550.6,1429.5 552.4,1428.9 554.3,1428.2 556.2,1427.6 558.1,1426.9 560.0,1426.3 561.8,1425.6 563.7,1424.9 565.6,1424.3 567.5,1423.6 569.4,1422.9 571.2,1422.3 573.1,1421.6 575.0,1420.9 576.9,1420.2 578.8,1419.5 580.6,1418.9 582.5,1418.2 584.4,1417.5 586.3,1416.8 588.1,1416.1 590.0,1415.4 591.9,1414.7 593.7,1414.0 595.6,1413.3 597.5,1412.6 599.4,1411.9 601.2,1411.2 603.1,1410.5 605.0,1409.8 606.8,1409.1 608.7,1408.4 610.6,1407.7 612.4,1406.9 614.3,1406.2 616.2,1405.5 618.1,1404.8 619.9,1404.1 621.8,1403.3 623.7,1402.6 625.5,1401.9 627.4,1401.1 629.2,1400.4 631.1,1399.7 633.0,1398.9 634.8,1398.2 636.7,1397.5 638.6,1396.7 640.4,1396.0 642.3,1395.2 644.2,1394.5 646.0,1393.8 647.9,1393.0 649.7,1392.3 651.6,1391.5 653.5,1390.7 655.3,1390.0 657.2,1389.2 659.0,1388.5 660.9,1387.7 662.8,1387.0 664.6,1386.2 666.5,1385.4 668.3,1384.7 670.2,1383.9 672.1,1383.1 673.9,1382.3 675.8,1381.6 677.6,1380.8 679.5,1380.0 681.3,1379.2 683.2,1378.5 685.1,1377.7 686.9,1376.9 688.8,1376.1 690.6,1375.3 692.5,1374.5 694.3,1373.7 696.2,1372.9 698.0,1372.1 699.9,1371.3 701.7,1370.5 703.6,1369.7 705.4,1368.9 707.2,1368.1 709.1,1367.3 710.9,1366.5 712.8,1365.7 714.6,1364.8 716.4,1364.0 718.3,1363.2 720.1,1362.4 722.0,1361.5 723.8,1360.7 725.6,1359.9 727.4,1359.0 729.3,1358.2 731.1,1357.3 732.9,1356.5 734.8,1355.6 736.6,1354.8 738.4,1353.9 740.2,1353.1 742.0,1352.2 743.8,1351.3 745.7,1350.5 747.5,1349.6 749.3,1348.7 751.1,1347.8 752.9,1347.0 754.7,1346.1 756.5,1345.2 758.3,1344.3 760.1,1343.4 761.9,1342.5 763.7,1341.6 765.5,1340.7 767.3,1339.8 769.1,1338.9 770.8,1337.9 772.6,1337.0 774.4,1336.1 776.2,1335.2 777.9,1334.2 779.7,1333.3 781.5,1332.3 783.3,1331.4 785.0,1330.5 786.8,1329.5 788.5,1328.5 790.3,1327.6 792.1,1326.6 793.8,1325.6 795.6,1324.7 797.3,1323.7 799.0,1322.7 800.8,1321.7 802.5,1320.7 804.2,1319.7 806.0,1318.7 807.7,1317.7 809.4,1316.7 811.2,1315.7 812.9,1314.7 814.6,1313.7 816.3,1312.6 818.0,1311.6 819.7,1310.6 821.4,1309.5 823.1,1308.5 824.8,1307.4 826.5,1306.4 828.2,1305.3 829.9,1304.2 831.5,1303.2 833.2,1302.1 834.9,1301.0 836.6,1299.9 838.2,1298.8 839.9,1297.7 841.6,1296.6 843.2,1295.5 844.9,1294.4 846.5,1293.3 848.1,1292.2 849.8,1291.0 851.4,1289.9 853.1,1288.8 854.7,1287.6 856.3,1286.5 857.9,1285.3 859.5,1284.1 861.1,1283.0 862.7,1281.8 864.3,1280.6 865.9,1279.4 867.5,1278.2 869.1,1277.0 870.7,1275.8 872.3,1274.6 873.9,1273.4 875.4,1272.2 877.0,1271.0 878.6,1269.7 880.1,1268.5 881.7,1267.3 883.2,1266.0 884.8,1264.8 886.3,1263.5 887.8,1262.2 889.4,1261.0 890.9,1259.7 892.4,1258.4 893.9,1257.1 895.4,1255.8 896.9,1254.5 898.4,1253.2 899.9,1251.9 901.4,1250.6 902.9,1249.2 904.4,1247.9 905.9,1246.6 907.4,1245.2 908.8,1243.9 910.3,1242.6 911.7,1241.2 913.2,1239.8 914.7,1238.5 916.1,1237.1 917.5,1235.7 919.0,1234.3 920.4,1233.0 921.8,1231.6 923.3,1230.2 924.7,1228.8 926.1,1227.4 927.5,1226.0 928.9,1224.5 930.3,1223.1 931.7,1221.7 933.1,1220.3 934.4,1218.8 935.8,1217.4 937.2,1215.9 938.6,1214.5 939.9,1213.0 941.3,1211.6 942.6,1210.1 944.0,1208.6 945.3,1207.2 946.7,1205.7 948.0,1204.2 949.3,1202.7 950.6,1201.2 952.0,1199.7 953.3,1198.2 954.6,1196.7 955.9,1195.2 957.2,1193.7 958.5,1192.2 959.8,1190.6 961.0,1189.1 962.3,1187.6 963.6,1186.0 964.8,1184.5 966.1,1183.0 967.4,1181.4 968.6,1179.8 969.9,1178.3 971.1,1176.7 972.3,1175.2 973.6,1173.6 974.8,1172.0 976.0,1170.4 977.2,1168.9 978.4,1167.3 979.6,1165.7 980.8,1164.1 982.0,1162.5 983.2,1160.9 984.4,1159.3 985.6,1157.7 986.7,1156.0 987.9,1154.4 989.1,1152.8 990.2,1151.2 991.4,1149.5 992.5,1147.9 993.7,1146.3 994.8,1144.6 995.9,1143.0 997.1,1141.3 998.2,1139.7 999.3,1138.0 1000.4,1136.4 1001.5,1134.7 1002.6,1133.1 1003.7,1131.4 1004.8,1129.7 1005.8,1128.0 1006.9,1126.4 1008.0,1124.7 1009.1,1123.0 1010.1,1121.3 1011.2,1119.6 1012.2,1117.9 1013.3,1116.2 1014.3,1114.5 1015.4,1112.8 1016.4,1111.1 1017.4,1109.4 1018.4,1107.7 1019.5,1106.0 1020.5,1104.2 1021.5,1102.5 1022.5,1100.8 1023.5,1099.1 1024.5,1097.3 1025.5,1095.6 1026.5,1093.9 1027.5,1092.1 1028.4,1090.4 1029.4,1088.6 1030.4,1086.9 1031.4,1085.1 1032.3,1083.4 1033.3,1081.6 1034.2,1079.9 1035.2,1078.1 1036.1,1076.4 1037.1,1074.6 1038.0,1072.8 1039.0,1071.1 1039.9,1069.3 1040.8,1067.5 1041.8,1065.7 1042.7,1064.0 1043.6,1062.2 1044.5,1060.4 1045.4,1058.6 1046.3,1056.8 1047.2,1055.0 1048.1,1053.3 1049.0,1051.5 1049.9,1049.7 1050.8,1047.9 1051.7,1046.1 1052.6,1044.3 1053.5,1042.5 1054.4,1040.7 1055.2,1038.9 1056.1,1037.1 1057.0,1035.2 1057.9,1033.4 1058.7,1031.6 1059.6,1029.8 1060.4,1028.0 1061.3,1026.2 1062.2,1024.4 1063.0,1022.5 1063.9,1020.7 1064.7,1018.9 1065.5,1017.1 1066.4,1015.2 1067.2,1013.4 1068.1,1011.6 1068.9,1009.8 1069.7,1007.9 1070.6,1006.1 1071.4,1004.3 1072.2,1002.4 1073.0,1000.6 1073.9,998.8 1074.7,996.9 1075.5,995.1 1076.3,993.2 1077.1,991.4 1077.9,989.6 1078.7,987.7 1079.6,985.9 1080.4,984.0 1081.2,982.2 1082.0,980.4 1082.8,978.5 1083.6,976.7 1084.4,974.8 1085.2,973.0 1086.0,971.1 1086.7,969.3 1087.5,967.4 1088.3,965.6 1089.1,963.7 1089.9,961.9 1090.7,960.0 1091.5,958.2 1092.3,956.3 1093.0,954.5 1093.8,952.6 1094.6,950.8 1095.4,948.9 1096.2,947.0 1096.9,945.2 1097.7,943.3 1098.5,941.5 1099.3,939.6 1100.0,937.8 1100.8,935.9 1101.6,934.1 1102.4,932.2 1103.1,930.4 1103.9,928.5 1104.7,926.7 1105.4,924.8 1106.2,923.0 1107.0,921.1 1107.8,919.2 1108.5,917.4 1109.3,915.5 1110.1,913.7 1110.8,911.8 1111.6,910.0 1112.4,908.1 1113.1,906.3 1113.9,904.4 1114.7,902.6 1115.4,900.7 1116.2,898.9 1116.9,897.0 1117.7,895.2 1118.5,893.3 1119.2,891.5 1120.0,889.6 1120.7,887.8 1121.5,885.9 1122.3,884.1 1123.0,882.2 1123.8,880.4 1124.5,878.5 1125.3,876.7 1126.0,874.8 1126.8,873.0 1127.5,871.1 1128.3,869.2 1129.0,867.4 1129.8,865.5 1130.5,863.7 1131.3,861.8 1132.0,860.0 1132.8,858.1 1133.5,856.3 1134.3,854.4 1135.0,852.6 1135.7,850.7 1136.5,848.9 1137.2,847.0 1138.0,845.2 1138.7,843.3 1139.5,841.5 1140.2,839.6 1140.9,837.7 1141.7,835.9 1142.4,834.0 1143.1,832.2 1143.9,830.3 1144.6,828.5 1145.3,826.6 1146.1,824.8 1146.8,822.9 1147.5,821.1 1148.2,819.2 1149.0,817.3 1149.7,815.5 1150.4,813.6 1151.1,811.8 1151.9,809.9 1152.6,808.1 1153.3,806.2 1154.0,804.3 1154.8,802.5 1155.5,800.6 1156.2,798.8 1156.9,796.9 1157.6,795.0 1158.3,793.2 1159.0,791.3 1159.8,789.5 1160.5,787.6 1161.2,785.7 1161.9,783.9 1162.6,782.0 1163.3,780.1 1164.0,778.3 1164.7,776.4 1165.4,774.6 1166.1,772.7 1166.8,770.8 1167.5,769.0 1168.2,767.1 1168.9,765.2 1169.6,763.4 1170.3,761.5 1171.0,759.6 1171.7,757.8 1172.4,755.9 1173.1,754.0 1173.7,752.2 1174.4,750.3 1175.1,748.4 1175.8,746.5 1176.5,744.7 1177.2,742.8 1177.8,740.9 1178.5,739.0 1179.2,737.2 1179.9,735.3 1180.6,733.4 1181.2,731.5 1181.9,729.7 1182.6,727.8 1183.2,725.9 1183.9,724.0 1184.6,722.2 1185.2,720.3 1185.9,718.4 1186.6,716.5 1187.2,714.6 1187.9,712.8 1188.5,710.9 1189.2,709.0 1189.9,707.1 1190.5,705.2 1191.2,703.3 1191.8,701.4 1192.5,699.6 1193.1,697.7 1193.8,695.8 1194.4,693.9 1195.1,692.0 1195.7,690.1 1196.3,688.2 1197.0,686.3 1197.6,684.4 1198.3,682.5 1198.9,680.7 1199.5,678.8 1200.2,676.9 1200.8,675.0 1201.4,673.1 1202.0,671.2 1202.7,669.3 1203.3,667.4 1203.9,665.5 1204.5,663.6 1205.1,661.7 1205.8,659.8 1206.4,657.9 1207.0,656.0 1207.6,654.0 1208.2,652.1 1208.8,650.2 1209.4,648.3 1210.1,646.4 1210.7,644.5 1211.3,642.6 1211.9,640.7 1212.5,638.8 1213.1,636.9 1213.7,635.0 1214.3,633.1 1214.9,631.1 1215.5,629.2 1216.1,627.3 1216.7,625.4 1217.3,623.5 1217.9,621.6 1218.5,619.7 1219.1,617.7 1219.7,615.8 1220.3,613.9 1220.9,612.0 1221.4,610.1 1222.0,608.2 1222.6,606.2 1223.2,604.3 1223.8,602.4 1224.4,600.5 1225.0,598.6 1225.6,596.7 1226.2,594.7 1226.8,592.8 1227.4,590.9 1228.0,589.0 1228.5,587.1 1229.1,585.2 1229.7,583.2 1230.3,581.3 1230.9,579.4 1231.5,577.5 1232.1,575.6 1232.7,573.7 1233.3,571.7 1233.9,569.8 1234.5,567.9 1235.1,566.0 1235.7,564.1 1236.2,562.2 1236.8,560.2 1237.4,558.3 1238.0,556.4 1238.6,554.5 1239.2,552.6 1239.8,550.7 1240.4,548.7 1241.0,546.8 1241.6,544.9 1242.2,543.0 1242.8,541.1 1243.4,539.2 1244.0,537.3 1244.7,535.4 1245.3,533.4 1245.9,531.5 1246.5,529.6 1247.1,527.7 1247.7,525.8 1248.3,523.9 1248.9,522.0 1249.5,520.1 1250.2,518.2 1250.8,516.3 1251.4,514.4 1252.0,512.5 1252.6,510.6 1253.3,508.7 1253.9,506.8 1254.5,504.9 1255.2,503.0 1255.8,501.1 1256.4,499.2 1257.1,497.3 1257.7,495.4 1258.3,493.5 1259.0,491.6 1259.6,489.7 1260.3,487.8 1260.9,485.9 1261.6,484.0 1262.2,482.1 1262.9,480.2 1263.5,478.3 1264.2,476.4 1264.8,474.6 1265.5,472.7 1266.2,470.8 1266.8,468.9 1267.5,467.0 1268.2,465.1 1268.9,463.3 1269.5,461.4 1270.2,459.5 1270.9,457.6 1271.6,455.8 1272.3,453.9 1273.0,452.0 1273.7,450.1 1274.3,448.3 1275.0,446.4 1275.7,444.5 1276.5,442.7 1277.2,440.8 1277.9,439.0 1278.6,437.1 1279.3,435.2 1280.0,433.4 1280.8,431.5 1281.5,429.7 1282.2,427.8 1283.0,426.0 1283.7,424.1 1284.5,422.3 1285.2,420.4 1286.0,418.6 1286.7,416.8 1287.5,414.9 1288.3,413.1 1289.0,411.3 1289.8,409.4 1290.6,407.6 1291.4,405.8 1292.2,404.0 1293.0,402.1 1293.8,400.3 1294.6,398.5 1295.4,396.7 1296.3,394.9 1297.1,393.1 1297.9,391.3 1298.8,389.5 1299.6,387.7 1300.5,385.9 1301.4,384.1 1302.2,382.3 1303.1,380.6 1304.0,378.8 1304.9,377.0 1305.8,375.2 1306.7,373.5 1307.6,371.7 1308.5,369.9 1309.4,368.2 1310.4,366.4 1311.3,364.7 1312.3,362.9 1313.2,361.2 1314.2,359.4 1315.2,357.7 1316.2,356.0 1317.1,354.3 1318.1,352.5 1319.2,350.8 1320.2,349.1 1321.2,347.4 1322.2,345.7 1323.3,344.0 1324.3,342.3 1325.4,340.6 1326.5,338.9 1327.5,337.3" stroke="#ff0000" stroke-dasharray="57 37.4 8 37.4" stroke-dashoffset="11.6"/>
<polyline points="1327.5,337.3 1329.5,337.5 1331.5,337.7 1333.5,338.0 1335.5,338.2 1337.4,338.4 1339.4,338.7 1341.4,338.9 1343.4,339.1 1345.4,339.4 1347.4,339.7 1349.3,339.9 1351.3,340.2 1353.3,340.4 1355.3,340.7 1357.3,341.0 1359.3,341.3 1361.2,341.6 1363.2,341.8 1365.2,342.1 1367.2,342.4 1369.1,342.7 1371.1,343.0 1373.1,343.4 1374.0,343.5" stroke="#ff0000" stroke-dasharray="57 37.4 8 37.4" stroke-dashoffset="135.3"/>
<polyline points="1374.0,343.5 1375.1,345.2 1376.1,346.9 1377.2,348.6 1378.2,350.3 1379.3,352.0 1380.3,353.7 1381.4,355.4 1382.4,357.1 1383.5,358.8 1384.5,360.5 1385.6,362.2 1386.6,363.9 1387.6,365.6 1388.7,367.3 1389.7,369.1 1390.7,370.8 1391.8,372.5 1392.8,374.2 1393.8,375.9 1394.8,377.6 1395.9,379.4 1396.9,381.1 1397.9,382.8 1398.9,384.5 1399.9,386.2 1400.9,388.0 1401.9,389.7 1402.9,391.4 1403.9,393.1 1405.0,394.9 1406.0,396.6 1407.0,398.3 1408.0,400.0 1408.9,401.8 1409.9,403.5 1410.9,405.2 1411.9,407.0 1412.9,408.7 1413.9,410.4 1414.9,412.2 1415.9,413.9 1416.9,415.6 1417.8,417.4 1418.8,419.1 1419.8,420.9 1420.8,422.6 1421.8,424.3 1422.7,426.1 1423.7,427.8 1424.7,429.6 1425.7,431.3 1426.6,433.0 1427.6,434.8 1428.6,436.5 1429.5,438.3 1430.5,440.0 1431.5,441.8 1432.4,443.5 1433.4,445.3 1434.3,447.0 1435.3,448.8 1436.3,450.5 1437.2,452.3 1438.2,454.0 1439.1,455.8 1440.1,457.5 1441.0,459.3 1442.0,461.0 1442.9,462.8 1443.9,464.6 1444.8,466.3 1445.8,468.1 1446.7,469.8 1447.7,471.6 1448.6,473.3 1449.5,475.1 1450.5,476.9 1451.4,478.6 1452.4,480.4 1453.3,482.1 1454.2,483.9 1455.2,485.7 1456.1,487.4 1457.0,489.2 1458.0,491.0 1458.9,492.7 1459.8,494.5 1460.8,496.3 1461.7,498.0 1462.6,499.8 1463.6,501.5 1464.5,503.3 1465.4,505.1 1466.4,506.9 1467.3,508.6 1468.2,510.4 1469.1,512.2 1470.1,513.9 1471.0,515.7 1471.9,517.5 1472.8,519.2 1473.8,521.0 1474.7,522.8 1475.6,524.5 1476.5,526.3 1477.5,528.1 1478.4,529.9 1479.3,531.6 1480.2,533.4 1481.1,535.2 1482.1,536.9 1483.0,538.7 1483.9,540.5 1484.8,542.3 1485.7,544.0 1486.7,545.8 1487.6,547.6 1488.5,549.4 1489.4,551.1 1490.3,552.9 1491.2,554.7 1492.2,556.4 1493.1,558.2 1494.0,560.0 1494.9,561.8 1495.8,563.5 1496.8,565.3 1497.7,567.1 1498.6,568.9 1499.5,570.6 1500.4,572.4 1501.3,574.2 1502.3,576.0 1503.2,577.7 1504.1,579.5 1505.0,581.3 1505.9,583.1 1506.8,584.8 1507.8,586.6 1508.7,588.4 1509.6,590.2 1510.5,591.9 1511.4,593.7 1512.4,595.5 1513.3,597.3 1514.2,599.0 1515.1,600.8 1516.0,602.6 1517.0,604.4 1517.9,606.1 1518.8,607.9 1519.7,609.7 1520.6,611.5 1521.6,613.2 1522.5,615.0 1523.4,616.8 1524.3,618.6 1525.3,620.3 1526.2,622.1 1527.1,623.9 1528.0,625.7 1529.0,627.4 1529.9,629.2 1530.8,631.0 1531.7,632.8 1532.7,634.5 1533.6,636.3 1534.5,638.1 1535.5,639.8 1536.4,641.6 1537.3,643.4 1538.3,645.1 1539.2,646.9 1540.1,648.7 1541.1,650.5 1542.0,652.2 1542.9,654.0 1543.9,655.8 1544.8,657.5 1545.8,659.3 1546.7,661.1 1547.6,662.8 1548.6,664.6 1549.5,666.4 1550.5,668.1 1551.4,669.9 1552.4,671.7 1553.3,673.4 1554.3,675.2 1555.2,677.0 1556.1,678.7 1557.1,680.5 1558.1,682.2 1559.0,684.0 1560.0,685.8 1560.9,687.5 1561.9,689.3 1562.8,691.1 1563.8,692.8 1564.7,694.6 1565.7,696.3 1566.7,698.1 1567.6,699.8 1568.6,701.6 1569.6,703.4 1570.5,705.1 1571.5,706.9 1572.5,708.6 1573.4,710.4 1574.4,712.1 1575.4,713.9 1576.3,715.6 1577.3,717.4 1578.3,719.1 1579.3,720.9 1580.2,722.6 1581.2,724.4 1582.2,726.1 1583.2,727.9 1584.1,729.6 1585.1,731.4 1586.1,733.1 1587.1,734.9 1588.1,736.6 1589.1,738.4 1590.1,740.1 1591.0,741.9 1592.0,743.6 1593.0,745.3 1594.0,747.1 1595.0,748.8 1596.0,750.6 1597.0,752.3 1598.0,754.0 1599.0,755.8 1600.0,757.5 1601.0,759.2 1602.0,761.0 1603.0,762.7 1604.0,764.4 1605.0,766.2 1606.0,767.9 1607.0,769.6 1608.1,771.4 1609.1,773.1 1610.1,774.8 1611.1,776.6 1612.1,778.3 1613.1,780.0 1614.2,781.7 1615.2,783.5 1616.2,785.2 1617.2,786.9 1618.2,788.6 1619.3,790.3 1620.3,792.1 1621.3,793.8 1622.4,795.5 1623.4,797.2 1624.4,798.9 1625.5,800.6 1626.5,802.4 1627.5,804.1 1628.6,805.8 1629.6,807.5 1630.7,809.2 1631.7,810.9 1632.8,812.6 1633.8,814.3 1634.8,816.0 1635.9,817.7 1637.0,819.4 1638.0,821.1 1639.1,822.8 1640.1,824.5 1641.2,826.2 1642.2,827.9 1643.3,829.6 1644.4,831.3 1645.4,833.0 1646.5,834.7 1647.6,836.4 1648.6,838.1 1649.7,839.8 1650.8,841.5 1651.8,843.2 1652.9,844.9 1654.0,846.6 1655.1,848.2 1656.2,849.9 1657.2,851.6 1658.3,853.3 1659.4,855.0 1660.5,856.6 1661.6,858.3 1662.7,860.0 1663.8,861.7 1664.9,863.4 1666.0,865.0 1667.1,866.7 1668.2,868.4 1669.3,870.0 1670.4,871.7 1671.5,873.4 1672.6,875.0 1673.7,876.7 1674.8,878.4 1675.9,880.0 1677.0,881.7 1678.1,883.3 1679.2,885.0 1680.4,886.7 1681.5,888.3 1682.6,890.0 1683.7,891.6 1684.9,893.3 1686.0,894.9 1687.1,896.6 1688.3,898.2 1689.4,899.9 1690.5,901.5 1691.7,903.2 1692.8,904.8 1693.9,906.4 1695.1,908.1 1696.2,909.7 1697.4,911.3 1698.5,913.0 1699.7,914.6 1700.8,916.2 1702.0,917.9 1703.1,919.5 1704.3,921.1 1705.5,922.8 1706.6,924.4 1707.8,926.0 1709.0,927.6 1710.1,929.2 1711.3,930.9 1712.5,932.5 1713.7,934.1 1714.8,935.7 1716.0,937.3 1717.2,938.9 1718.4,940.5 1719.6,942.1 1720.7,943.8 1721.9,945.4 1723.1,947.0 1724.3,948.6 1725.5,950.2 1726.7,951.8 1727.9,953.4 1729.1,954.9 1730.3,956.5 1731.5,958.1 1732.7,959.7 1734.0,961.3 1735.2,962.9 1736.4,964.5 1737.6,966.1 1738.8,967.6 1740.0,969.2 1741.3,970.8 1742.5,972.4 1743.7,974.0 1744.9,975.5 1746.2,977.1 1747.4,978.7 1748.7,980.2 1749.9,981.8 1751.1,983.4 1752.4,984.9 1753.6,986.5 1754.9,988.0 1756.1,989.6 1757.4,991.2 1758.6,992.7 1759.9,994.3 1761.1,995.8 1762.4,997.4 1763.7,998.9 1764.9,1000.4 1766.2,1002.0 1767.5,1003.5 1768.8,1005.1 1770.0,1006.6 1771.3,1008.1 1772.6,1009.7 1773.9,1011.2 1775.2,1012.7 1776.5,1014.3 1777.7,1015.8 1779.0,1017.3 1780.3,1018.8 1781.6,1020.3 1782.9,1021.9 1784.2,1023.4 1785.5,1024.9 1786.8,1026.4 1788.2,1027.9 1789.5,1029.4 1790.8,1030.9 1792.1,1032.4 1793.4,1033.9 1794.7,1035.4 1796.1,1036.9 1797.4,1038.4 1798.7,1039.9 1800.0,1041.4 1801.4,1042.9 1802.7,1044.4 1804.1,1045.9 1805.4,1047.3 1806.7,1048.8 1808.1,1050.3 1809.4,1051.8 1810.8,1053.2 1812.1,1054.7 1813.5,1056.2 1814.8,1057.7 1816.2,1059.1 1817.6,1060.6 1818.9,1062.0 1820.3,1063.5 1821.7,1065.0 1823.0,1066.4 1824.4,1067.9 1825.8,1069.3 1827.2,1070.8 1828.5,1072.2 1829.9,1073.7 1831.3,1075.1 1832.7,1076.5 1834.1,1078.0 1835.5,1079.4 1836.9,1080.8 1838.3,1082.3 1839.7,1083.7 1841.1,1085.1 1842.5,1086.5 1843.9,1088.0 1845.3,1089.4 1846.7,1090.8 1848.1,1092.2 1849.5,1093.6 1851.0,1095.0 1852.4,1096.4 1853.8,1097.8 1855.2,1099.2 1856.7,1100.6 1858.1,1102.0 1859.5,1103.4 1861.0,1104.8 1862.4,1106.2 1863.8,1107.6 1865.3,1109.0 1866.7,1110.3 1868.2,1111.7 1869.6,1113.1 1871.1,1114.5 1872.5,1115.8 1874.0,1117.2 1875.4,1118.6 1876.9,1119.9 1878.4,1121.3 1879.8,1122.7 1881.3,1124.0 1882.8,1125.4 1884.2,1126.7 1885.7,1128.1 1887.2,1129.4 1888.7,1130.8 1890.1,1132.1 1891.6,1133.4 1893.1,1134.8 1894.6,1136.1 1896.1,1137.4 1897.6,1138.8 1899.1,1140.1 1900.6,1141.4 1902.1,1142.7 1903.6,1144.0 1905.1,1145.3 1906.6,1146.7 1908.1,1148.0 1909.6,1149.3 1911.1,1150.6 1912.7,1151.9 1914.2,1153.2 1915.7,1154.5 1917.2,1155.7 1918.8,1157.0 1920.3,1158.3 1921.8,1159.6 1923.3,1160.9 1924.9,1162.2 1926.4,1163.4 1928.0,1164.7 1929.5,1166.0 1931.1,1167.2 1932.6,1168.5 1934.1,1169.8 1935.7,1171.0 1937.3,1172.3 1938.8,1173.5 1940.4,1174.8 1941.9,1176.0 1943.5,1177.3 1945.1,1178.5 1946.6,1179.7 1948.2,1181.0 1949.8,1182.2 1951.4,1183.4 1952.9,1184.6 1954.5,1185.9 1956.1,1187.1 1957.7,1188.3 1959.3,1189.5 1960.9,1190.7 1962.4,1191.9 1964.0,1193.1 1965.6,1194.3 1967.2,1195.5 1968.8,1196.7 1970.4,1197.9 1972.0,1199.1 1973.7,1200.3 1975.3,1201.5 1976.9,1202.6 1978.5,1203.8 1980.1,1205.0 1981.7,1206.2 1983.3,1207.3 1985.0,1208.5 1986.6,1209.7 1988.2,1210.8 1989.8,1212.0 1991.5,1213.1 1993.1,1214.3 1994.7,1215.4 1996.4,1216.6 1998.0,1217.7 1999.7,1218.9 2001.3,1220.0 2002.9,1221.1 2004.6,1222.3 2006.2,1223.4 2007.9,1224.5 2009.6,1225.6 2011.2,1226.7 2012.9,1227.9 2014.5,1229.0 2016.2,1230.1 2017.8,1231.2 2019.5,1232.3 2021.2,1233.4 2022.9,1234.5 2024.5,1235.6 2026.2,1236.7 2027.9,1237.8 2029.6,1238.8 2031.2,1239.9 2032.9,1241.0 2034.6,1242.1 2036.3,1243.2 2038.0,1244.2 2039.7,1245.3 2041.3,1246.4 2043.0,1247.4 2044.7,1248.5 2046.4,1249.5 2048.1,1250.6 2049.8,1251.6 2051.5,1252.7 2053.2,1253.7 2054.9,1254.8 2056.7,1255.8 2058.4,1256.9 2060.1,1257.9 2061.8,1258.9 2063.5,1259.9 2065.2,1261.0 2066.9,1262.0 2068.7,1263.0 2070.4,1264.0 2072.1,1265.0 2073.8,1266.0 2075.6,1267.0 2077.3,1268.0 2079.0,1269.0 2080.7,1270.0 2082.5,1271.0 2084.2,1272.0 2086.0,1273.0 2087.7,1274.0 2089.4,1275.0 2091.2,1276.0 2092.9,1276.9 2094.7,1277.9 2096.4,1278.9 2098.2,1279.9 2099.9,1280.8 2101.7,1281.8 2103.4,1282.7 2105.2,1283.7 2106.9,1284.6 2108.7,1285.6 2110.5,1286.5 2112.2,1287.5 2114.0,1288.4 2115.8,1289.4 2117.5,1290.3 2119.3,1291.2 2121.1,1292.2 2122.8,1293.1 2124.6,1294.0 2126.4,1294.9 2128.2,1295.9 2129.9,1296.8 2131.7,1297.7 2133.5,1298.6 2135.3,1299.5 2137.1,1300.4 2138.8,1301.3 2140.6,1302.2 2142.4,1303.1 2144.2,1304.0 2146.0,1304.9 2147.8,1305.8 2149.6,1306.6 2151.4,1307.5 2153.2,1308.4 2155.0,1309.3 2156.8,1310.1 2158.6,1311.0 2160.4,1311.9 2162.2,1312.7 2164.0,1313.6 2165.8,1314.5 2167.6,1315.3 2169.4,1316.2 2171.2,1317.0 2173.1,1317.9 2174.9,1318.7 2176.7,1319.5 2178.5,1320.4 2180.3,1321.2 2182.1,1322.0 2184.0,1322.9 2185.8,1323.7 2187.6,1324.5 2189.4,1325.3 2191.3,1326.1 2193.1,1327.0 2194.9,1327.8 2196.7,1328.6 2198.6,1329.4 2200.4,1330.2 2202.2,1331.0 2204.1,1331.8 2205.9,1332.6 2207.8,1333.4 2209.6,1334.1 2211.4,1334.9 2213.3,1335.7 2215.1,1336.5 2217.0,1337.3 2218.8,1338.0 2220.7,1338.8 2222.5,1339.6 2224.4,1340.3 2226.2,1341.1 2228.1,1341.9 2229.9,1342.6 2231.8,1343.4 2233.6,1344.1 2235.5,1344.9 2237.3,1345.6 2239.2,1346.4 2241.0,1347.1 2242.9,1347.8 2244.8,1348.6 2246.6,1349.3 2248.5,1350.0 2250.4,1350.7 2252.2,1351.5 2254.1,1352.2 2256.0,1352.9 2257.8,1353.6 2259.7,1354.3 2261.6,1355.0 2263.4,1355.7 2265.3,1356.4 2267.2,1357.1 2269.1,1357.8 2270.9,1358.5 2272.8,1359.2 2274.7,1359.9 2276.6,1360.6 2278.5,1361.3 2280.3,1361.9 2282.2,1362.6 2284.1,1363.3 2286.0,1364.0 2287.9,1364.6 2289.8,1365.3 2291.7,1366.0 2293.5,1366.6 2295.4,1367.3 2297.3,1367.9 2299.2,1368.6 2301.1,1369.2 2303.0,1369.9 2304.9,1370.5 2306.8,1371.2 2308.7,1371.8 2310.6,1372.4 2312.5,1373.1 2314.4,1373.7 2316.3,1374.3 2318.2,1374.9 2320.1,1375.6 2322.0,1376.2 2323.9,1376.8 2325.8,1377.4 2327.7,1378.0 2329.6,1378.6 2331.5,1379.2 2333.4,1379.8 2335.3,1380.4 2337.2,1381.0 2339.1,1381.6 2341.0,1382.2 2343.0,1382.8 2344.9,1383.4 2346.8,1383.9 2348.7,1384.5 2350.6,1385.1 2352.5,1385.7 2354.4,1386.2 2356.3,1386.8 2358.3,1387.4 2360.2,1387.9 2362.1,1388.5 2364.0,1389.0 2365.9,1389.6 2367.9,1390.1 2369.8,1390.7 2371.7,1391.2 2373.6,1391.8 2375.5,1392.3 2377.5,1392.9 2379.4,1393.4 2381.3,1393.9 2383.2,1394.5 2385.2,1395.0 2387.1,1395.5 2389.0,1396.0 2390.9,1396.5 2392.9,1397.1 2394.8,1397.6 2396.7,1398.1 2398.7,1398.6 2400.6,1399.1 2402.5,1399.6 2404.5,1400.1 2406.4,1400.6 2408.3,1401.1 2410.3,1401.6 2412.2,1402.0 2414.1,1402.5 2416.1,1403.0 2418.0,1403.5 2419.9,1404.0 2421.9,1404.4 2423.8,1404.9 2425.0,1405.2" stroke="#ff0000" stroke-dasharray="57 37.4 8 37.4" stroke-dashoffset="60.8"/>
</g>
<g id="legend">
<text class="lt" x="1690.8" y="144">Ignition time (ATDC)</text>
<line x1="1961.5" y1="219.6" x2="2114.9" y2="219.6" stroke="#000" stroke-width="13" stroke-linecap="round"/>
<text class="lg" x="2133" y="243.2">-34 deg</text>
<line x1="1961.5" y1="303.6" x2="2114.9" y2="303.6" stroke="#ff0000" stroke-width="13" stroke-linecap="round"/>
<text class="lg" x="2133" y="327.2">-32 deg</text>
<line x1="1961.5" y1="387.7" x2="2114.9" y2="387.7" stroke="#0000ff" stroke-width="13" stroke-linecap="round"/>
<text class="lg" x="2133" y="411.3">-30 deg</text>
<line x1="1961.5" y1="471.8" x2="2114.9" y2="471.8" stroke="#000" stroke-width="13" stroke-linecap="round" stroke-dasharray="47.5 63.8"/>
<text class="lg" x="2133" y="495.4">-28 deg</text>
<line x1="1961.5" y1="555.8" x2="2114.9" y2="555.8" stroke="#ff0000" stroke-width="13" stroke-linecap="round" stroke-dasharray="47.5 63.8"/>
<text class="lg" x="2133" y="579.4">-26 deg</text>
<line x1="1961.5" y1="639.9" x2="2114.9" y2="639.9" stroke="#0000ff" stroke-width="13" stroke-linecap="round" stroke-dasharray="47.5 63.8"/>
<text class="lg" x="2133" y="663.5">-24 deg</text>
<line x1="1961.5" y1="723.9" x2="2114.9" y2="723.9" stroke="#000" stroke-width="13" stroke-linecap="round" stroke-dasharray="57 37.4 8 37.4"/>
<text class="lg" x="2133" y="747.5">-22 deg</text>
<line x1="1961.5" y1="808.0" x2="2114.9" y2="808.0" stroke="#ff0000" stroke-width="13" stroke-linecap="round" stroke-dasharray="57 37.4 8 37.4"/>
<text class="lg" x="2133" y="831.6">-20 deg</text>
</g>
<g id="annot">
<line x1="1009.7" y1="1169.3" x2="1009.7" y2="1400" stroke="#000" stroke-width="12.5" stroke-linecap="round"/>
<path d="M992.5,1391.5 L1026.5,1391.5 L1009.5,1453.5 Z" fill="#000" stroke="#000" stroke-width="9" stroke-linejoin="round"/>
<text class="ti" x="1046.6" y="1321.8">Late Ignition</text>
</g>
<text class="ti" x="1368.4" y="1811" text-anchor="middle">Crank Angle (Deg_ATDC)</text>
<text class="ti" transform="translate(78,831.6) rotate(-90)" text-anchor="middle">Engine Press (MPa)</text>
<text class="cap" x="1248" y="1956" text-anchor="middle">(<tspan font-weight="bold">a</tspan>)</text>
</svg></body></html>
